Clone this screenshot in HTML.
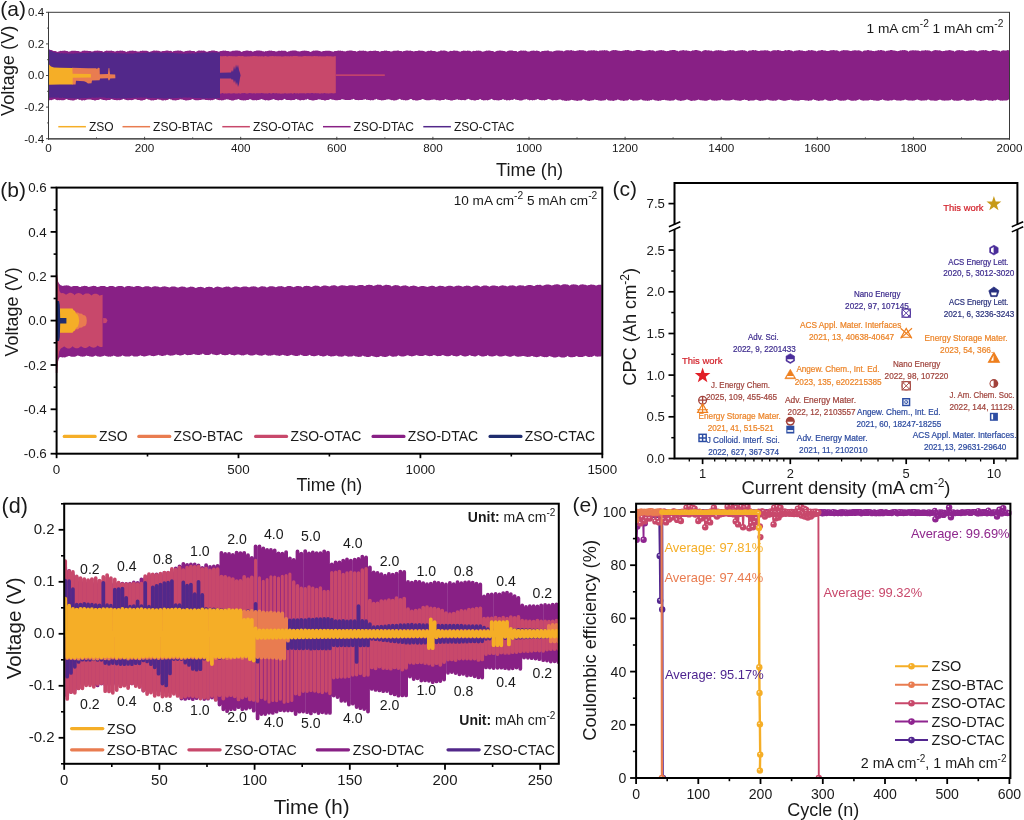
<!DOCTYPE html>
<html><head><meta charset="utf-8"><title>figure</title>
<style>html,body{margin:0;padding:0;background:#fff}svg{display:block;will-change:transform}text{font-family:"Liberation Sans",sans-serif}</style></head>
<body>
<svg width="1024" height="820" viewBox="0 0 1024 820">
<rect width="1024" height="820" fill="#fff"/>
<g id="pa" font-family="Liberation Sans, sans-serif">
<path d="M48.5 49.0 L49.5 49.4 L50.5 50.0 L51.5 50.1 L52.5 50.5 L53.5 50.9 L54.5 51.0 L55.5 51.1 L56.5 51.4 L57.5 51.9 L58.5 51.4 L59.5 51.2 L60.5 50.7 L61.5 50.9 L62.5 50.7 L63.5 50.7 L64.5 50.6 L65.5 50.7 L66.5 51.1 L67.5 51.0 L68.5 51.7 L69.5 51.6 L70.5 51.2 L71.5 50.8 L72.5 50.8 L73.5 50.7 L74.5 50.8 L75.5 50.7 L76.5 50.9 L77.5 51.0 L78.5 51.1 L79.5 51.5 L80.5 51.8 L81.5 51.5 L82.5 50.8 L83.5 50.8 L84.5 50.6 L85.5 50.8 L86.5 50.7 L87.5 50.8 L88.5 50.9 L89.5 50.9 L90.5 51.1 L91.5 51.6 L92.5 51.4 L93.5 51.2 L94.5 50.7 L95.5 50.7 L96.5 50.8 L97.5 50.6 L98.5 50.7 L99.5 50.7 L100.5 51.0 L101.5 51.0 L102.5 51.2 L103.5 52.1 L104.5 51.3 L105.5 51.0 L106.5 50.6 L107.5 50.8 L108.5 50.7 L109.5 50.7 L110.5 50.7 L111.5 50.5 L112.5 51.0 L113.5 51.0 L114.5 51.6 L115.5 51.4 L116.5 51.1 L117.5 50.8 L118.5 50.9 L119.5 50.7 L120.5 50.5 L121.5 50.8 L122.5 50.5 L123.5 50.9 L124.5 50.9 L125.5 51.5 L126.5 52.1 L127.5 51.2 L128.5 51.2 L129.5 50.7 L130.5 50.7 L131.5 50.8 L132.5 50.4 L133.5 50.8 L134.5 50.9 L135.5 50.7 L136.5 51.3 L137.5 51.4 L138.5 51.5 L139.5 51.4 L140.5 50.7 L141.5 50.9 L142.5 50.6 L143.5 50.8 L144.5 50.7 L145.5 50.8 L146.5 50.7 L147.5 50.9 L148.5 51.4 L149.5 52.1 L150.5 51.5 L151.5 51.2 L152.5 51.0 L153.5 50.4 L154.5 50.5 L155.5 50.7 L156.5 50.6 L157.5 50.8 L158.5 50.8 L159.5 51.1 L160.5 51.4 L161.5 51.5 L162.5 51.0 L163.5 51.1 L164.5 50.9 L165.5 50.7 L166.5 50.4 L167.5 50.5 L168.5 50.7 L169.5 51.0 L170.5 50.8 L171.5 51.1 L172.5 52.1 L173.5 51.1 L174.5 50.9 L175.5 50.7 L176.5 50.7 L177.5 50.5 L178.5 50.4 L179.5 50.8 L180.5 50.5 L181.5 50.9 L182.5 51.3 L183.5 51.7 L184.5 51.5 L185.5 51.1 L186.5 50.9 L187.5 50.7 L188.5 50.7 L189.5 50.4 L190.5 50.6 L191.5 50.9 L192.5 51.0 L193.5 50.9 L194.5 51.1 L195.5 52.0 L196.5 51.5 L197.5 51.1 L198.5 50.6 L199.5 50.4 L200.5 50.8 L201.5 50.4 L202.5 50.8 L203.5 50.5 L204.5 50.7 L205.5 51.2 L206.5 51.7 L207.5 51.7 L208.5 51.3 L209.5 51.0 L210.5 50.9 L211.5 50.4 L212.5 50.6 L213.5 50.5 L214.5 50.6 L215.5 50.9 L216.5 51.0 L217.5 51.2 L218.5 51.7 L219.5 51.5 L220.5 51.1 L221.5 50.9 L222.5 50.8 L223.5 50.6 L224.5 50.8 L225.5 50.4 L226.5 51.0 L227.5 50.9 L228.5 51.0 L229.5 51.4 L230.5 51.4 L231.5 51.2 L232.5 50.8 L233.5 50.7 L234.5 50.7 L235.5 50.5 L236.5 50.6 L237.5 50.5 L238.5 50.7 L239.5 50.8 L240.5 51.3 L241.5 51.9 L242.5 51.5 L243.5 51.0 L244.5 51.0 L245.5 50.8 L246.5 50.6 L247.5 50.5 L248.5 50.7 L249.5 50.9 L250.5 50.8 L251.5 51.0 L252.5 51.7 L253.5 51.4 L254.5 51.1 L255.5 51.0 L256.5 50.5 L257.5 50.5 L258.5 50.6 L259.5 50.4 L260.5 50.7 L261.5 50.7 L262.5 51.2 L263.5 51.3 L264.5 51.8 L265.5 51.1 L266.5 51.2 L267.5 51.0 L268.5 50.8 L269.5 50.5 L270.5 50.7 L271.5 50.5 L272.5 51.0 L273.5 50.9 L274.5 51.1 L275.5 51.6 L276.5 51.5 L277.5 51.2 L278.5 50.8 L279.5 50.8 L280.5 50.9 L281.5 50.5 L282.5 50.7 L283.5 50.8 L284.5 50.7 L285.5 50.8 L286.5 51.4 L287.5 52.0 L288.5 51.2 L289.5 51.2 L290.5 50.8 L291.5 50.8 L292.5 50.5 L293.5 50.6 L294.5 50.6 L295.5 50.6 L296.5 50.7 L297.5 51.3 L298.5 51.3 L299.5 51.5 L300.5 51.3 L301.5 51.0 L302.5 50.7 L303.5 50.7 L304.5 50.5 L305.5 50.8 L306.5 50.8 L307.5 51.0 L308.5 51.0 L309.5 51.4 L310.5 52.0 L311.5 51.5 L312.5 51.1 L313.5 50.6 L314.5 50.8 L315.5 50.6 L316.5 50.4 L317.5 50.4 L318.5 50.8 L319.5 50.9 L320.5 51.3 L321.5 51.7 L322.5 51.3 L323.5 51.0 L324.5 50.9 L325.5 50.7 L326.5 50.7 L327.5 50.8 L328.5 50.8 L329.5 50.8 L330.5 51.0 L331.5 51.2 L332.5 51.4 L333.5 51.7 L334.5 51.1 L335.5 50.9 L336.5 50.9 L337.5 50.7 L338.5 50.5 L339.5 50.7 L340.5 50.5 L341.5 50.9 L342.5 50.8 L343.5 51.2 L344.5 51.3 L345.5 51.6 L346.5 51.1 L347.5 50.8 L348.5 50.7 L349.5 50.4 L350.5 50.4 L351.5 50.4 L352.5 50.7 L353.5 50.9 L354.5 51.0 L355.5 51.1 L356.5 51.8 L357.5 51.3 L358.5 51.1 L359.5 50.6 L360.5 50.8 L361.5 50.8 L362.5 50.8 L363.5 50.5 L364.5 50.9 L365.5 50.8 L366.5 51.2 L367.5 51.6 L368.5 51.3 L369.5 51.0 L370.5 50.7 L371.5 50.9 L372.5 50.9 L373.5 50.8 L374.5 50.8 L375.5 50.6 L376.5 51.0 L377.5 50.9 L378.5 51.1 L379.5 51.8 L380.5 51.5 L381.5 51.1 L382.5 51.0 L383.5 50.9 L384.5 50.6 L385.5 50.7 L386.5 50.5 L387.5 50.9 L388.5 51.0 L389.5 51.1 L390.5 51.6 L391.5 51.5 L392.5 51.2 L393.5 50.8 L394.5 50.8 L395.5 50.8 L396.5 50.8 L397.5 50.5 L398.5 50.5 L399.5 51.1 L400.5 51.1 L401.5 51.1 L402.5 51.8 L403.5 51.1 L404.5 51.1 L405.5 50.7 L406.5 50.5 L407.5 50.6 L408.5 50.7 L409.5 50.7 L410.5 50.6 L411.5 51.1 L412.5 50.9 L413.5 51.4 L414.5 51.3 L415.5 51.0 L416.5 51.0 L417.5 50.9 L418.5 50.6 L419.5 50.6 L420.5 50.8 L421.5 50.8 L422.5 50.8 L423.5 51.1 L424.5 51.2 L425.5 51.7 L426.5 51.4 L427.5 51.1 L428.5 50.7 L429.5 50.9 L430.5 50.6 L431.5 50.5 L432.5 50.9 L433.5 50.9 L434.5 51.0 L435.5 51.2 L436.5 51.7 L437.5 51.7 L438.5 51.3 L439.5 51.2 L440.5 50.6 L441.5 50.5 L442.5 50.7 L443.5 50.6 L444.5 50.5 L445.5 50.7 L446.5 50.9 L447.5 51.4 L448.5 51.7 L449.5 51.3 L450.5 50.8 L451.5 50.9 L452.5 50.9 L453.5 50.6 L454.5 50.5 L455.5 50.7 L456.5 50.7 L457.5 50.8 L458.5 51.3 L459.5 51.4 L460.5 51.7 L461.5 51.0 L462.5 50.9 L463.5 50.5 L464.5 50.8 L465.5 50.8 L466.5 50.9 L467.5 50.5 L468.5 50.8 L469.5 50.8 L470.5 51.1 L471.5 51.8 L472.5 51.3 L473.5 50.8 L474.5 50.9 L475.5 50.9 L476.5 50.5 L477.5 50.7 L478.5 50.6 L479.5 50.8 L480.5 50.7 L481.5 51.2 L482.5 51.7 L483.5 51.6 L484.5 51.3 L485.5 50.9 L486.5 50.6 L487.5 50.7 L488.5 50.6 L489.5 50.5 L490.5 50.8 L491.5 51.1 L492.5 50.9 L493.5 51.3 L494.5 52.1 L495.5 51.4 L496.5 51.1 L497.5 50.8 L498.5 50.8 L499.5 50.4 L500.5 50.5 L501.5 50.8 L502.5 50.8 L503.5 51.1 L504.5 51.1 L505.5 51.4 L506.5 51.7 L507.5 51.1 L508.5 50.8 L509.5 50.6 L510.5 50.4 L511.5 50.5 L512.5 50.6 L513.5 50.9 L514.5 51.0 L515.5 50.9 L516.5 51.1 L517.5 51.9 L518.5 51.3 L519.5 50.9 L520.5 50.6 L521.5 50.5 L522.5 50.7 L523.5 50.4 L524.5 50.8 L525.5 50.6 L526.5 51.1 L527.5 51.4 L528.5 51.4 L529.5 51.5 L530.5 51.0 L531.5 50.7 L532.5 50.7 L533.5 50.4 L534.5 50.8 L535.5 50.9 L536.5 50.6 L537.5 50.8 L538.5 50.9 L539.5 51.2 L540.5 52.0 L541.5 51.3 L542.5 51.0 L543.5 51.0 L544.5 50.7 L545.5 50.8 L546.5 50.8 L547.5 50.5 L548.5 50.6 L549.5 51.2 L550.5 51.3 L551.5 51.3 L552.5 51.7 L553.5 51.2 L554.5 51.0 L555.5 50.8 L556.5 50.5 L557.5 50.5 L558.5 50.6 L559.5 50.6 L560.5 50.7 L561.5 50.8 L562.5 50.8 L563.5 51.4 L564.5 50.9 L565.5 50.5 L566.5 50.3 L567.5 50.3 L568.5 50.2 L569.5 50.4 L570.5 50.2 L571.5 50.1 L572.5 50.7 L573.5 50.5 L574.5 51.0 L575.5 51.0 L576.5 50.8 L577.5 50.5 L578.5 50.5 L579.5 50.1 L580.5 50.2 L581.5 50.3 L582.5 50.3 L583.5 50.3 L584.5 50.7 L585.5 50.7 L586.5 51.4 L587.5 50.9 L588.5 50.6 L589.5 50.6 L590.5 50.5 L591.5 50.3 L592.5 50.4 L593.5 50.2 L594.5 50.2 L595.5 50.7 L596.5 50.5 L597.5 51.0 L598.5 51.3 L599.5 50.6 L600.5 50.5 L601.5 50.4 L602.5 50.2 L603.5 50.4 L604.5 50.0 L605.5 50.4 L606.5 50.2 L607.5 50.6 L608.5 51.1 L609.5 51.4 L610.5 50.9 L611.5 50.5 L612.5 50.2 L613.5 50.1 L614.5 50.2 L615.5 50.0 L616.5 50.2 L617.5 50.4 L618.5 50.8 L619.5 50.8 L620.5 51.0 L621.5 50.9 L622.5 50.8 L623.5 50.6 L624.5 50.5 L625.5 50.1 L626.5 50.2 L627.5 50.1 L628.5 50.1 L629.5 50.6 L630.5 50.8 L631.5 50.8 L632.5 51.3 L633.5 50.8 L634.5 50.8 L635.5 50.4 L636.5 50.1 L637.5 50.1 L638.5 50.1 L639.5 50.1 L640.5 50.4 L641.5 50.6 L642.5 50.8 L643.5 50.9 L644.5 51.1 L645.5 50.8 L646.5 50.5 L647.5 50.5 L648.5 50.2 L649.5 50.1 L650.5 50.3 L651.5 50.4 L652.5 50.3 L653.5 50.6 L654.5 51.0 L655.5 51.6 L656.5 50.7 L657.5 50.8 L658.5 50.4 L659.5 50.3 L660.5 50.3 L661.5 50.1 L662.5 50.4 L663.5 50.2 L664.5 50.7 L665.5 51.0 L666.5 51.2 L667.5 50.9 L668.5 50.9 L669.5 50.5 L670.5 50.2 L671.5 50.3 L672.5 50.0 L673.5 50.1 L674.5 50.1 L675.5 50.3 L676.5 50.7 L677.5 50.7 L678.5 51.4 L679.5 50.7 L680.5 50.6 L681.5 50.6 L682.5 50.2 L683.5 50.1 L684.5 50.4 L685.5 50.5 L686.5 50.3 L687.5 50.7 L688.5 50.8 L689.5 51.0 L690.5 51.3 L691.5 50.9 L692.5 50.3 L693.5 50.5 L694.5 50.2 L695.5 50.1 L696.5 50.0 L697.5 50.2 L698.5 50.4 L699.5 50.7 L700.5 51.0 L701.5 51.7 L702.5 50.9 L703.5 50.6 L704.5 50.3 L705.5 50.1 L706.5 50.2 L707.5 50.4 L708.5 50.2 L709.5 50.4 L710.5 50.7 L711.5 50.6 L712.5 51.2 L713.5 51.2 L714.5 50.8 L715.5 50.6 L716.5 50.2 L717.5 50.4 L718.5 50.0 L719.5 50.4 L720.5 50.3 L721.5 50.5 L722.5 50.7 L723.5 50.8 L724.5 51.3 L725.5 50.9 L726.5 50.9 L727.5 50.6 L728.5 50.4 L729.5 50.3 L730.5 50.1 L731.5 50.4 L732.5 50.2 L733.5 50.3 L734.5 50.8 L735.5 51.2 L736.5 50.9 L737.5 50.7 L738.5 50.5 L739.5 50.5 L740.5 50.3 L741.5 50.2 L742.5 50.1 L743.5 50.4 L744.5 50.2 L745.5 50.7 L746.5 50.9 L747.5 51.7 L748.5 50.8 L749.5 50.4 L750.5 50.4 L751.5 50.5 L752.5 50.0 L753.5 50.0 L754.5 50.4 L755.5 50.1 L756.5 50.4 L757.5 50.7 L758.5 50.9 L759.5 50.9 L760.5 50.5 L761.5 50.4 L762.5 50.5 L763.5 50.4 L764.5 50.3 L765.5 50.3 L766.5 50.5 L767.5 50.2 L768.5 50.8 L769.5 51.0 L770.5 51.4 L771.5 51.0 L772.5 50.5 L773.5 50.3 L774.5 50.2 L775.5 50.3 L776.5 50.4 L777.5 50.1 L778.5 50.1 L779.5 50.6 L780.5 50.6 L781.5 50.9 L782.5 51.1 L783.5 50.9 L784.5 50.4 L785.5 50.1 L786.5 50.4 L787.5 50.3 L788.5 50.1 L789.5 50.1 L790.5 50.5 L791.5 50.4 L792.5 50.9 L793.5 51.5 L794.5 50.8 L795.5 50.7 L796.5 50.6 L797.5 50.5 L798.5 50.3 L799.5 50.0 L800.5 50.4 L801.5 50.4 L802.5 50.4 L803.5 51.0 L804.5 50.9 L805.5 51.3 L806.5 50.7 L807.5 50.7 L808.5 50.1 L809.5 50.2 L810.5 50.4 L811.5 50.0 L812.5 50.2 L813.5 50.6 L814.5 50.8 L815.5 50.8 L816.5 51.5 L817.5 50.9 L818.5 50.5 L819.5 50.6 L820.5 50.4 L821.5 50.1 L822.5 50.0 L823.5 50.4 L824.5 50.4 L825.5 50.5 L826.5 51.0 L827.5 51.0 L828.5 51.0 L829.5 50.7 L830.5 50.3 L831.5 50.3 L832.5 50.3 L833.5 50.1 L834.5 50.3 L835.5 50.5 L836.5 50.3 L837.5 50.4 L838.5 50.9 L839.5 51.4 L840.5 50.9 L841.5 50.6 L842.5 50.4 L843.5 50.1 L844.5 50.2 L845.5 50.2 L846.5 50.2 L847.5 50.3 L848.5 50.5 L849.5 50.7 L850.5 51.1 L851.5 51.0 L852.5 50.6 L853.5 50.4 L854.5 50.2 L855.5 50.3 L856.5 50.4 L857.5 50.5 L858.5 50.2 L859.5 50.6 L860.5 50.7 L861.5 51.2 L862.5 51.7 L863.5 50.7 L864.5 50.4 L865.5 50.6 L866.5 50.4 L867.5 50.1 L868.5 50.0 L869.5 50.5 L870.5 50.5 L871.5 50.6 L872.5 50.9 L873.5 51.0 L874.5 51.3 L875.5 50.8 L876.5 50.7 L877.5 50.4 L878.5 50.1 L879.5 50.4 L880.5 50.1 L881.5 50.1 L882.5 50.4 L883.5 50.6 L884.5 50.8 L885.5 51.6 L886.5 50.8 L887.5 50.8 L888.5 50.5 L889.5 50.5 L890.5 50.1 L891.5 50.1 L892.5 50.2 L893.5 50.4 L894.5 50.6 L895.5 50.8 L896.5 51.1 L897.5 51.3 L898.5 50.9 L899.5 50.7 L900.5 50.3 L901.5 50.4 L902.5 50.1 L903.5 50.2 L904.5 50.0 L905.5 50.3 L906.5 50.6 L907.5 50.8 L908.5 51.7 L909.5 50.7 L910.5 50.6 L911.5 50.6 L912.5 50.2 L913.5 50.3 L914.5 50.4 L915.5 50.2 L916.5 50.4 L917.5 50.5 L918.5 50.5 L919.5 50.9 L920.5 51.3 L921.5 50.6 L922.5 50.6 L923.5 50.5 L924.5 50.5 L925.5 50.1 L926.5 50.4 L927.5 50.3 L928.5 50.4 L929.5 50.4 L930.5 51.1 L931.5 51.6 L932.5 51.1 L933.5 50.5 L934.5 50.3 L935.5 50.1 L936.5 50.2 L937.5 50.3 L938.5 50.4 L939.5 50.2 L940.5 50.5 L941.5 50.9 L942.5 51.3 L943.5 51.0 L944.5 50.9 L945.5 50.4 L946.5 50.4 L947.5 50.4 L948.5 50.3 L949.5 50.1 L950.5 50.3 L951.5 50.6 L952.5 50.8 L953.5 50.7 L954.5 51.7 L955.5 51.0 L956.5 50.5 L957.5 50.3 L958.5 50.3 L959.5 50.1 L960.5 50.4 L961.5 50.2 L962.5 50.3 L963.5 50.5 L964.5 51.0 L965.5 51.2 L966.5 51.0 L967.5 50.9 L968.5 50.4 L969.5 50.4 L970.5 50.3 L971.5 50.3 L972.5 50.5 L973.5 50.3 L974.5 50.5 L975.5 50.8 L976.5 51.1 L977.5 51.5 L978.5 51.0 L979.5 50.6 L980.5 50.6 L981.5 50.3 L982.5 50.2 L983.5 50.0 L984.5 50.4 L985.5 50.1 L986.5 50.3 L987.5 50.7 L988.5 51.1 L989.5 51.2 L990.5 50.9 L991.5 50.7 L992.5 50.1 L993.5 50.0 L994.5 50.3 L995.5 50.2 L996.5 50.3 L997.5 50.6 L998.5 50.7 L999.5 50.8 L1000.5 51.7 L1001.5 50.7 L1002.5 50.5 L1003.5 50.3 L1004.5 50.4 L1005.5 50.5 L1006.5 50.4 L1007.5 50.1 L1008.5 50.3 L1009.5 50.3 L1009.5 99.8 L1008.5 99.6 L1007.5 100.2 L1006.5 100.5 L1005.5 100.5 L1004.5 100.5 L1003.5 100.5 L1002.5 100.8 L1001.5 100.5 L1000.5 100.7 L999.5 100.2 L998.5 100.0 L997.5 99.5 L996.5 99.9 L995.5 100.4 L994.5 100.3 L993.5 100.5 L992.5 100.9 L991.5 100.6 L990.5 100.6 L989.5 100.4 L988.5 100.6 L987.5 99.9 L986.5 99.8 L985.5 99.9 L984.5 100.2 L983.5 100.5 L982.5 100.6 L981.5 100.8 L980.5 100.9 L979.5 100.6 L978.5 100.4 L977.5 100.4 L976.5 100.3 L975.5 99.7 L974.5 99.3 L973.5 100.2 L972.5 100.1 L971.5 100.6 L970.5 100.6 L969.5 100.6 L968.5 100.8 L967.5 100.7 L966.5 100.7 L965.5 100.3 L964.5 100.3 L963.5 99.6 L962.5 99.8 L961.5 100.1 L960.5 100.4 L959.5 100.4 L958.5 100.8 L957.5 100.8 L956.5 100.8 L955.5 100.5 L954.5 100.7 L953.5 100.4 L952.5 100.1 L951.5 99.3 L950.5 100.2 L949.5 100.3 L948.5 100.5 L947.5 100.4 L946.5 100.5 L945.5 100.6 L944.5 100.8 L943.5 100.5 L942.5 100.5 L941.5 100.2 L940.5 99.8 L939.5 99.7 L938.5 99.9 L937.5 100.5 L936.5 100.7 L935.5 100.8 L934.5 100.8 L933.5 100.5 L932.5 100.5 L931.5 100.5 L930.5 100.5 L929.5 100.1 L928.5 99.4 L927.5 99.8 L926.5 100.4 L925.5 100.3 L924.5 100.4 L923.5 100.5 L922.5 100.5 L921.5 100.8 L920.5 100.6 L919.5 100.2 L918.5 99.9 L917.5 99.6 L916.5 99.7 L915.5 99.9 L914.5 100.4 L913.5 100.5 L912.5 100.7 L911.5 100.6 L910.5 100.5 L909.5 100.6 L908.5 100.5 L907.5 100.3 L906.5 100.0 L905.5 99.5 L904.5 99.8 L903.5 100.3 L902.5 100.3 L901.5 100.5 L900.5 100.7 L899.5 100.5 L898.5 100.6 L897.5 100.4 L896.5 100.4 L895.5 100.1 L894.5 99.8 L893.5 99.7 L892.5 100.3 L891.5 100.4 L890.5 100.3 L889.5 100.6 L888.5 100.7 L887.5 100.8 L886.5 100.4 L885.5 100.6 L884.5 100.2 L883.5 100.0 L882.5 99.2 L881.5 100.1 L880.5 100.1 L879.5 100.6 L878.5 100.7 L877.5 100.8 L876.5 100.7 L875.5 100.5 L874.5 100.4 L873.5 100.4 L872.5 99.9 L871.5 99.9 L870.5 99.8 L869.5 100.0 L868.5 100.4 L867.5 100.6 L866.5 100.4 L865.5 100.6 L864.5 100.5 L863.5 100.8 L862.5 100.5 L861.5 100.3 L860.5 100.1 L859.5 99.3 L858.5 99.7 L857.5 100.0 L856.5 100.6 L855.5 100.8 L854.5 100.5 L853.5 100.8 L852.5 100.8 L851.5 100.8 L850.5 100.5 L849.5 100.1 L848.5 99.7 L847.5 99.5 L846.5 100.0 L845.5 100.5 L844.5 100.5 L843.5 100.8 L842.5 100.5 L841.5 100.8 L840.5 100.7 L839.5 100.4 L838.5 100.2 L837.5 99.8 L836.5 99.2 L835.5 99.9 L834.5 100.0 L833.5 100.3 L832.5 100.7 L831.5 100.6 L830.5 100.9 L829.5 100.7 L828.5 100.8 L827.5 100.6 L826.5 100.0 L825.5 99.5 L824.5 99.5 L823.5 100.3 L822.5 100.6 L821.5 100.4 L820.5 100.4 L819.5 100.8 L818.5 100.9 L817.5 100.6 L816.5 100.5 L815.5 100.1 L814.5 99.9 L813.5 99.2 L812.5 99.8 L811.5 100.4 L810.5 100.4 L809.5 100.5 L808.5 100.9 L807.5 100.6 L806.5 100.6 L805.5 100.5 L804.5 100.2 L803.5 100.1 L802.5 99.9 L801.5 99.9 L800.5 99.9 L799.5 100.5 L798.5 100.8 L797.5 100.8 L796.5 100.5 L795.5 100.8 L794.5 100.6 L793.5 100.4 L792.5 100.2 L791.5 100.1 L790.5 99.4 L789.5 100.0 L788.5 100.1 L787.5 100.3 L786.5 100.5 L785.5 100.8 L784.5 100.7 L783.5 100.7 L782.5 100.4 L781.5 100.2 L780.5 99.9 L779.5 99.8 L778.5 99.6 L777.5 100.0 L776.5 100.4 L775.5 100.7 L774.5 100.6 L773.5 100.7 L772.5 100.8 L771.5 100.4 L770.5 100.4 L769.5 100.3 L768.5 99.9 L767.5 99.4 L766.5 99.7 L765.5 100.3 L764.5 100.3 L763.5 100.6 L762.5 100.7 L761.5 100.5 L760.5 100.9 L759.5 100.8 L758.5 100.4 L757.5 100.0 L756.5 99.7 L755.5 99.8 L754.5 100.3 L753.5 100.5 L752.5 100.5 L751.5 100.6 L750.5 100.6 L749.5 100.7 L748.5 100.9 L747.5 100.3 L746.5 100.1 L745.5 100.0 L744.5 99.5 L743.5 99.9 L742.5 100.0 L741.5 100.4 L740.5 100.7 L739.5 100.7 L738.5 100.6 L737.5 100.5 L736.5 100.3 L735.5 100.3 L734.5 100.1 L733.5 99.6 L732.5 99.7 L731.5 100.0 L730.5 100.3 L729.5 100.5 L728.5 100.6 L727.5 100.6 L726.5 100.5 L725.5 100.5 L724.5 100.2 L723.5 100.3 L722.5 99.7 L721.5 99.2 L720.5 100.2 L719.5 100.2 L718.5 100.3 L717.5 100.4 L716.5 100.7 L715.5 100.5 L714.5 100.7 L713.5 100.4 L712.5 100.4 L711.5 100.3 L710.5 99.6 L709.5 99.8 L708.5 99.9 L707.5 100.5 L706.5 100.8 L705.5 100.8 L704.5 100.8 L703.5 100.5 L702.5 100.6 L701.5 100.3 L700.5 100.2 L699.5 99.9 L698.5 99.5 L697.5 99.9 L696.5 100.3 L695.5 100.6 L694.5 100.8 L693.5 100.5 L692.5 100.8 L691.5 100.9 L690.5 100.7 L689.5 100.2 L688.5 100.1 L687.5 99.6 L686.5 99.6 L685.5 100.1 L684.5 100.2 L683.5 100.4 L682.5 100.4 L681.5 100.7 L680.5 100.9 L679.5 100.4 L678.5 100.5 L677.5 100.2 L676.5 99.7 L675.5 99.3 L674.5 99.9 L673.5 100.4 L672.5 100.5 L671.5 100.5 L670.5 100.8 L669.5 100.7 L668.5 100.6 L667.5 100.6 L666.5 100.3 L665.5 100.3 L664.5 99.7 L663.5 99.9 L662.5 100.1 L661.5 100.2 L660.5 100.7 L659.5 100.6 L658.5 100.9 L657.5 100.7 L656.5 100.6 L655.5 100.5 L654.5 100.2 L653.5 99.8 L652.5 99.5 L651.5 100.2 L650.5 100.1 L649.5 100.7 L648.5 100.6 L647.5 100.9 L646.5 100.5 L645.5 100.7 L644.5 100.6 L643.5 100.5 L642.5 100.2 L641.5 99.6 L640.5 99.6 L639.5 100.1 L638.5 100.2 L637.5 100.6 L636.5 100.5 L635.5 100.6 L634.5 100.5 L633.5 100.8 L632.5 100.5 L631.5 100.1 L630.5 99.9 L629.5 99.1 L628.5 100.1 L627.5 100.4 L626.5 100.4 L625.5 100.4 L624.5 100.8 L623.5 100.9 L622.5 100.6 L621.5 100.6 L620.5 100.6 L619.5 100.0 L618.5 99.8 L617.5 99.6 L616.5 100.3 L615.5 100.2 L614.5 100.6 L613.5 100.9 L612.5 100.8 L611.5 100.6 L610.5 100.8 L609.5 100.4 L608.5 100.4 L607.5 99.9 L606.5 99.1 L605.5 100.2 L604.5 100.2 L603.5 100.6 L602.5 100.4 L601.5 100.8 L600.5 100.7 L599.5 100.6 L598.5 100.4 L597.5 100.1 L596.5 99.9 L595.5 99.8 L594.5 99.6 L593.5 100.3 L592.5 100.3 L591.5 100.4 L590.5 100.6 L589.5 100.9 L588.5 100.8 L587.5 100.8 L586.5 100.2 L585.5 100.2 L584.5 99.8 L583.5 99.2 L582.5 99.8 L581.5 100.4 L580.5 100.4 L579.5 100.6 L578.5 100.6 L577.5 100.9 L576.5 100.8 L575.5 100.4 L574.5 100.6 L573.5 100.3 L572.5 99.9 L571.5 99.7 L570.5 100.2 L569.5 100.4 L568.5 100.7 L567.5 100.6 L566.5 100.9 L565.5 100.8 L564.5 100.7 L563.5 100.3 L562.5 100.5 L561.5 100.1 L560.5 99.5 L559.5 99.6 L558.5 99.8 L557.5 100.1 L556.5 100.3 L555.5 100.3 L554.5 100.1 L553.5 100.3 L552.5 100.4 L551.5 100.1 L550.5 99.5 L549.5 99.3 L548.5 99.1 L547.5 99.6 L546.5 100.1 L545.5 100.0 L544.5 100.5 L543.5 100.1 L542.5 100.3 L541.5 100.2 L540.5 100.1 L539.5 100.0 L538.5 99.3 L537.5 99.0 L536.5 99.8 L535.5 99.7 L534.5 100.3 L533.5 100.0 L532.5 100.5 L531.5 100.1 L530.5 100.1 L529.5 100.4 L528.5 99.8 L527.5 99.7 L526.5 99.1 L525.5 99.5 L524.5 99.5 L523.5 99.7 L522.5 100.2 L521.5 100.5 L520.5 100.5 L519.5 100.5 L518.5 100.0 L517.5 99.9 L516.5 99.7 L515.5 99.8 L514.5 98.7 L513.5 99.6 L512.5 100.0 L511.5 99.8 L510.5 100.1 L509.5 100.5 L508.5 100.1 L507.5 100.2 L506.5 100.4 L505.5 99.8 L504.5 99.9 L503.5 99.2 L502.5 99.2 L501.5 99.9 L500.5 100.0 L499.5 100.2 L498.5 100.5 L497.5 100.2 L496.5 100.3 L495.5 100.0 L494.5 100.3 L493.5 100.0 L492.5 99.5 L491.5 98.7 L490.5 99.5 L489.5 99.8 L488.5 100.0 L487.5 100.4 L486.5 100.1 L485.5 100.3 L484.5 100.3 L483.5 100.4 L482.5 99.9 L481.5 99.9 L480.5 99.1 L479.5 99.2 L478.5 99.9 L477.5 100.1 L476.5 100.0 L475.5 100.4 L474.5 100.4 L473.5 100.2 L472.5 100.1 L471.5 100.2 L470.5 99.8 L469.5 99.6 L468.5 98.8 L467.5 99.3 L466.5 99.6 L465.5 100.2 L464.5 100.2 L463.5 100.1 L462.5 100.1 L461.5 100.3 L460.5 99.9 L459.5 99.8 L458.5 99.9 L457.5 99.3 L456.5 99.5 L455.5 99.7 L454.5 99.9 L453.5 100.0 L452.5 100.4 L451.5 100.5 L450.5 100.4 L449.5 100.0 L448.5 100.0 L447.5 99.7 L446.5 99.7 L445.5 98.9 L444.5 99.7 L443.5 99.9 L442.5 100.0 L441.5 100.0 L440.5 100.5 L439.5 100.5 L438.5 100.2 L437.5 100.1 L436.5 100.2 L435.5 99.7 L434.5 99.5 L433.5 99.6 L432.5 99.8 L431.5 99.8 L430.5 99.9 L429.5 100.2 L428.5 100.2 L427.5 100.3 L426.5 100.2 L425.5 100.1 L424.5 99.8 L423.5 99.3 L422.5 98.9 L421.5 99.4 L420.5 99.9 L419.5 99.9 L418.5 100.3 L417.5 100.5 L416.5 100.4 L415.5 100.4 L414.5 100.1 L413.5 100.2 L412.5 99.9 L411.5 99.1 L410.5 99.1 L409.5 99.6 L408.5 100.1 L407.5 100.3 L406.5 100.3 L405.5 100.5 L404.5 100.0 L403.5 100.3 L402.5 99.8 L401.5 99.9 L400.5 99.3 L399.5 98.7 L398.5 99.5 L397.5 99.8 L396.5 100.2 L395.5 100.2 L394.5 100.5 L393.5 100.5 L392.5 100.0 L391.5 100.3 L390.5 99.7 L389.5 99.5 L388.5 99.3 L387.5 99.4 L386.5 99.5 L385.5 100.0 L384.5 100.0 L383.5 100.2 L382.5 100.3 L381.5 100.4 L380.5 100.0 L379.5 100.1 L378.5 99.8 L377.5 99.7 L376.5 98.7 L375.5 99.6 L374.5 99.6 L373.5 100.3 L372.5 100.2 L371.5 100.1 L370.5 100.4 L369.5 100.0 L368.5 99.9 L367.5 99.7 L366.5 99.9 L365.5 99.1 L364.5 99.4 L363.5 99.6 L362.5 99.9 L361.5 100.1 L360.5 100.1 L359.5 100.1 L358.5 100.2 L357.5 100.0 L356.5 99.9 L355.5 100.1 L354.5 99.5 L353.5 98.7 L352.5 99.5 L351.5 99.6 L350.5 100.1 L349.5 100.0 L348.5 100.1 L347.5 100.1 L346.5 100.1 L345.5 100.0 L344.5 99.8 L343.5 99.6 L342.5 99.3 L341.5 99.3 L340.5 99.9 L339.5 99.9 L338.5 100.1 L337.5 100.3 L336.5 100.3 L335.5 100.3 L334.5 100.1 L333.5 99.8 L332.5 99.8 L331.5 99.5 L330.5 99.1 L329.5 99.5 L328.5 100.0 L327.5 100.1 L326.5 100.0 L325.5 100.5 L324.5 100.5 L323.5 100.0 L322.5 100.1 L321.5 100.0 L320.5 99.5 L319.5 99.6 L318.5 99.3 L317.5 99.7 L316.5 100.0 L315.5 100.1 L314.5 100.2 L313.5 100.4 L312.5 100.4 L311.5 100.2 L310.5 100.0 L309.5 100.1 L308.5 99.6 L307.5 98.8 L306.5 99.7 L305.5 99.6 L304.5 99.9 L303.5 100.2 L302.5 100.1 L301.5 100.1 L300.5 100.4 L299.5 100.3 L298.5 99.8 L297.5 99.8 L296.5 99.1 L295.5 99.2 L294.5 99.9 L293.5 100.1 L292.5 100.1 L291.5 100.2 L290.5 100.2 L289.5 100.1 L288.5 100.1 L287.5 100.0 L286.5 99.9 L285.5 99.6 L284.5 98.7 L283.5 99.5 L282.5 99.9 L281.5 100.2 L280.5 100.0 L279.5 100.1 L278.5 100.5 L277.5 100.3 L276.5 100.0 L275.5 100.1 L274.5 99.6 L273.5 99.1 L272.5 99.4 L271.5 99.8 L270.5 100.1 L269.5 100.2 L268.5 100.4 L267.5 100.2 L266.5 100.1 L265.5 100.4 L264.5 100.1 L263.5 99.7 L262.5 99.5 L261.5 98.9 L260.5 99.5 L259.5 99.8 L258.5 100.1 L257.5 100.1 L256.5 100.4 L255.5 100.1 L254.5 100.2 L253.5 100.3 L252.5 100.2 L251.5 99.8 L250.5 99.2 L249.5 99.2 L248.5 99.9 L247.5 100.1 L246.5 100.0 L245.5 100.5 L244.5 100.2 L243.5 100.4 L242.5 100.2 L241.5 100.2 L240.5 99.9 L239.5 99.8 L238.5 99.0 L237.5 99.5 L236.5 99.8 L235.5 99.8 L234.5 100.1 L233.5 100.5 L232.5 100.4 L231.5 100.5 L230.5 100.0 L229.5 100.0 L228.5 99.6 L227.5 99.4 L226.5 99.3 L225.5 99.8 L224.5 99.8 L223.5 100.2 L222.5 100.3 L221.5 100.4 L220.5 100.1 L219.5 100.2 L218.5 100.1 L217.5 99.8 L216.5 99.5 L215.5 98.8 L214.5 99.6 L213.5 99.7 L212.5 100.2 L211.5 100.1 L210.5 100.5 L209.5 100.1 L208.5 100.3 L207.5 99.9 L206.5 100.0 L205.5 99.9 L204.5 99.5 L203.5 99.5 L202.5 99.5 L201.5 99.8 L200.5 99.9 L199.5 100.1 L198.5 100.3 L197.5 100.3 L196.5 100.3 L195.5 100.3 L194.5 100.0 L193.5 99.5 L192.5 99.0 L191.5 99.5 L190.5 100.0 L189.5 100.0 L188.5 100.3 L187.5 100.2 L186.5 100.4 L185.5 100.4 L184.5 100.1 L183.5 100.0 L182.5 99.6 L181.5 99.4 L180.5 99.2 L179.5 99.6 L178.5 100.0 L177.5 100.1 L176.5 100.2 L175.5 100.4 L174.5 100.2 L173.5 100.2 L172.5 100.2 L171.5 99.6 L170.5 99.4 L169.5 98.7 L168.5 99.5 L167.5 99.9 L166.5 99.9 L165.5 100.4 L164.5 100.0 L163.5 100.5 L162.5 100.4 L161.5 100.3 L160.5 99.8 L159.5 99.8 L158.5 99.5 L157.5 99.2 L156.5 99.9 L155.5 100.0 L154.5 100.0 L153.5 100.4 L152.5 100.3 L151.5 100.5 L150.5 100.3 L149.5 99.8 L148.5 99.7 L147.5 99.3 L146.5 98.8 L145.5 99.5 L144.5 100.0 L143.5 99.9 L142.5 100.4 L141.5 100.5 L140.5 100.5 L139.5 100.1 L138.5 100.1 L137.5 99.9 L136.5 99.6 L135.5 99.2 L134.5 99.2 L133.5 99.8 L132.5 99.9 L131.5 100.3 L130.5 100.1 L129.5 100.1 L128.5 100.3 L127.5 100.3 L126.5 99.9 L125.5 99.8 L124.5 99.5 L123.5 98.7 L122.5 99.5 L121.5 99.7 L120.5 99.9 L119.5 100.3 L118.5 100.0 L117.5 100.2 L116.5 100.3 L115.5 100.0 L114.5 99.9 L113.5 99.7 L112.5 99.6 L111.5 99.1 L110.5 99.8 L109.5 99.9 L108.5 100.1 L107.5 100.0 L106.5 100.4 L105.5 100.3 L104.5 100.0 L103.5 100.1 L102.5 99.7 L101.5 99.6 L100.5 98.9 L99.5 99.6 L98.5 99.9 L97.5 100.1 L96.5 100.1 L95.5 100.5 L94.5 100.5 L93.5 100.1 L92.5 100.1 L91.5 99.7 L90.5 99.5 L89.5 99.6 L88.5 99.6 L87.5 99.6 L86.5 99.7 L85.5 99.9 L84.5 100.4 L83.5 100.1 L82.5 100.4 L81.5 100.4 L80.5 99.8 L79.5 99.9 L78.5 99.4 L77.5 98.9 L76.5 99.8 L75.5 99.7 L74.5 100.3 L73.5 100.4 L72.5 100.5 L71.5 100.3 L70.5 100.2 L69.5 100.0 L68.5 99.9 L67.5 99.6 L66.5 99.1 L65.5 99.5 L64.5 99.9 L63.5 100.2 L62.5 100.3 L61.5 100.2 L60.5 100.1 L59.5 100.3 L58.5 100.0 L57.5 100.2 L56.5 100.0 L55.5 99.4 L54.5 98.9 L53.5 99.5 L52.5 99.7 L51.5 100.2 L50.5 100.0 L49.5 100.3 L48.5 100.3Z" fill="#882085"/>
<path d="M220.0 56.2 L221.0 56.1 L222.0 56.4 L223.0 56.0 L224.0 56.2 L225.0 56.0 L226.0 56.1 L227.0 56.4 L228.0 56.2 L229.0 56.0 L230.0 56.0 L231.0 56.3 L232.0 56.1 L233.0 56.4 L234.0 55.9 L235.0 56.4 L236.0 56.3 L237.0 56.4 L238.0 56.1 L239.0 55.9 L240.0 56.0 L241.0 56.3 L242.0 55.9 L243.0 56.0 L244.0 56.4 L245.0 56.4 L246.0 56.4 L247.0 56.4 L248.0 56.2 L249.0 56.4 L250.0 56.3 L251.0 56.2 L252.0 56.2 L253.0 55.9 L254.0 56.0 L255.0 56.0 L256.0 56.2 L257.0 56.0 L258.0 56.5 L259.0 56.2 L260.0 56.3 L261.0 56.4 L262.0 56.0 L263.0 56.4 L264.0 56.5 L265.0 56.1 L266.0 56.0 L267.0 56.4 L268.0 56.4 L269.0 56.4 L270.0 56.1 L271.0 56.3 L272.0 56.0 L273.0 56.0 L274.0 56.2 L275.0 56.3 L276.0 56.0 L277.0 56.5 L278.0 55.9 L279.0 56.5 L280.0 56.0 L281.0 56.4 L282.0 56.4 L283.0 56.5 L284.0 56.2 L285.0 56.3 L286.0 56.1 L287.0 56.4 L288.0 56.0 L289.0 56.4 L290.0 56.3 L291.0 55.9 L292.0 56.5 L293.0 56.1 L294.0 55.9 L295.0 56.1 L296.0 55.9 L297.0 56.1 L298.0 56.3 L299.0 56.5 L300.0 56.3 L301.0 56.4 L302.0 56.4 L303.0 56.3 L304.0 56.1 L305.0 56.1 L306.0 56.0 L307.0 56.2 L308.0 56.0 L309.0 56.3 L310.0 56.1 L311.0 56.2 L312.0 56.2 L313.0 56.3 L314.0 56.0 L315.0 56.1 L316.0 56.3 L317.0 56.0 L318.0 56.3 L319.0 56.5 L320.0 56.1 L321.0 56.5 L322.0 56.3 L323.0 56.5 L324.0 56.2 L325.0 56.4 L326.0 56.3 L327.0 56.0 L328.0 56.2 L329.0 56.2 L330.0 56.2 L331.0 56.3 L332.0 56.4 L333.0 56.4 L334.0 56.4 L335.0 56.0 L335.8 56.3 L335.8 93.0 L335.0 93.2 L334.0 93.3 L333.0 93.6 L332.0 93.0 L331.0 93.2 L330.0 93.2 L329.0 93.6 L328.0 93.6 L327.0 93.2 L326.0 93.6 L325.0 93.0 L324.0 93.1 L323.0 93.6 L322.0 93.3 L321.0 93.2 L320.0 93.7 L319.0 93.2 L318.0 93.3 L317.0 93.3 L316.0 93.2 L315.0 93.1 L314.0 93.6 L313.0 93.0 L312.0 93.0 L311.0 93.0 L310.0 93.5 L309.0 93.0 L308.0 93.2 L307.0 93.0 L306.0 93.6 L305.0 93.6 L304.0 93.1 L303.0 93.6 L302.0 92.9 L301.0 93.4 L300.0 93.0 L299.0 93.4 L298.0 93.6 L297.0 93.0 L296.0 93.7 L295.0 93.1 L294.0 92.9 L293.0 93.7 L292.0 93.5 L291.0 93.1 L290.0 93.5 L289.0 93.3 L288.0 93.4 L287.0 93.4 L286.0 93.4 L285.0 93.1 L284.0 93.4 L283.0 93.4 L282.0 93.5 L281.0 93.7 L280.0 93.4 L279.0 93.2 L278.0 93.4 L277.0 93.2 L276.0 93.0 L275.0 93.5 L274.0 93.0 L273.0 93.0 L272.0 93.2 L271.0 93.7 L270.0 92.9 L269.0 93.0 L268.0 93.5 L267.0 93.6 L266.0 93.2 L265.0 93.4 L264.0 93.3 L263.0 93.3 L262.0 92.9 L261.0 93.1 L260.0 93.4 L259.0 93.0 L258.0 93.5 L257.0 93.1 L256.0 93.4 L255.0 93.5 L254.0 93.1 L253.0 93.5 L252.0 93.3 L251.0 93.2 L250.0 93.0 L249.0 93.0 L248.0 93.6 L247.0 93.5 L246.0 93.6 L245.0 93.1 L244.0 93.0 L243.0 93.3 L242.0 93.1 L241.0 93.4 L240.0 93.7 L239.0 93.0 L238.0 93.6 L237.0 93.5 L236.0 93.4 L235.0 93.5 L234.0 93.1 L233.0 93.5 L232.0 93.3 L231.0 93.7 L230.0 93.3 L229.0 93.3 L228.0 93.2 L227.0 93.4 L226.0 93.5 L225.0 93.2 L224.0 93.7 L223.0 93.0 L222.0 92.9 L221.0 93.7 L220.0 93.4Z" fill="#C8486B"/>
<rect x="335.8" y="74.4" width="49.0" height="1.5" fill="#C8486B"/>
<path d="M48.5 49.8 L49.5 50.2 L50.5 50.8 L51.5 51.2 L52.5 51.4 L53.5 52.2 L54.5 52.2 L55.5 52.6 L56.5 53.1 L57.5 53.1 L58.5 53.3 L59.5 53.1 L60.5 53.4 L61.5 53.0 L62.5 53.3 L63.5 53.5 L64.5 53.2 L65.5 53.6 L66.5 53.3 L67.5 53.4 L68.5 53.7 L69.5 53.6 L70.5 53.6 L71.5 53.5 L72.5 53.4 L73.5 53.7 L74.5 53.3 L75.5 53.4 L76.5 53.3 L77.5 53.3 L78.5 53.2 L79.5 53.2 L80.5 53.1 L81.5 53.0 L82.5 53.1 L83.5 53.1 L84.5 52.9 L85.5 53.2 L86.5 52.9 L87.5 52.9 L88.5 53.0 L89.5 52.6 L90.5 52.7 L91.5 52.6 L92.5 52.8 L93.5 52.3 L94.5 52.4 L95.5 52.4 L96.5 52.7 L97.5 52.4 L98.5 52.6 L99.5 52.4 L100.5 52.5 L101.5 52.6 L102.5 52.7 L103.5 52.4 L104.5 52.4 L105.5 52.8 L106.5 52.6 L107.5 52.9 L108.5 52.6 L109.5 52.8 L110.5 52.8 L111.5 52.8 L112.5 53.0 L113.5 53.0 L114.5 53.2 L115.5 53.3 L116.5 53.1 L117.5 53.4 L118.5 53.0 L119.5 53.3 L120.5 53.2 L121.5 53.3 L122.5 53.4 L123.5 53.6 L124.5 53.3 L125.5 53.3 L126.5 53.7 L127.5 53.6 L128.5 53.4 L129.5 53.4 L130.5 53.2 L131.5 53.4 L132.5 53.6 L133.5 53.4 L134.5 53.3 L135.5 53.1 L136.5 53.3 L137.5 53.1 L138.5 53.1 L139.5 53.0 L140.5 53.0 L141.5 52.9 L142.5 52.9 L143.5 52.7 L144.5 52.7 L145.5 53.0 L146.5 52.8 L147.5 52.5 L148.5 52.8 L149.5 52.7 L150.5 52.6 L151.5 52.6 L152.5 52.7 L153.5 52.4 L154.5 52.5 L155.5 52.7 L156.5 52.6 L157.5 52.6 L158.5 52.7 L159.5 52.8 L160.5 52.5 L161.5 52.7 L162.5 52.7 L163.5 52.9 L164.5 52.7 L165.5 52.8 L166.5 52.7 L167.5 52.6 L168.5 53.1 L169.5 52.8 L170.5 53.0 L171.5 53.1 L172.5 53.1 L173.5 53.0 L174.5 53.2 L175.5 53.2 L176.5 53.3 L177.5 53.3 L178.5 53.6 L179.5 53.6 L180.5 53.3 L181.5 53.7 L182.5 53.3 L183.5 53.7 L184.5 53.6 L185.5 53.6 L186.5 53.5 L187.5 53.5 L188.5 53.3 L189.5 53.2 L190.5 53.6 L191.5 53.5 L192.5 53.1 L193.5 53.5 L194.5 53.4 L195.5 53.2 L196.5 53.3 L197.5 52.8 L198.5 52.7 L199.5 53.0 L200.5 52.7 L201.5 52.7 L202.5 52.8 L203.5 52.5 L204.5 52.5 L205.5 52.7 L206.5 52.7 L207.5 52.8 L208.5 52.6 L209.5 52.6 L210.5 52.4 L211.5 52.6 L212.5 52.3 L213.5 52.5 L214.5 52.6 L215.5 52.6 L216.5 52.5 L217.5 52.8 L218.5 52.4 L219.5 52.8 L220.0 52.8 L220.0 98.0 L219.5 98.2 L218.5 97.9 L217.5 98.1 L216.5 98.4 L215.5 98.4 L214.5 98.5 L213.5 98.3 L212.5 98.3 L211.5 98.4 L210.5 98.3 L209.5 98.3 L208.5 98.4 L207.5 98.3 L206.5 98.1 L205.5 98.4 L204.5 98.5 L203.5 98.2 L202.5 98.5 L201.5 98.2 L200.5 97.9 L199.5 98.0 L198.5 97.9 L197.5 97.9 L196.5 97.9 L195.5 98.0 L194.5 98.0 L193.5 97.9 L192.5 97.7 L191.5 97.8 L190.5 97.8 L189.5 97.5 L188.5 97.4 L187.5 97.7 L186.5 97.4 L185.5 97.6 L184.5 97.5 L183.5 97.5 L182.5 97.8 L181.5 97.9 L180.5 97.6 L179.5 98.0 L178.5 97.7 L177.5 98.1 L176.5 98.0 L175.5 98.1 L174.5 98.1 L173.5 98.3 L172.5 98.3 L171.5 98.3 L170.5 98.3 L169.5 98.5 L168.5 98.2 L167.5 98.3 L166.5 98.4 L165.5 98.4 L164.5 98.5 L163.5 98.4 L162.5 98.2 L161.5 98.3 L160.5 98.2 L159.5 98.3 L158.5 98.1 L157.5 98.0 L156.5 98.2 L155.5 98.3 L154.5 98.0 L153.5 98.0 L152.5 97.8 L151.5 98.0 L150.5 97.9 L149.5 98.0 L148.5 97.9 L147.5 97.9 L146.5 97.6 L145.5 97.4 L144.5 97.8 L143.5 97.6 L142.5 97.7 L141.5 97.5 L140.5 97.5 L139.5 97.7 L138.5 97.5 L137.5 97.9 L136.5 97.6 L135.5 97.8 L134.5 97.9 L133.5 97.8 L132.5 97.9 L131.5 98.1 L130.5 98.1 L129.5 98.2 L128.5 98.0 L127.5 98.1 L126.5 98.5 L125.5 98.3 L124.5 98.2 L123.5 98.3 L122.5 98.3 L121.5 98.5 L120.5 98.4 L119.5 98.3 L118.5 98.3 L117.5 98.3 L116.5 98.6 L115.5 98.3 L114.5 98.0 L113.5 98.3 L112.5 98.1 L111.5 98.2 L110.5 97.9 L109.5 97.9 L108.5 97.8 L107.5 98.0 L106.5 98.0 L105.5 97.7 L104.5 97.6 L103.5 97.5 L102.5 97.6 L101.5 97.5 L100.5 97.5 L99.5 97.5 L98.5 97.4 L97.5 97.7 L96.5 97.6 L95.5 97.7 L94.5 97.7 L93.5 97.8 L92.5 97.5 L91.5 97.7 L90.5 98.0 L89.5 97.7 L88.5 97.8 L87.5 97.9 L86.5 98.3 L85.5 97.9 L84.5 98.1 L83.5 98.1 L82.5 98.2 L81.5 98.1 L80.5 98.3 L79.5 98.6 L78.5 98.6 L77.5 98.6 L76.5 98.2 L75.5 98.5 L74.5 98.6 L73.5 98.3 L72.5 98.2 L71.5 98.3 L70.5 98.3 L69.5 98.0 L68.5 98.3 L67.5 98.3 L66.5 98.2 L65.5 97.9 L64.5 97.9 L63.5 98.1 L62.5 97.6 L61.5 97.9 L60.5 97.8 L59.5 97.9 L58.5 97.5 L57.5 97.4 L56.5 97.8 L55.5 97.4 L54.5 97.8 L53.5 97.6 L52.5 97.8 L51.5 97.6 L50.5 97.7 L49.5 97.7 L48.5 97.9Z" fill="#52288A"/>
<path d="M220.0 72.8 L231.0 72.6 L232.0 70.0 L233.0 72.0 L234.0 66.0 L235.0 70.0 L236.0 64.5 L237.0 68.0 L238.0 64.8 L239.0 70.0 L240.0 73.0 L240.6 75.5 L240.0 78.0 L239.0 84.0 L238.0 87.0 L237.0 82.0 L236.0 85.0 L235.0 80.0 L234.0 83.0 L233.0 79.0 L232.0 80.0 L231.0 78.6 L220.0 78.4Z" fill="#52288A"/>
<path d="M72.0 67.8 L80.0 68.0 L88.0 68.3 L96.0 68.2 L97.0 69.0 L98.0 67.8 L99.6 67.9 L99.8 74.3 L108.0 74.1 L108.5 68.2 L109.3 68.0 L110.0 74.2 L115.2 74.4 L115.4 78.2 L110.2 78.4 L109.4 80.3 L108.4 80.2 L108.0 78.2 L100.0 78.4 L99.6 80.2 L92.0 80.5 L91.5 83.3 L88.0 83.6 L86.0 82.0 L84.0 81.2 L76.0 80.8 L75.6 84.4 L72.0 84.5Z" fill="#E97C50"/>
<path d="M48.5 63.5 L49.5 65.0 L51.0 66.6 L54.0 67.4 L60.0 67.7 L72.4 67.9 L72.6 73.8 L90.8 74.0 L91.0 77.6 L72.8 77.8 L72.6 84.5 L60.0 84.6 L48.5 84.8Z" fill="#F5AE27"/>
<rect x="48.5" y="12.3" width="961.0" height="126.50000000000001" fill="none" stroke="#3a3a3a" stroke-width="1"/>
<line x1="48.0" y1="138.8" x2="1010.0" y2="138.8" stroke="#555" stroke-width="1.4"/>
<line x1="46.0" y1="12.3" x2="48.5" y2="12.3" stroke="#3a3a3a" stroke-width="0.9"/>
<text x="44.2" y="16.2" font-size="11.6" text-anchor="end" fill="#1a1a1a" >0.4</text>
<line x1="46.0" y1="43.9" x2="48.5" y2="43.9" stroke="#3a3a3a" stroke-width="0.9"/>
<text x="44.2" y="47.8" font-size="11.6" text-anchor="end" fill="#1a1a1a" >0.2</text>
<line x1="46.0" y1="75.5" x2="48.5" y2="75.5" stroke="#3a3a3a" stroke-width="0.9"/>
<text x="44.2" y="79.4" font-size="11.6" text-anchor="end" fill="#1a1a1a" >0.0</text>
<line x1="46.0" y1="107.1" x2="48.5" y2="107.1" stroke="#3a3a3a" stroke-width="0.9"/>
<text x="44.2" y="111.0" font-size="11.6" text-anchor="end" fill="#1a1a1a" >-0.2</text>
<line x1="46.0" y1="138.7" x2="48.5" y2="138.7" stroke="#3a3a3a" stroke-width="0.9"/>
<text x="44.2" y="142.6" font-size="11.6" text-anchor="end" fill="#1a1a1a" >-0.4</text>
<line x1="47.0" y1="28.1" x2="48.5" y2="28.1" stroke="#3a3a3a" stroke-width="0.8"/>
<line x1="47.0" y1="59.7" x2="48.5" y2="59.7" stroke="#3a3a3a" stroke-width="0.8"/>
<line x1="47.0" y1="91.3" x2="48.5" y2="91.3" stroke="#3a3a3a" stroke-width="0.8"/>
<line x1="47.0" y1="122.9" x2="48.5" y2="122.9" stroke="#3a3a3a" stroke-width="0.8"/>
<line x1="48.5" y1="136.8" x2="48.5" y2="139.8" stroke="#3a3a3a" stroke-width="0.9"/>
<text x="48.5" y="152.0" font-size="11.7" text-anchor="middle" fill="#1a1a1a" >0</text>
<line x1="96.5" y1="137.3" x2="96.5" y2="138.8" stroke="#3a3a3a" stroke-width="0.8"/>
<line x1="144.6" y1="136.8" x2="144.6" y2="139.8" stroke="#3a3a3a" stroke-width="0.9"/>
<text x="144.6" y="152.0" font-size="11.7" text-anchor="middle" fill="#1a1a1a" >200</text>
<line x1="192.7" y1="137.3" x2="192.7" y2="138.8" stroke="#3a3a3a" stroke-width="0.8"/>
<line x1="240.7" y1="136.8" x2="240.7" y2="139.8" stroke="#3a3a3a" stroke-width="0.9"/>
<text x="240.7" y="152.0" font-size="11.7" text-anchor="middle" fill="#1a1a1a" >400</text>
<line x1="288.8" y1="137.3" x2="288.8" y2="138.8" stroke="#3a3a3a" stroke-width="0.8"/>
<line x1="336.8" y1="136.8" x2="336.8" y2="139.8" stroke="#3a3a3a" stroke-width="0.9"/>
<text x="336.8" y="152.0" font-size="11.7" text-anchor="middle" fill="#1a1a1a" >600</text>
<line x1="384.9" y1="137.3" x2="384.9" y2="138.8" stroke="#3a3a3a" stroke-width="0.8"/>
<line x1="432.9" y1="136.8" x2="432.9" y2="139.8" stroke="#3a3a3a" stroke-width="0.9"/>
<text x="432.9" y="152.0" font-size="11.7" text-anchor="middle" fill="#1a1a1a" >800</text>
<line x1="480.9" y1="137.3" x2="480.9" y2="138.8" stroke="#3a3a3a" stroke-width="0.8"/>
<line x1="529.0" y1="136.8" x2="529.0" y2="139.8" stroke="#3a3a3a" stroke-width="0.9"/>
<text x="529.0" y="152.0" font-size="11.7" text-anchor="middle" fill="#1a1a1a" >1000</text>
<line x1="577.0" y1="137.3" x2="577.0" y2="138.8" stroke="#3a3a3a" stroke-width="0.8"/>
<line x1="625.1" y1="136.8" x2="625.1" y2="139.8" stroke="#3a3a3a" stroke-width="0.9"/>
<text x="625.1" y="152.0" font-size="11.7" text-anchor="middle" fill="#1a1a1a" >1200</text>
<line x1="673.1" y1="137.3" x2="673.1" y2="138.8" stroke="#3a3a3a" stroke-width="0.8"/>
<line x1="721.2" y1="136.8" x2="721.2" y2="139.8" stroke="#3a3a3a" stroke-width="0.9"/>
<text x="721.2" y="152.0" font-size="11.7" text-anchor="middle" fill="#1a1a1a" >1400</text>
<line x1="769.2" y1="137.3" x2="769.2" y2="138.8" stroke="#3a3a3a" stroke-width="0.8"/>
<line x1="817.3" y1="136.8" x2="817.3" y2="139.8" stroke="#3a3a3a" stroke-width="0.9"/>
<text x="817.3" y="152.0" font-size="11.7" text-anchor="middle" fill="#1a1a1a" >1600</text>
<line x1="865.4" y1="137.3" x2="865.4" y2="138.8" stroke="#3a3a3a" stroke-width="0.8"/>
<line x1="913.4" y1="136.8" x2="913.4" y2="139.8" stroke="#3a3a3a" stroke-width="0.9"/>
<text x="913.4" y="152.0" font-size="11.7" text-anchor="middle" fill="#1a1a1a" >1800</text>
<line x1="961.5" y1="137.3" x2="961.5" y2="138.8" stroke="#3a3a3a" stroke-width="0.8"/>
<line x1="1009.5" y1="136.8" x2="1009.5" y2="139.8" stroke="#3a3a3a" stroke-width="0.9"/>
<text x="1009.5" y="152.0" font-size="11.7" text-anchor="middle" fill="#1a1a1a" >2000</text>
<text x="0.3" y="15.6" font-size="21" text-anchor="start" fill="#1a1a1a" >(a)</text>
<text transform="translate(14.2,70.8) rotate(-90)" font-size="18.3" text-anchor="middle" fill="#1a1a1a">Voltage (V)</text>
<text x="529.6" y="175.7" font-size="18.2" text-anchor="middle" fill="#1a1a1a" >Time (h)</text>
<line x1="58.3" y1="126.7" x2="85.9" y2="126.7" stroke="#F5AE27" stroke-width="1.5"/>
<text x="88.9" y="131.4" font-size="12" text-anchor="start" fill="#1a1a1a" >ZSO</text>
<line x1="122.5" y1="126.7" x2="150.1" y2="126.7" stroke="#E97C50" stroke-width="1.5"/>
<text x="153.1" y="131.4" font-size="12" text-anchor="start" fill="#1a1a1a" >ZSO-BTAC</text>
<line x1="222.3" y1="126.7" x2="249.9" y2="126.7" stroke="#C8486B" stroke-width="1.5"/>
<text x="252.9" y="131.4" font-size="12" text-anchor="start" fill="#1a1a1a" >ZSO-OTAC</text>
<line x1="323" y1="126.7" x2="350.6" y2="126.7" stroke="#882085" stroke-width="1.5"/>
<text x="353.6" y="131.4" font-size="12" text-anchor="start" fill="#1a1a1a" >ZSO-DTAC</text>
<line x1="423.3" y1="126.7" x2="450.90000000000003" y2="126.7" stroke="#52288A" stroke-width="1.5"/>
<text x="453.9" y="131.4" font-size="12" text-anchor="start" fill="#1a1a1a" >ZSO-CTAC</text>
<text x="1003.3" y="32.5" font-size="13.7" text-anchor="end" fill="#1a1a1a">1 mA cm<tspan dy="-6" font-size="10.2">-2</tspan><tspan dy="6"> 1 mAh cm</tspan><tspan dy="-6" font-size="10.2">-2</tspan></text>
</g>
<g id="pb" font-family="Liberation Sans, sans-serif">
<path d="M56.6 276.6 L57.6 280.5 L58.6 282.8 L59.6 284.2 L60.6 285.2 L61.6 285.5 L62.6 285.9 L63.6 285.7 L64.6 285.5 L65.6 285.4 L66.6 285.2 L67.6 285.4 L68.6 285.6 L69.6 285.9 L70.6 286.5 L71.6 286.7 L72.6 286.3 L73.6 286.1 L74.6 286.1 L75.6 286.0 L76.6 285.9 L77.6 286.1 L78.6 286.5 L79.6 287.0 L80.6 287.1 L81.6 286.3 L82.6 286.3 L83.6 286.1 L84.6 285.8 L85.6 286.1 L86.6 286.1 L87.6 286.6 L88.6 286.9 L89.6 286.7 L90.6 286.5 L91.6 286.2 L92.6 285.9 L93.6 285.8 L94.6 285.9 L95.6 286.1 L96.6 286.7 L97.6 287.0 L98.6 286.7 L99.6 286.5 L100.6 286.0 L101.6 285.9 L102.6 286.0 L103.6 286.0 L104.6 286.1 L105.6 286.5 L106.6 287.1 L107.6 286.9 L108.6 286.4 L109.6 286.0 L110.6 286.1 L111.6 285.9 L112.6 286.1 L113.6 286.2 L114.6 286.7 L115.6 287.2 L116.6 286.6 L117.6 286.2 L118.6 286.0 L119.6 286.0 L120.6 285.9 L121.6 285.9 L122.6 286.3 L123.6 286.7 L124.6 287.6 L125.6 286.5 L126.6 286.3 L127.6 286.0 L128.6 286.0 L129.6 285.9 L130.6 286.2 L131.6 286.4 L132.6 286.6 L133.6 287.1 L134.6 286.7 L135.6 286.2 L136.6 286.1 L137.6 286.0 L138.6 285.9 L139.6 286.3 L140.6 286.6 L141.6 287.0 L142.6 287.3 L143.6 286.9 L144.6 286.4 L145.6 286.3 L146.6 286.2 L147.6 286.2 L148.6 286.2 L149.6 286.8 L150.6 287.1 L151.6 287.4 L152.6 286.8 L153.6 286.4 L154.6 286.2 L155.6 286.3 L156.6 286.4 L157.6 286.5 L158.6 286.7 L159.6 287.2 L160.6 287.3 L161.6 287.0 L162.6 286.6 L163.6 286.4 L164.6 286.3 L165.6 286.5 L166.6 286.7 L167.6 286.9 L168.6 287.3 L169.6 287.5 L170.6 287.0 L171.6 286.6 L172.6 286.5 L173.6 286.4 L174.6 286.6 L175.6 286.7 L176.6 287.2 L177.6 287.5 L178.6 287.6 L179.6 287.1 L180.6 286.7 L181.6 286.5 L182.6 286.6 L183.6 286.8 L184.6 286.8 L185.6 287.3 L186.6 287.8 L187.6 287.6 L188.6 287.2 L189.6 286.9 L190.6 286.6 L191.6 286.8 L192.6 286.8 L193.6 287.1 L194.6 287.4 L195.6 287.9 L196.6 287.7 L197.6 287.3 L198.6 286.9 L199.6 286.9 L200.6 286.8 L201.6 287.0 L202.6 287.3 L203.6 287.5 L204.6 288.2 L205.6 287.6 L206.6 287.1 L207.6 287.0 L208.6 286.8 L209.6 286.7 L210.6 287.0 L211.6 286.9 L212.6 287.4 L213.6 288.2 L214.6 287.5 L215.6 287.1 L216.6 286.8 L217.6 286.6 L218.6 286.7 L219.6 286.9 L220.6 287.2 L221.6 287.5 L222.6 287.8 L223.6 287.2 L224.6 287.0 L225.6 286.8 L226.6 286.5 L227.6 286.7 L228.6 286.6 L229.6 287.1 L230.6 287.4 L231.6 287.8 L232.6 287.2 L233.6 287.0 L234.6 286.6 L235.6 286.5 L236.6 286.6 L237.6 286.7 L238.6 287.1 L239.6 287.3 L240.6 287.5 L241.6 287.1 L242.6 286.7 L243.6 286.4 L244.6 286.6 L245.6 286.6 L246.6 286.5 L247.6 286.9 L248.6 287.3 L249.6 287.3 L250.6 286.8 L251.6 286.5 L252.6 286.4 L253.6 286.3 L254.6 286.4 L255.6 286.5 L256.6 286.9 L257.6 287.4 L258.6 287.4 L259.6 286.9 L260.6 286.6 L261.6 286.3 L262.6 286.2 L263.6 286.4 L264.6 286.4 L265.6 286.7 L266.6 287.4 L267.6 287.2 L268.6 286.7 L269.6 286.3 L270.6 286.3 L271.6 286.3 L272.6 286.3 L273.6 286.4 L274.6 286.7 L275.6 287.2 L276.6 287.0 L277.6 286.6 L278.6 286.2 L279.6 286.3 L280.6 286.2 L281.6 286.1 L282.6 286.4 L283.6 286.7 L284.6 287.3 L285.6 286.9 L286.6 286.5 L287.6 286.1 L288.6 286.1 L289.6 286.0 L290.6 286.1 L291.6 286.5 L292.6 286.7 L293.6 287.3 L294.6 286.8 L295.6 286.5 L296.6 286.0 L297.6 286.1 L298.6 286.1 L299.6 286.2 L300.6 286.3 L301.6 286.7 L302.6 287.5 L303.6 286.5 L304.6 286.1 L305.6 286.0 L306.6 285.8 L307.6 285.9 L308.6 286.0 L309.6 286.2 L310.6 286.7 L311.6 287.1 L312.6 286.5 L313.6 286.1 L314.6 285.7 L315.6 285.6 L316.6 285.7 L317.6 285.7 L318.6 286.1 L319.6 286.6 L320.6 286.9 L321.6 286.3 L322.6 285.9 L323.6 285.5 L324.6 285.4 L325.6 285.5 L326.6 285.7 L327.6 286.1 L328.6 286.3 L329.6 286.5 L330.6 286.1 L331.6 285.6 L332.6 285.4 L333.6 285.3 L334.6 285.3 L335.6 285.5 L336.6 285.9 L337.6 286.4 L338.6 286.2 L339.6 285.8 L340.6 285.6 L341.6 285.3 L342.6 285.3 L343.6 285.4 L344.6 285.4 L345.6 285.7 L346.6 286.1 L347.6 286.1 L348.6 285.6 L349.6 285.3 L350.6 285.2 L351.6 285.2 L352.6 285.3 L353.6 285.4 L354.6 285.5 L355.6 286.1 L356.6 285.9 L357.6 285.5 L358.6 285.2 L359.6 285.1 L360.6 284.9 L361.6 285.1 L362.6 285.0 L363.6 285.4 L364.6 286.0 L365.6 285.7 L366.6 285.1 L367.6 285.0 L368.6 284.8 L369.6 284.7 L370.6 284.9 L371.6 284.9 L372.6 285.4 L373.6 286.0 L374.6 285.5 L375.6 285.2 L376.6 284.9 L377.6 284.6 L378.6 284.7 L379.6 284.7 L380.6 284.8 L381.6 285.2 L382.6 286.0 L383.6 285.5 L384.6 285.2 L385.6 284.8 L386.6 284.7 L387.6 284.9 L388.6 285.0 L389.6 285.2 L390.6 285.6 L391.6 286.6 L392.6 285.9 L393.6 285.5 L394.6 285.3 L395.6 285.1 L396.6 285.3 L397.6 285.3 L398.6 285.6 L399.6 286.0 L400.6 286.5 L401.6 286.1 L402.6 285.8 L403.6 285.4 L404.6 285.6 L405.6 285.3 L406.6 285.7 L407.6 286.1 L408.6 286.5 L409.6 286.8 L410.6 286.1 L411.6 286.0 L412.6 285.7 L413.6 285.6 L414.6 285.8 L415.6 285.9 L416.6 286.3 L417.6 286.7 L418.6 287.1 L419.6 286.5 L420.6 286.3 L421.6 286.1 L422.6 286.0 L423.6 286.1 L424.6 286.2 L425.6 286.5 L426.6 286.8 L427.6 287.0 L428.6 286.4 L429.6 286.2 L430.6 285.9 L431.6 285.8 L432.6 285.8 L433.6 285.9 L434.6 286.2 L435.6 286.9 L436.6 286.7 L437.6 286.4 L438.6 285.9 L439.6 285.8 L440.6 285.7 L441.6 285.9 L442.6 285.9 L443.6 286.2 L444.6 286.8 L445.6 286.8 L446.6 286.2 L447.6 286.1 L448.6 285.8 L449.6 285.7 L450.6 285.7 L451.6 286.1 L452.6 286.3 L453.6 286.8 L454.6 286.6 L455.6 286.0 L456.6 285.8 L457.6 285.8 L458.6 285.6 L459.6 285.7 L460.6 286.1 L461.6 286.3 L462.6 286.8 L463.6 286.4 L464.6 285.9 L465.6 285.9 L466.6 285.5 L467.6 285.7 L468.6 285.7 L469.6 286.1 L470.6 286.4 L471.6 287.0 L472.6 286.5 L473.6 286.1 L474.6 285.7 L475.6 285.5 L476.6 285.5 L477.6 285.6 L478.6 285.9 L479.6 286.2 L480.6 286.9 L481.6 286.2 L482.6 286.0 L483.6 285.5 L484.6 285.6 L485.6 285.5 L486.6 285.5 L487.6 286.0 L488.6 286.3 L489.6 286.7 L490.6 286.1 L491.6 285.8 L492.6 285.5 L493.6 285.5 L494.6 285.6 L495.6 285.7 L496.6 285.9 L497.6 286.1 L498.6 286.7 L499.6 285.9 L500.6 285.8 L501.6 285.4 L502.6 285.3 L503.6 285.4 L504.6 285.7 L505.6 285.8 L506.6 286.3 L507.6 286.4 L508.6 285.9 L509.6 285.6 L510.6 285.6 L511.6 285.4 L512.6 285.2 L513.6 285.5 L514.6 285.7 L515.6 286.2 L516.6 286.4 L517.6 285.7 L518.6 285.6 L519.6 285.3 L520.6 285.2 L521.6 285.4 L522.6 285.5 L523.6 285.6 L524.6 286.2 L525.6 286.0 L526.6 285.6 L527.6 285.2 L528.6 285.0 L529.6 284.9 L530.6 284.9 L531.6 285.2 L532.6 285.5 L533.6 286.1 L534.6 285.9 L535.6 285.2 L536.6 284.9 L537.6 284.8 L538.6 284.9 L539.6 284.8 L540.6 284.8 L541.6 285.4 L542.6 285.8 L543.6 285.5 L544.6 285.0 L545.6 284.8 L546.6 284.5 L547.6 284.4 L548.6 284.6 L549.6 284.8 L550.6 285.1 L551.6 285.6 L552.6 285.2 L553.6 284.9 L554.6 284.5 L555.6 284.4 L556.6 284.3 L557.6 284.3 L558.6 284.6 L559.6 284.8 L560.6 285.5 L561.6 284.9 L562.6 284.5 L563.6 284.3 L564.6 284.3 L565.6 284.3 L566.6 284.4 L567.6 284.6 L568.6 284.9 L569.6 285.8 L570.6 284.9 L571.6 284.6 L572.6 284.4 L573.6 284.2 L574.6 284.5 L575.6 284.5 L576.6 284.7 L577.6 285.0 L578.6 285.7 L579.6 284.9 L580.6 284.6 L581.6 284.6 L582.6 284.3 L583.6 284.4 L584.6 284.7 L585.6 284.8 L586.6 285.3 L587.6 285.5 L588.6 285.0 L589.6 284.9 L590.6 284.6 L591.6 284.4 L592.6 284.7 L593.6 284.8 L594.6 285.0 L595.6 285.5 L596.6 285.6 L597.6 285.1 L598.6 284.7 L599.6 284.7 L600.6 284.7 L601.6 284.7 L601.6 356.1 L600.6 356.6 L599.6 356.6 L598.6 356.6 L597.6 356.8 L596.6 356.6 L595.6 356.4 L594.6 355.6 L593.6 356.0 L592.6 356.4 L591.6 356.9 L590.6 356.8 L589.6 357.1 L588.6 356.9 L587.6 356.8 L586.6 356.3 L585.6 355.8 L584.6 356.3 L583.6 356.5 L582.6 356.9 L581.6 356.9 L580.6 357.1 L579.6 357.1 L578.6 357.0 L577.6 356.6 L576.6 356.0 L575.6 356.6 L574.6 357.0 L573.6 357.0 L572.6 357.3 L571.6 357.2 L570.6 357.3 L569.6 357.0 L568.6 356.7 L567.6 355.8 L566.6 356.7 L565.6 357.1 L564.6 357.5 L563.6 357.4 L562.6 357.6 L561.6 357.4 L560.6 357.3 L559.6 356.8 L558.6 356.4 L557.6 357.0 L556.6 357.3 L555.6 357.4 L554.6 357.4 L553.6 357.4 L552.6 357.1 L551.6 356.8 L550.6 356.5 L549.6 356.1 L548.6 356.6 L547.6 357.0 L546.6 357.2 L545.6 357.1 L544.6 357.2 L543.6 357.1 L542.6 356.7 L541.6 356.4 L540.6 355.9 L539.6 356.4 L538.6 356.7 L537.6 357.0 L536.6 357.2 L535.6 357.1 L534.6 356.8 L533.6 356.7 L532.6 356.0 L531.6 355.9 L530.6 356.5 L529.6 356.8 L528.6 356.8 L527.6 357.0 L526.6 356.8 L525.6 356.5 L524.6 356.2 L523.6 355.9 L522.6 355.9 L521.6 356.2 L520.6 356.5 L519.6 356.6 L518.6 356.7 L517.6 356.7 L516.6 356.5 L515.6 356.2 L514.6 355.6 L513.6 355.8 L512.6 356.1 L511.6 356.5 L510.6 356.7 L509.6 356.7 L508.6 356.4 L507.6 356.3 L506.6 356.1 L505.6 355.5 L504.6 355.7 L503.6 356.0 L502.6 356.3 L501.6 356.5 L500.6 356.6 L499.6 356.4 L498.6 356.3 L497.6 355.8 L496.6 355.2 L495.6 355.7 L494.6 356.1 L493.6 356.3 L492.6 356.4 L491.6 356.5 L490.6 356.3 L489.6 356.2 L488.6 355.8 L487.6 355.1 L486.6 355.9 L485.6 356.1 L484.6 356.2 L483.6 356.4 L482.6 356.5 L481.6 356.5 L480.6 356.0 L479.6 355.8 L478.6 355.0 L477.6 355.6 L476.6 356.0 L475.6 356.4 L474.6 356.4 L473.6 356.3 L472.6 356.1 L471.6 356.0 L470.6 355.5 L469.6 355.1 L468.6 355.7 L467.6 355.9 L466.6 356.2 L465.6 356.4 L464.6 356.4 L463.6 356.2 L462.6 355.9 L461.6 355.6 L460.6 355.1 L459.6 355.6 L458.6 355.9 L457.6 356.2 L456.6 356.4 L455.6 356.2 L454.6 356.0 L453.6 356.0 L452.6 355.4 L451.6 355.1 L450.6 355.8 L449.6 355.9 L448.6 356.3 L447.6 356.2 L446.6 356.3 L445.6 356.0 L444.6 355.7 L443.6 355.3 L442.6 355.1 L441.6 355.5 L440.6 356.0 L439.6 356.0 L438.6 356.0 L437.6 356.2 L436.6 355.9 L435.6 355.5 L434.6 355.2 L433.6 355.1 L432.6 355.7 L431.6 355.9 L430.6 355.9 L429.6 356.2 L428.6 355.9 L427.6 355.8 L426.6 355.6 L425.6 355.1 L424.6 355.3 L423.6 355.7 L422.6 355.9 L421.6 356.0 L420.6 356.1 L419.6 356.0 L418.6 355.8 L417.6 355.5 L416.6 355.1 L415.6 355.4 L414.6 355.7 L413.6 356.1 L412.6 356.2 L411.6 356.4 L410.6 356.1 L409.6 356.1 L408.6 355.6 L407.6 355.2 L406.6 355.6 L405.6 356.0 L404.6 356.2 L403.6 356.5 L402.6 356.5 L401.6 356.4 L400.6 356.3 L399.6 355.9 L398.6 355.3 L397.6 355.8 L396.6 356.4 L395.6 356.5 L394.6 356.6 L393.6 356.7 L392.6 356.8 L391.6 356.5 L390.6 356.0 L389.6 355.4 L388.6 356.1 L387.6 356.6 L386.6 356.8 L385.6 357.0 L384.6 356.9 L383.6 356.8 L382.6 356.7 L381.6 356.2 L380.6 355.9 L379.6 356.4 L378.6 356.9 L377.6 357.0 L376.6 357.2 L375.6 357.0 L374.6 356.8 L373.6 356.6 L372.6 356.3 L371.6 355.7 L370.6 356.5 L369.6 356.7 L368.6 356.9 L367.6 357.0 L366.6 357.0 L365.6 356.6 L364.6 356.4 L363.6 356.0 L362.6 355.6 L361.6 356.4 L360.6 356.7 L359.6 356.7 L358.6 356.9 L357.6 356.8 L356.6 356.5 L355.6 356.4 L354.6 356.0 L353.6 355.6 L352.6 356.3 L351.6 356.5 L350.6 356.6 L349.6 356.6 L348.6 356.7 L347.6 356.4 L346.6 356.0 L345.6 355.7 L344.6 355.6 L343.6 356.2 L342.6 356.4 L341.6 356.7 L340.6 356.5 L339.6 356.5 L338.6 356.4 L337.6 356.1 L336.6 355.4 L335.6 355.7 L334.6 356.1 L333.6 356.2 L332.6 356.3 L331.6 356.5 L330.6 356.4 L329.6 356.1 L328.6 355.9 L327.6 355.3 L326.6 355.4 L325.6 355.9 L324.6 356.2 L323.6 356.4 L322.6 356.4 L321.6 356.1 L320.6 356.1 L319.6 355.7 L318.6 355.1 L317.6 355.6 L316.6 355.7 L315.6 356.0 L314.6 356.2 L313.6 356.3 L312.6 356.0 L311.6 355.9 L310.6 355.5 L309.6 354.8 L308.6 355.4 L307.6 355.7 L306.6 356.1 L305.6 356.1 L304.6 356.0 L303.6 355.9 L302.6 355.6 L301.6 355.3 L300.6 354.6 L299.6 355.4 L298.6 355.6 L297.6 356.0 L296.6 356.1 L295.6 356.0 L294.6 355.8 L293.6 355.5 L292.6 355.3 L291.6 354.7 L290.6 355.1 L289.6 355.5 L288.6 355.8 L287.6 355.9 L286.6 356.0 L285.6 355.6 L284.6 355.4 L283.6 355.0 L282.6 354.7 L281.6 355.3 L280.6 355.4 L279.6 355.9 L278.6 355.7 L277.6 355.6 L276.6 355.6 L275.6 355.2 L274.6 354.8 L273.6 354.7 L272.6 355.2 L271.6 355.3 L270.6 355.7 L269.6 355.6 L268.6 355.7 L267.6 355.4 L266.6 355.2 L265.6 354.6 L264.6 354.7 L263.6 355.0 L262.6 355.5 L261.6 355.7 L260.6 355.5 L259.6 355.6 L258.6 355.3 L257.6 355.1 L256.6 354.6 L255.6 354.6 L254.6 354.9 L253.6 355.3 L252.6 355.4 L251.6 355.4 L250.6 355.4 L249.6 355.3 L248.6 354.9 L247.6 354.3 L246.6 354.4 L245.6 354.8 L244.6 355.1 L243.6 355.4 L242.6 355.3 L241.6 355.4 L240.6 355.1 L239.6 354.8 L238.6 354.4 L237.6 354.4 L236.6 354.8 L235.6 355.1 L234.6 355.4 L233.6 355.3 L232.6 355.0 L231.6 355.0 L230.6 354.5 L229.6 354.1 L228.6 354.5 L227.6 354.9 L226.6 355.0 L225.6 355.2 L224.6 355.2 L223.6 355.1 L222.6 354.9 L221.6 354.4 L220.6 353.8 L219.6 354.4 L218.6 354.8 L217.6 354.9 L216.6 355.2 L215.6 355.0 L214.6 354.8 L213.6 354.6 L212.6 354.4 L211.6 353.5 L210.6 354.3 L209.6 354.8 L208.6 355.0 L207.6 355.1 L206.6 355.1 L205.6 354.9 L204.6 354.7 L203.6 354.1 L202.6 353.6 L201.6 354.4 L200.6 354.6 L199.6 354.9 L198.6 354.9 L197.6 355.0 L196.6 354.7 L195.6 354.7 L194.6 354.3 L193.6 353.9 L192.6 354.4 L191.6 354.7 L190.6 355.1 L189.6 355.1 L188.6 355.1 L187.6 355.2 L186.6 354.9 L185.6 354.4 L184.6 354.1 L183.6 354.7 L182.6 354.9 L181.6 355.2 L180.6 355.5 L179.6 355.4 L178.6 355.1 L177.6 354.9 L176.6 354.6 L175.6 354.6 L174.6 355.0 L173.6 355.3 L172.6 355.5 L171.6 355.5 L170.6 355.7 L169.6 355.6 L168.6 355.2 L167.6 354.7 L166.6 354.8 L165.6 355.4 L164.6 355.6 L163.6 355.8 L162.6 356.0 L161.6 355.9 L160.6 355.6 L159.6 355.4 L158.6 354.8 L157.6 355.2 L156.6 355.5 L155.6 355.8 L154.6 356.1 L153.6 356.2 L152.6 356.1 L151.6 355.9 L150.6 355.6 L149.6 355.2 L148.6 355.4 L147.6 355.8 L146.6 356.1 L145.6 356.3 L144.6 356.4 L143.6 356.4 L142.6 356.1 L141.6 355.9 L140.6 355.3 L139.6 355.8 L138.6 356.1 L137.6 356.5 L136.6 356.6 L135.6 356.6 L134.6 356.6 L133.6 356.4 L132.6 355.8 L131.6 355.4 L130.6 356.0 L129.6 356.4 L128.6 356.4 L127.6 356.6 L126.6 356.5 L125.6 356.5 L124.6 356.3 L123.6 355.9 L122.6 355.3 L121.6 355.9 L120.6 356.4 L119.6 356.5 L118.6 356.8 L117.6 356.7 L116.6 356.7 L115.6 356.2 L114.6 356.0 L113.6 355.5 L112.6 356.2 L111.6 356.3 L110.6 356.7 L109.6 356.6 L108.6 356.8 L107.6 356.5 L106.6 356.3 L105.6 355.9 L104.6 355.5 L103.6 355.9 L102.6 356.3 L101.6 356.5 L100.6 356.8 L99.6 356.7 L98.6 356.5 L97.6 356.4 L96.6 355.9 L95.6 355.5 L94.6 356.1 L93.6 356.5 L92.6 356.7 L91.6 356.7 L90.6 356.5 L89.6 356.4 L88.6 356.1 L87.6 355.9 L86.6 355.6 L85.6 356.1 L84.6 356.5 L83.6 356.6 L82.6 356.7 L81.6 356.5 L80.6 356.6 L79.6 356.1 L78.6 355.7 L77.6 355.6 L76.6 356.1 L75.6 356.5 L74.6 356.8 L73.6 356.7 L72.6 356.8 L71.6 356.7 L70.6 356.5 L69.6 355.9 L68.6 356.0 L67.6 356.4 L66.6 356.8 L65.6 357.2 L64.6 357.5 L63.6 357.3 L62.6 357.5 L61.6 357.2 L60.6 357.0 L59.6 357.3 L58.6 359.3 L57.6 363.2 L56.6 370.4Z" fill="#882085"/>
<path d="M56.6 281.6 L57.6 288.0 L58.6 290.6 L59.6 291.6 L60.6 292.8 L61.6 293.2 L62.6 293.1 L63.6 293.3 L64.6 293.8 L65.6 294.5 L66.6 294.6 L67.6 293.7 L68.6 293.2 L69.6 292.8 L70.6 292.8 L71.6 293.0 L72.6 293.4 L73.6 294.0 L74.6 295.2 L75.6 294.1 L76.6 293.5 L77.6 293.2 L78.6 293.1 L79.6 293.2 L80.6 293.5 L81.6 294.1 L82.6 294.9 L83.6 294.7 L84.6 294.0 L85.6 293.6 L86.6 293.4 L87.6 293.4 L88.6 293.6 L89.6 294.1 L90.6 294.8 L91.6 295.5 L92.6 294.6 L93.6 294.1 L94.6 293.8 L95.6 293.7 L96.6 293.8 L97.6 294.2 L98.6 294.8 L99.6 295.8 L100.6 295.3 L101.6 294.9 L102.6 294.8 L102.6 346.7 L101.6 347.0 L100.6 347.1 L99.6 346.8 L98.6 346.2 L97.6 345.6 L96.6 346.6 L95.6 347.2 L94.6 347.5 L93.6 347.7 L92.6 347.6 L91.6 347.3 L90.6 346.8 L89.6 345.9 L88.6 346.6 L87.6 347.3 L86.6 347.7 L85.6 348.0 L84.6 348.0 L83.6 347.8 L82.6 347.3 L81.6 346.6 L80.6 346.5 L79.6 347.3 L78.6 347.9 L77.6 348.2 L76.6 348.3 L75.6 348.2 L74.6 347.8 L73.6 347.3 L72.6 346.2 L71.6 347.3 L70.6 348.0 L69.6 348.4 L68.6 348.5 L67.6 348.4 L66.6 348.0 L65.6 347.5 L64.6 346.6 L63.6 346.7 L62.6 347.4 L61.6 347.9 L60.6 348.7 L59.6 350.4 L58.6 351.8 L57.6 354.6 L56.6 359.4Z" fill="#C8486B"/>
<path d="M103.2 318.0 L106.2 318.3 L107.5 320.6 L106.2 323.0 L103.2 323.3Z" fill="#C8486B"/>
<path d="M55.8 274.5 L57.2 274.5 L58.2 283.0 L59.6 292.0 L59.6 349.0 L58.2 358.0 L57.4 373.0 L55.8 373.0Z" fill="#C8486B"/>
<path d="M60.0 312.4 L78.0 312.4 L79.5 313.6 L82.0 313.8 L83.0 315.0 L85.2 315.4 L86.4 317.5 L86.8 320.7 L86.4 324.0 L85.2 326.0 L83.0 326.4 L82.0 327.6 L79.5 327.8 L78.0 329.2 L60.0 329.4Z" fill="#E97C50"/>
<path d="M60.0 308.6 L72.5 308.6 L73.6 310.2 L75.0 311.0 L76.0 313.4 L77.6 314.4 L78.6 317.0 L79.2 320.7 L78.6 324.4 L77.6 327.0 L76.0 328.0 L75.0 330.4 L73.6 331.2 L72.5 332.8 L60.0 332.8Z" fill="#F5AE27"/>
<path d="M56.6 301.0 L59.0 301.0 L59.8 305.0 L60.2 318.0 L66.4 318.1 L66.4 323.4 L60.2 323.5 L59.8 337.0 L59.0 341.0 L56.6 341.0Z" fill="#1F2D6E"/>
<rect x="56.6" y="187.6" width="545.6999999999999" height="266.1" fill="none" stroke="#000" stroke-width="2"/>
<line x1="50.6" y1="187.6" x2="56.6" y2="187.6" stroke="#000" stroke-width="1.8"/>
<text x="46.8" y="192.3" font-size="13.4" text-anchor="end" fill="#1a1a1a" >0.6</text>
<line x1="50.6" y1="231.9" x2="56.6" y2="231.9" stroke="#000" stroke-width="1.8"/>
<text x="46.8" y="236.6" font-size="13.4" text-anchor="end" fill="#1a1a1a" >0.4</text>
<line x1="50.6" y1="276.3" x2="56.6" y2="276.3" stroke="#000" stroke-width="1.8"/>
<text x="46.8" y="281.0" font-size="13.4" text-anchor="end" fill="#1a1a1a" >0.2</text>
<line x1="50.6" y1="320.6" x2="56.6" y2="320.6" stroke="#000" stroke-width="1.8"/>
<text x="46.8" y="325.3" font-size="13.4" text-anchor="end" fill="#1a1a1a" >0.0</text>
<line x1="50.6" y1="365.0" x2="56.6" y2="365.0" stroke="#000" stroke-width="1.8"/>
<text x="46.8" y="369.7" font-size="13.4" text-anchor="end" fill="#1a1a1a" >-0.2</text>
<line x1="50.6" y1="409.3" x2="56.6" y2="409.3" stroke="#000" stroke-width="1.8"/>
<text x="46.8" y="414.0" font-size="13.4" text-anchor="end" fill="#1a1a1a" >-0.4</text>
<line x1="50.6" y1="453.7" x2="56.6" y2="453.7" stroke="#000" stroke-width="1.8"/>
<text x="46.8" y="458.4" font-size="13.4" text-anchor="end" fill="#1a1a1a" >-0.6</text>
<line x1="53.6" y1="209.8" x2="56.6" y2="209.8" stroke="#000" stroke-width="1.6"/>
<line x1="53.6" y1="254.1" x2="56.6" y2="254.1" stroke="#000" stroke-width="1.6"/>
<line x1="53.6" y1="298.5" x2="56.6" y2="298.5" stroke="#000" stroke-width="1.6"/>
<line x1="53.6" y1="342.8" x2="56.6" y2="342.8" stroke="#000" stroke-width="1.6"/>
<line x1="53.6" y1="387.2" x2="56.6" y2="387.2" stroke="#000" stroke-width="1.6"/>
<line x1="53.6" y1="431.5" x2="56.6" y2="431.5" stroke="#000" stroke-width="1.6"/>
<line x1="56.6" y1="453.7" x2="56.6" y2="458.2" stroke="#000" stroke-width="1.8"/>
<text x="56.6" y="473.5" font-size="13.4" text-anchor="middle" fill="#1a1a1a" >0</text>
<line x1="147.5" y1="453.7" x2="147.5" y2="456.5" stroke="#000" stroke-width="1.6"/>
<line x1="238.5" y1="453.7" x2="238.5" y2="458.2" stroke="#000" stroke-width="1.8"/>
<text x="238.5" y="473.5" font-size="13.4" text-anchor="middle" fill="#1a1a1a" >500</text>
<line x1="329.4" y1="453.7" x2="329.4" y2="456.5" stroke="#000" stroke-width="1.6"/>
<line x1="420.4" y1="453.7" x2="420.4" y2="458.2" stroke="#000" stroke-width="1.8"/>
<text x="420.4" y="473.5" font-size="13.4" text-anchor="middle" fill="#1a1a1a" >1000</text>
<line x1="511.3" y1="453.7" x2="511.3" y2="456.5" stroke="#000" stroke-width="1.6"/>
<line x1="602.3" y1="453.7" x2="602.3" y2="458.2" stroke="#000" stroke-width="1.8"/>
<text x="602.3" y="473.5" font-size="13.4" text-anchor="middle" fill="#1a1a1a" >1500</text>
<text x="0.3" y="196.5" font-size="21" text-anchor="start" fill="#1a1a1a" >(b)</text>
<text transform="translate(18.2,311.9) rotate(-90)" font-size="18" text-anchor="middle" fill="#1a1a1a">Voltage (V)</text>
<text x="329.4" y="491.1" font-size="17.85" text-anchor="middle" fill="#1a1a1a" >Time (h)</text>
<line x1="64.2" y1="436.4" x2="95.2" y2="436.4" stroke="#F5AE27" stroke-width="3.1" stroke-linecap="round"/>
<text x="99.0" y="441.2" font-size="13.95" text-anchor="start" fill="#1a1a1a" >ZSO</text>
<line x1="138.8" y1="436.4" x2="169.8" y2="436.4" stroke="#E97C50" stroke-width="3.1" stroke-linecap="round"/>
<text x="173.6" y="441.2" font-size="13.95" text-anchor="start" fill="#1a1a1a" >ZSO-BTAC</text>
<line x1="255.6" y1="436.4" x2="286.6" y2="436.4" stroke="#C8486B" stroke-width="3.1" stroke-linecap="round"/>
<text x="290.4" y="441.2" font-size="13.95" text-anchor="start" fill="#1a1a1a" >ZSO-OTAC</text>
<line x1="373" y1="436.4" x2="404" y2="436.4" stroke="#882085" stroke-width="3.1" stroke-linecap="round"/>
<text x="407.8" y="441.2" font-size="13.95" text-anchor="start" fill="#1a1a1a" >ZSO-DTAC</text>
<line x1="490" y1="436.4" x2="521" y2="436.4" stroke="#1F2D6E" stroke-width="3.1" stroke-linecap="round"/>
<text x="524.8" y="441.2" font-size="13.95" text-anchor="start" fill="#1a1a1a" >ZSO-CTAC</text>
<text x="597.2" y="205" font-size="13.6" text-anchor="end" fill="#1a1a1a">10 mA cm<tspan dy="-6" font-size="10.2">-2</tspan><tspan dy="6"> 5 mAh cm</tspan><tspan dy="-6" font-size="10.2">-2</tspan></text>
</g>
<g id="pc" font-family="Liberation Sans, sans-serif">
<rect x="674.5" y="183.0" width="342.9" height="275.5" fill="none" stroke="#000" stroke-width="2"/>
<rect x="672.5" y="224.6" width="4" height="4.4" fill="#fff"/>
<line x1="668.9" y1="226.80" x2="680.3" y2="221.70" stroke="#000" stroke-width="1.5"/>
<line x1="668.9" y1="231.90" x2="680.3" y2="226.80" stroke="#000" stroke-width="1.5"/>
<rect x="1015.4" y="224.6" width="4" height="4.4" fill="#fff"/>
<line x1="1011.8" y1="226.80" x2="1023.1999999999999" y2="221.70" stroke="#000" stroke-width="1.5"/>
<line x1="1011.8" y1="231.90" x2="1023.1999999999999" y2="226.80" stroke="#000" stroke-width="1.5"/>
<line x1="668.5" y1="458.5" x2="674.5" y2="458.5" stroke="#000" stroke-width="1.7"/>
<text x="664.9" y="462.9" font-size="13.2" text-anchor="end" fill="#1a1a1a" >0.0</text>
<line x1="668.5" y1="416.8" x2="674.5" y2="416.8" stroke="#000" stroke-width="1.7"/>
<text x="664.9" y="421.2" font-size="13.2" text-anchor="end" fill="#1a1a1a" >0.5</text>
<line x1="668.5" y1="375.1" x2="674.5" y2="375.1" stroke="#000" stroke-width="1.7"/>
<text x="664.9" y="379.5" font-size="13.2" text-anchor="end" fill="#1a1a1a" >1.0</text>
<line x1="668.5" y1="333.5" x2="674.5" y2="333.5" stroke="#000" stroke-width="1.7"/>
<text x="664.9" y="337.9" font-size="13.2" text-anchor="end" fill="#1a1a1a" >1.5</text>
<line x1="668.5" y1="291.8" x2="674.5" y2="291.8" stroke="#000" stroke-width="1.7"/>
<text x="664.9" y="296.2" font-size="13.2" text-anchor="end" fill="#1a1a1a" >2.0</text>
<line x1="668.5" y1="250.1" x2="674.5" y2="250.1" stroke="#000" stroke-width="1.7"/>
<text x="664.9" y="254.5" font-size="13.2" text-anchor="end" fill="#1a1a1a" >2.5</text>
<line x1="668.5" y1="203.6" x2="674.5" y2="203.6" stroke="#000" stroke-width="1.7"/>
<text x="664.9" y="208.0" font-size="13.2" text-anchor="end" fill="#1a1a1a" >7.5</text>
<line x1="671.3" y1="437.7" x2="674.5" y2="437.7" stroke="#000" stroke-width="1.5"/>
<line x1="671.3" y1="396.0" x2="674.5" y2="396.0" stroke="#000" stroke-width="1.5"/>
<line x1="671.3" y1="354.3" x2="674.5" y2="354.3" stroke="#000" stroke-width="1.5"/>
<line x1="671.3" y1="312.6" x2="674.5" y2="312.6" stroke="#000" stroke-width="1.5"/>
<line x1="671.3" y1="271.0" x2="674.5" y2="271.0" stroke="#000" stroke-width="1.5"/>
<line x1="702.6" y1="458.5" x2="702.6" y2="464.1" stroke="#000" stroke-width="1.7"/>
<text x="702.6" y="477.9" font-size="12.9" text-anchor="middle" fill="#1a1a1a" >1</text>
<line x1="790.3" y1="458.5" x2="790.3" y2="464.1" stroke="#000" stroke-width="1.7"/>
<text x="790.3" y="477.9" font-size="12.9" text-anchor="middle" fill="#1a1a1a" >2</text>
<line x1="906.2" y1="458.5" x2="906.2" y2="464.1" stroke="#000" stroke-width="1.7"/>
<text x="906.2" y="477.9" font-size="12.9" text-anchor="middle" fill="#1a1a1a" >5</text>
<line x1="993.9" y1="458.5" x2="993.9" y2="464.1" stroke="#000" stroke-width="1.7"/>
<text x="993.9" y="477.9" font-size="12.9" text-anchor="middle" fill="#1a1a1a" >10</text>
<line x1="689.3" y1="458.5" x2="689.3" y2="461.5" stroke="#000" stroke-width="1.3"/>
<line x1="714.7" y1="458.5" x2="714.7" y2="461.5" stroke="#000" stroke-width="1.3"/>
<line x1="725.7" y1="458.5" x2="725.7" y2="461.5" stroke="#000" stroke-width="1.3"/>
<line x1="735.8" y1="458.5" x2="735.8" y2="461.5" stroke="#000" stroke-width="1.3"/>
<line x1="745.2" y1="458.5" x2="745.2" y2="461.5" stroke="#000" stroke-width="1.3"/>
<line x1="753.9" y1="458.5" x2="753.9" y2="461.5" stroke="#000" stroke-width="1.3"/>
<line x1="762.1" y1="458.5" x2="762.1" y2="461.5" stroke="#000" stroke-width="1.3"/>
<line x1="769.7" y1="458.5" x2="769.7" y2="461.5" stroke="#000" stroke-width="1.3"/>
<line x1="777.0" y1="458.5" x2="777.0" y2="461.5" stroke="#000" stroke-width="1.3"/>
<line x1="783.8" y1="458.5" x2="783.8" y2="461.5" stroke="#000" stroke-width="1.3"/>
<line x1="818.5" y1="458.5" x2="818.5" y2="461.5" stroke="#000" stroke-width="1.3"/>
<line x1="841.6" y1="458.5" x2="841.6" y2="461.5" stroke="#000" stroke-width="1.3"/>
<line x1="861.1" y1="458.5" x2="861.1" y2="461.5" stroke="#000" stroke-width="1.3"/>
<line x1="878.0" y1="458.5" x2="878.0" y2="461.5" stroke="#000" stroke-width="1.3"/>
<line x1="892.9" y1="458.5" x2="892.9" y2="461.5" stroke="#000" stroke-width="1.3"/>
<line x1="929.3" y1="458.5" x2="929.3" y2="461.5" stroke="#000" stroke-width="1.3"/>
<line x1="948.8" y1="458.5" x2="948.8" y2="461.5" stroke="#000" stroke-width="1.3"/>
<line x1="965.7" y1="458.5" x2="965.7" y2="461.5" stroke="#000" stroke-width="1.3"/>
<line x1="980.6" y1="458.5" x2="980.6" y2="461.5" stroke="#000" stroke-width="1.3"/>
<line x1="1006.0" y1="458.5" x2="1006.0" y2="461.5" stroke="#000" stroke-width="1.3"/>
<text x="612.5" y="196.2" font-size="21" text-anchor="start" fill="#1a1a1a" >(c)</text>
<text transform="translate(635.6,326.8) rotate(-90)" font-size="18.2" text-anchor="middle" fill="#1a1a1a">CPC (Ah cm<tspan dy="-7" font-size="12">-2</tspan><tspan dy="7">)</tspan></text>
<text x="846" y="494.2" font-size="18.4" text-anchor="middle" fill="#1a1a1a">Current density (mA cm<tspan dy="-7" font-size="12">-2</tspan><tspan dy="7">)</tspan></text>
<path d="M702.6 367.4 L704.5 373.0 L710.4 373.1 L705.7 376.7 L707.4 382.3 L702.6 378.9 L697.8 382.3 L699.5 376.7 L694.8 373.1 L700.7 373.0Z" fill="#E11F27"/>
<path d="M993.9 196.1 L995.7 201.4 L1001.3 201.5 L996.9 204.9 L998.5 210.2 L993.9 207.0 L989.3 210.2 L990.9 204.9 L986.5 201.5 L992.1 201.4Z" fill="#C79A18"/>
<g stroke="#A2423B" stroke-width="1.3" fill="none"><circle cx="702.6" cy="400.2" r="3.9"/><path d="M698.7 400.2H706.5M702.6 396.3V404.1"/></g>
<g stroke="#EE7F1E" stroke-width="1.15" fill="none"><polygon points="702.6,403.9 707.6,412.4 697.6,412.4"/><path d="M702.6 403.9V412.4M697.2 409.7H708.0"/></g>
<g stroke="#2C4DA3" stroke-width="1.45" fill="none"><rect x="699.0" y="434.3" width="7.2" height="7.2"/><path d="M699.0 437.9H706.2M702.6 434.3V441.5"/></g>
<polygon points="790.29,353.68 794.53,356.13 794.53,361.03 790.29,363.48 786.05,361.03 786.05,356.13" fill="#4A2D9A" stroke="#4A2D9A" stroke-width="0.6"/>
<polygon points="787.29,359.28 793.29,359.28 793.29,360.28 790.29,362.08 787.29,360.28" fill="#fff"/>
<polygon points="790.3,369.3 795.8,378.7 784.8,378.7" fill="#EE7F1E" stroke="#EE7F1E" stroke-width="0.6" stroke-linejoin="round"/>
<polygon points="787.3,376.0 793.3,376.0 794.0,377.4 786.6,377.4" fill="#fff"/>
<circle cx="790.3" cy="421.2" r="4.5" fill="#A2423B"/><path d="M787.1 421.7A3.3 3.3 0 0 0 793.5 421.7Z" fill="#fff"/>
<rect x="786.3" y="425.7" width="8" height="7.8" fill="#2C4DA3"/><rect x="787.4" y="430.1" width="5.8" height="1.7" fill="#fff"/>
<g stroke="#4A2D9A" stroke-width="0.9" fill="none"><circle cx="906.2" cy="313.1" r="4.2"/><rect x="902.0" y="308.9" width="8.4" height="8.4"/><path d="M902.0 308.9L910.4 317.3M910.4 308.9L902.0 317.3"/></g>
<g stroke="#EE7F1E" stroke-width="1.15" fill="none"><polygon points="906.2,328.4 911.2,337.2 901.2,337.2"/><path d="M900.6 328.2L912.0 338.4M912.0 328.2L900.6 338.4"/></g>
<g stroke="#A2423B" stroke-width="0.9" fill="none"><circle cx="906.2" cy="385.8" r="4.2"/><rect x="902.0" y="381.6" width="8.4" height="8.4"/><path d="M902.0 381.6L910.4 390.0M910.4 381.6L902.0 390.0"/></g>
<rect x="902.1" y="398.0" width="8.2" height="8.2" fill="#2C4DA3"/>
<g stroke="#fff" stroke-width="0.75" fill="none"><rect x="904.0" y="399.9" width="4.4" height="4.4"/><path d="M904.0 399.9L908.4 404.3M908.4 399.9L904.0 404.3"/></g>
<polygon points="993.90,245.22 998.14,247.68 998.14,252.57 993.90,255.03 989.66,252.57 989.66,247.68" fill="#4A2D9A" stroke="#4A2D9A" stroke-width="0.6"/>
<polygon points="993.60,246.93 993.60,253.32 991.00,251.82 991.00,248.43" fill="#fff"/>
<polygon points="993.90,287.00 998.94,290.66 997.02,296.59 990.78,296.59 988.86,290.66" fill="#27307F" stroke="#27307F" stroke-width="0.8"/>
<polygon points="991.0,292.6 996.8,292.6 996.1,295.3 991.7,295.3" fill="#fff"/>
<polygon points="993.9,352.6 999.3,362.2 988.5,362.2" fill="#EE7F1E" stroke="#EE7F1E" stroke-width="1.15"/>
<polygon points="993.5,355.6 993.5,360.8 991.0,360.8" fill="#fff"/>
<circle cx="993.9" cy="383.5" r="4.4" fill="#A2423B"/><path d="M993.6 380.4A3.1 3.1 0 0 0 993.6 386.6Z" fill="#fff"/>
<rect x="989.9" y="412.8" width="8" height="8" fill="#2C4DA3"/><rect x="991.4" y="414.2" width="1.7" height="5.2" fill="#fff"/>
<text x="682.0" y="363.7" font-size="9.6" fill="#D3222B" stroke="#D3222B" stroke-width="0.22" textLength="40.4" lengthAdjust="spacingAndGlyphs">This work</text>
<text x="943.3" y="210.8" font-size="9.6" fill="#D3222B" stroke="#D3222B" stroke-width="0.22" textLength="40.2" lengthAdjust="spacingAndGlyphs">This work</text>
<text x="711.0" y="388.0" font-size="8.8" fill="#A0443D" stroke="#A0443D" stroke-width="0.22" textLength="59.0" lengthAdjust="spacingAndGlyphs">J. Energy Chem.</text>
<text x="706.0" y="400.2" font-size="8.8" fill="#A0443D" stroke="#A0443D" stroke-width="0.22" textLength="71.1" lengthAdjust="spacingAndGlyphs">2025, 109, 455-465</text>
<text x="698.5" y="418.7" font-size="8.8" fill="#EC8428" stroke="#EC8428" stroke-width="0.22" textLength="82.3" lengthAdjust="spacingAndGlyphs">Energy Storage Mater.</text>
<text x="707.7" y="431.0" font-size="8.8" fill="#EC8428" stroke="#EC8428" stroke-width="0.22" textLength="66.0" lengthAdjust="spacingAndGlyphs">2021, 41, 515-521</text>
<text x="706.7" y="442.8" font-size="8.8" fill="#2D4BA0" stroke="#2D4BA0" stroke-width="0.22" textLength="73.0" lengthAdjust="spacingAndGlyphs">J Colloid. Interf. Sci.</text>
<text x="708.2" y="455.0" font-size="8.8" fill="#2D4BA0" stroke="#2D4BA0" stroke-width="0.22" textLength="70.8" lengthAdjust="spacingAndGlyphs">2022, 627, 367-374</text>
<text x="748.1" y="339.7" font-size="8.8" fill="#3E2C8E" stroke="#3E2C8E" stroke-width="0.22" textLength="30.5" lengthAdjust="spacingAndGlyphs">Adv. Sci.</text>
<text x="732.9" y="351.5" font-size="8.8" fill="#3E2C8E" stroke="#3E2C8E" stroke-width="0.22" textLength="62.9" lengthAdjust="spacingAndGlyphs">2022, 9, 2201433</text>
<text x="853.9" y="296.7" font-size="8.8" fill="#3E2C8E" stroke="#3E2C8E" stroke-width="0.22" textLength="46.6" lengthAdjust="spacingAndGlyphs">Nano Energy</text>
<text x="845.1" y="308.8" font-size="8.8" fill="#3E2C8E" stroke="#3E2C8E" stroke-width="0.22" textLength="63.8" lengthAdjust="spacingAndGlyphs">2022, 97, 107145</text>
<text x="800.0" y="327.6" font-size="8.8" fill="#EC8428" stroke="#EC8428" stroke-width="0.22" textLength="101.3" lengthAdjust="spacingAndGlyphs">ACS Appl. Mater. Interfaces</text>
<text x="809.0" y="339.6" font-size="8.8" fill="#EC8428" stroke="#EC8428" stroke-width="0.22" textLength="85.2" lengthAdjust="spacingAndGlyphs">2021, 13, 40638-40647</text>
<text x="796.4" y="372.4" font-size="8.8" fill="#EC8428" stroke="#EC8428" stroke-width="0.22" textLength="83.2" lengthAdjust="spacingAndGlyphs">Angew. Chem., Int. Ed.</text>
<text x="794.8" y="384.5" font-size="8.8" fill="#EC8428" stroke="#EC8428" stroke-width="0.22" textLength="86.9" lengthAdjust="spacingAndGlyphs">2023, 135, e202215385</text>
<text x="784.9" y="403.3" font-size="8.8" fill="#A0443D" stroke="#A0443D" stroke-width="0.22" textLength="71.1" lengthAdjust="spacingAndGlyphs">Adv. Energy Mater.</text>
<text x="787.6" y="415.4" font-size="8.8" fill="#A0443D" stroke="#A0443D" stroke-width="0.22" textLength="68.0" lengthAdjust="spacingAndGlyphs">2022, 12, 2103557</text>
<text x="857.0" y="415.2" font-size="8.8" fill="#2D4BA0" stroke="#2D4BA0" stroke-width="0.22" textLength="83.6" lengthAdjust="spacingAndGlyphs">Angew. Chem., Int. Ed.</text>
<text x="856.4" y="427.3" font-size="8.8" fill="#2D4BA0" stroke="#2D4BA0" stroke-width="0.22" textLength="84.9" lengthAdjust="spacingAndGlyphs">2021, 60, 18247-18255</text>
<text x="796.8" y="440.5" font-size="8.8" fill="#2D4BA0" stroke="#2D4BA0" stroke-width="0.22" textLength="70.7" lengthAdjust="spacingAndGlyphs">Adv. Energy Mater.</text>
<text x="799.1" y="452.5" font-size="8.8" fill="#2D4BA0" stroke="#2D4BA0" stroke-width="0.22" textLength="68.4" lengthAdjust="spacingAndGlyphs">2021, 11, 2102010</text>
<text x="893.0" y="366.7" font-size="8.8" fill="#A0443D" stroke="#A0443D" stroke-width="0.22" textLength="47.2" lengthAdjust="spacingAndGlyphs">Nano Energy</text>
<text x="884.6" y="378.6" font-size="8.8" fill="#A0443D" stroke="#A0443D" stroke-width="0.22" textLength="63.8" lengthAdjust="spacingAndGlyphs">2022, 98, 107220</text>
<text x="924.5" y="340.9" font-size="8.8" fill="#EC8428" stroke="#EC8428" stroke-width="0.22" textLength="83.0" lengthAdjust="spacingAndGlyphs">Energy Storage Mater.</text>
<text x="940.0" y="352.8" font-size="8.8" fill="#EC8428" stroke="#EC8428" stroke-width="0.22" textLength="53.3" lengthAdjust="spacingAndGlyphs">2023, 54, 366.</text>
<text x="949.6" y="397.7" font-size="8.8" fill="#A0443D" stroke="#A0443D" stroke-width="0.22" textLength="64.8" lengthAdjust="spacingAndGlyphs">J. Am. Chem. Soc.</text>
<text x="949.4" y="409.9" font-size="8.8" fill="#A0443D" stroke="#A0443D" stroke-width="0.22" textLength="65.4" lengthAdjust="spacingAndGlyphs">2022, 144, 11129.</text>
<text x="912.8" y="437.7" font-size="8.8" fill="#2D4BA0" stroke="#2D4BA0" stroke-width="0.22" textLength="103.7" lengthAdjust="spacingAndGlyphs">ACS Appl. Mater. Interfaces.</text>
<text x="923.9" y="449.6" font-size="8.8" fill="#2D4BA0" stroke="#2D4BA0" stroke-width="0.22" textLength="82.5" lengthAdjust="spacingAndGlyphs">2021,13, 29631-29640</text>
<text x="948.3" y="264.5" font-size="8.8" fill="#3E2C8E" stroke="#3E2C8E" stroke-width="0.22" textLength="60.2" lengthAdjust="spacingAndGlyphs">ACS Energy Lett.</text>
<text x="943.3" y="276.2" font-size="8.8" fill="#3E2C8E" stroke="#3E2C8E" stroke-width="0.22" textLength="71.1" lengthAdjust="spacingAndGlyphs">2020, 5, 3012-3020</text>
<text x="949.0" y="304.8" font-size="8.8" fill="#2B327C" stroke="#2B327C" stroke-width="0.22" textLength="59.5" lengthAdjust="spacingAndGlyphs">ACS Energy Lett.</text>
<text x="943.8" y="316.9" font-size="8.8" fill="#2B327C" stroke="#2B327C" stroke-width="0.22" textLength="70.6" lengthAdjust="spacingAndGlyphs">2021, 6, 3236-3243</text>
</g>
<g id="pd" font-family="Liberation Sans, sans-serif">
<clipPath id="cpd"><rect x="64.2" y="503.7" width="494.59999999999997" height="260.09999999999997"/></clipPath>
<g clip-path="url(#cpd)">
<path d="M65.2 634.8V567.3M69.1 634.8V570.8M72.9 634.8V575.0M76.7 634.8V577.6M80.5 634.8V581.8M84.3 634.8V582.5M88.1 634.8V582.6M91.9 634.8V583.3M95.7 634.8V583.7M99.5 634.8V582.3M103.3 634.8V584.2M107.1 634.8V582.3M110.9 634.8V583.8M114.8 634.8V584.1M118.6 634.8V583.3M122.4 634.8V583.7M126.2 634.8V583.8M130.0 634.8V583.6M133.8 634.8V582.5M137.6 634.8V582.9M141.4 634.8V579.5M145.2 634.8V578.3M149.0 634.8V576.1M152.8 634.8V574.9M156.6 634.8V574.4M160.4 634.8V574.9M164.3 634.8V572.8M168.1 634.8V572.9M171.9 634.8V572.7M175.7 634.8V568.4M179.5 634.8V566.3M183.3 634.8V563.9M187.1 634.8V564.8M190.9 634.8V564.4M194.7 634.8V564.4M198.5 634.8V565.5M202.3 634.8V567.8M206.1 634.8V565.2M210.0 634.8V566.8M213.8 634.8V566.5M217.6 634.8V565.8M221.4 634.8V552.9M225.2 634.8V554.0M229.0 634.8V553.8M232.8 634.8V554.8M236.6 634.8V552.6M240.4 634.8V553.1M244.2 634.8V552.8M248.0 634.8V555.2M251.8 634.8V557.8M255.6 634.8V546.3M259.5 634.8V546.5M263.3 634.8V548.5M267.1 634.8V549.8M270.9 634.8V550.0M274.7 634.8V550.5M278.5 634.8V553.3M282.3 634.8V553.6M286.1 634.8V552.1M289.9 634.8V558.3M293.7 634.8V560.0M297.5 634.8V551.4M301.3 634.8V553.6M305.2 634.8V551.1M309.0 634.8V553.3M312.8 634.8V552.5M316.6 634.8V553.1M320.4 634.8V553.1M324.2 634.8V551.3M328.0 634.8V552.6M331.8 634.8V564.3M335.6 634.8V562.4M339.4 634.8V562.5M343.2 634.8V560.6M347.0 634.8V559.5M350.8 634.8V560.6M354.7 634.8V559.6M358.5 634.8V558.9M362.3 634.8V556.7M366.1 634.8V557.5M369.9 634.8V567.5M373.7 634.8V572.3M377.5 634.8V572.9M381.3 634.8V574.1M385.1 634.8V575.7M388.9 634.8V574.0M392.7 634.8V574.7M396.5 634.8V573.7M400.4 634.8V571.7M404.2 634.8V572.0M408.0 634.8V582.0M411.8 634.8V582.6M415.6 634.8V581.7M419.4 634.8V581.9M423.2 634.8V583.1M427.0 634.8V584.2M430.8 634.8V583.7M434.6 634.8V582.4M438.4 634.8V582.8M442.2 634.8V583.7M446.0 634.8V584.5M449.9 634.8V583.0M453.7 634.8V584.1M457.5 634.8V582.2M461.3 634.8V583.2M465.1 634.8V582.4M468.9 634.8V582.1M472.7 634.8V582.6M476.5 634.8V583.7M480.3 634.8V584.5M484.1 634.8V596.3M487.9 634.8V594.6M491.7 634.8V594.5M495.6 634.8V593.9M499.4 634.8V594.4M503.2 634.8V593.1M507.0 634.8V592.6M510.8 634.8V594.1M514.6 634.8V596.1M518.4 634.8V598.0M522.2 634.8V605.4M526.0 634.8V607.0M529.8 634.8V606.2M533.6 634.8V606.2M537.4 634.8V606.5M541.2 634.8V605.3M545.1 634.8V605.0M548.9 634.8V605.5M552.7 634.8V604.6M556.5 634.8V604.5M67.2 632.8V695.7M71.0 632.8V691.8M74.8 632.8V689.8M78.6 632.8V688.1M82.4 632.8V684.1M86.2 632.8V684.3M90.0 632.8V683.4M93.8 632.8V684.9M97.6 632.8V685.4M101.4 632.8V683.5M105.2 632.8V684.5M109.0 632.8V684.2M112.8 632.8V684.3M116.7 632.8V683.9M120.5 632.8V684.4M124.3 632.8V683.9M128.1 632.8V684.3M131.9 632.8V683.4M135.7 632.8V684.5M139.5 632.8V683.8M143.3 632.8V690.5M147.1 632.8V689.6M150.9 632.8V690.8M154.7 632.8V690.4M158.5 632.8V691.3M162.4 632.8V691.4M166.2 632.8V692.4M170.0 632.8V692.1M173.8 632.8V691.5M177.6 632.8V695.1M181.4 632.8V698.6M185.2 632.8V698.9M189.0 632.8V698.3M192.8 632.8V699.2M196.6 632.8V698.2M200.4 632.8V697.2M204.2 632.8V699.0M208.0 632.8V698.7M211.9 632.8V697.6M215.7 632.8V699.7M219.5 632.8V704.6M223.3 632.8V709.3M227.1 632.8V711.2M230.9 632.8V709.3M234.7 632.8V709.2M238.5 632.8V707.2M242.3 632.8V709.3M246.1 632.8V708.7M249.9 632.8V707.6M253.7 632.8V710.7M257.6 632.8V718.4M261.4 632.8V714.1M265.2 632.8V714.0M269.0 632.8V712.8M272.8 632.8V712.9M276.6 632.8V711.7M280.4 632.8V710.2M284.2 632.8V710.6M288.0 632.8V710.5M291.8 632.8V710.4M295.6 632.8V714.1M299.4 632.8V711.7M303.2 632.8V711.5M307.1 632.8V712.2M310.9 632.8V713.4M314.7 632.8V711.6M318.5 632.8V713.1M322.3 632.8V712.3M326.1 632.8V712.9M329.9 632.8V712.9M333.7 632.8V695.5M337.5 632.8V697.0M341.3 632.8V700.8M345.1 632.8V700.9M348.9 632.8V704.6M352.8 632.8V703.7M356.6 632.8V707.0M360.4 632.8V708.2M364.2 632.8V709.0M368.0 632.8V711.6M371.8 632.8V688.9M375.6 632.8V689.9M379.4 632.8V690.4M383.2 632.8V691.2M387.0 632.8V691.1M390.8 632.8V693.4M394.6 632.8V694.4M398.4 632.8V695.7M402.3 632.8V695.4M406.1 632.8V695.4M409.9 632.8V676.6M413.7 632.8V679.0M417.5 632.8V678.3M421.3 632.8V680.5M425.1 632.8V680.4M428.9 632.8V680.8M432.7 632.8V682.2M436.5 632.8V681.4M440.3 632.8V681.1M444.1 632.8V679.5M448.0 632.8V672.8M451.8 632.8V672.0M455.6 632.8V673.0M459.4 632.8V674.3M463.2 632.8V673.9M467.0 632.8V675.5M470.8 632.8V675.2M474.6 632.8V676.3M478.4 632.8V677.4M482.2 632.8V677.5M486.0 632.8V667.4M489.8 632.8V667.5M493.6 632.8V668.1M497.5 632.8V667.8M501.3 632.8V667.7M505.1 632.8V668.2M508.9 632.8V668.7M512.7 632.8V668.3M516.5 632.8V667.6M520.3 632.8V668.8M524.1 632.8V657.5M527.9 632.8V657.8M531.7 632.8V658.2M535.5 632.8V658.6M539.3 632.8V659.2M543.2 632.8V660.2M547.0 632.8V660.6M550.8 632.8V661.6M554.6 632.8V661.3M558.4 632.8V662.0" fill="none" stroke="#882085" stroke-width="3.8" stroke-linecap="round"/>
<path d="M65.2 634.8V561.0M69.1 634.8V571.2M72.9 634.8V571.9M76.7 634.8V576.4M80.5 634.8V578.1M84.3 634.8V579.2M88.1 634.8V580.1M91.9 634.8V579.0M95.7 634.8V578.2M99.5 634.8V580.6M103.3 634.8V576.9M107.1 634.8V575.0M110.9 634.8V578.0M114.8 634.8V579.4M118.6 634.8V582.7M122.4 634.8V584.0M126.2 634.8V584.0M130.0 634.8V584.0M133.8 634.8V583.6M137.6 634.8V584.0M141.4 634.8V583.6M145.2 634.8V576.1M149.0 634.8V574.0M152.8 634.8V574.4M156.6 634.8V574.8M160.4 634.8V573.6M164.3 634.8V572.7M168.1 634.8V572.6M171.9 634.8V568.9M175.7 634.8V569.5M179.5 634.8V567.7M183.3 634.8V570.1M187.1 634.8V567.7M190.9 634.8V566.7M194.7 634.8V566.8M198.5 634.8V566.7M202.3 634.8V569.2M206.1 634.8V568.5M210.0 634.8V570.4M213.8 634.8V569.4M217.6 634.8V569.0M221.4 634.8V576.6M225.2 634.8V576.8M229.0 634.8V578.0M232.8 634.8V579.0M236.6 634.8V581.1M240.4 634.8V580.9M244.2 634.8V576.9M248.0 634.8V579.1M251.8 634.8V577.4M67.2 632.8V698.9M71.0 632.8V692.2M74.8 632.8V692.8M78.6 632.8V688.4M82.4 632.8V688.3M86.2 632.8V685.3M90.0 632.8V685.3M93.8 632.8V686.8M97.6 632.8V683.9M101.4 632.8V683.2M105.2 632.8V691.2M109.0 632.8V691.4M112.8 632.8V692.8M116.7 632.8V690.0M120.5 632.8V686.4M124.3 632.8V685.7M128.1 632.8V688.1M131.9 632.8V683.4M135.7 632.8V686.1M139.5 632.8V687.1M143.3 632.8V690.6M147.1 632.8V694.0M150.9 632.8V692.6M154.7 632.8V695.8M158.5 632.8V694.7M162.4 632.8V696.5M166.2 632.8V695.9M170.0 632.8V696.0M173.8 632.8V693.8M177.6 632.8V695.9M181.4 632.8V697.4M185.2 632.8V696.5M189.0 632.8V695.7M192.8 632.8V696.2M196.6 632.8V696.5M200.4 632.8V698.5M204.2 632.8V697.5M208.0 632.8V697.9M211.9 632.8V695.9M215.7 632.8V699.7M219.5 632.8V695.2M223.3 632.8V698.6M227.1 632.8V695.8M230.9 632.8V695.2M234.7 632.8V696.3M238.5 632.8V699.4M242.3 632.8V697.6M246.1 632.8V696.1M249.9 632.8V699.4M253.7 632.8V699.9" fill="none" stroke="#C8486B" stroke-width="3.75" stroke-linecap="round"/>
<path d="M255.6 634.8V560.2M259.5 634.8V577.7M263.3 634.8V581.2M267.1 634.8V579.4M270.9 634.8V576.8M274.7 634.8V577.0M278.5 634.8V577.9M282.3 634.8V576.3M286.1 634.8V575.5M289.9 634.8V573.9M257.6 632.8V701.3M261.4 632.8V697.7M265.2 632.8V699.2M269.0 632.8V702.0M272.8 632.8V700.5M276.6 632.8V700.8M280.4 632.8V699.2M284.2 632.8V702.2M288.0 632.8V701.5M291.8 632.8V700.5" fill="none" stroke="#C8486B" stroke-width="3.05" stroke-linecap="round"/>
<path d="M293.7 634.8V582.0M297.5 634.8V585.8M301.3 634.8V588.2M305.2 634.8V588.7M309.0 634.8V587.0M312.8 634.8V588.2M316.6 634.8V589.5M320.4 634.8V588.0M324.2 634.8V591.4M328.0 634.8V591.4M331.8 634.8V572.7M335.6 634.8V572.3M339.4 634.8V571.4M343.2 634.8V574.4M347.0 634.8V573.0M350.8 634.8V572.3M354.7 634.8V573.0M358.5 634.8V572.9M362.3 634.8V570.0M366.1 634.8V568.8M295.6 632.8V693.7M299.4 632.8V694.4M303.2 632.8V691.3M307.1 632.8V691.2M310.9 632.8V690.6M314.7 632.8V690.9M318.5 632.8V691.8M322.3 632.8V692.6M326.1 632.8V690.9M329.9 632.8V693.6M333.7 632.8V677.7M337.5 632.8V677.2M341.3 632.8V677.1M345.1 632.8V677.0M348.9 632.8V676.4M352.8 632.8V675.1M356.6 632.8V674.8M360.4 632.8V673.5M364.2 632.8V675.5M368.0 632.8V674.9" fill="none" stroke="#C8486B" stroke-width="3.45" stroke-linecap="round"/>
<path d="M369.9 634.8V600.5M373.7 634.8V603.6M377.5 634.8V603.4M381.3 634.8V601.1M385.1 634.8V601.2M388.9 634.8V600.0M392.7 634.8V600.6M396.5 634.8V598.2M400.4 634.8V599.8M404.2 634.8V598.5M408.0 634.8V609.0M411.8 634.8V611.3M415.6 634.8V610.7M419.4 634.8V610.1M423.2 634.8V607.6M427.0 634.8V607.2M430.8 634.8V608.4M434.6 634.8V608.7M438.4 634.8V609.3M442.2 634.8V610.5M446.0 634.8V613.0M449.9 634.8V614.2M453.7 634.8V613.5M457.5 634.8V612.2M461.3 634.8V610.9M465.1 634.8V611.2M468.9 634.8V609.6M472.7 634.8V609.3M476.5 634.8V608.7M480.3 634.8V608.3M484.1 634.8V618.5M487.9 634.8V618.3M491.7 634.8V618.3M495.6 634.8V617.7M499.4 634.8V618.7M503.2 634.8V617.7M507.0 634.8V618.5M510.8 634.8V617.1M514.6 634.8V617.9M518.4 634.8V616.9M522.2 634.8V620.7M526.0 634.8V621.0M529.8 634.8V621.4M533.6 634.8V621.6M537.4 634.8V620.6M541.2 634.8V621.4M545.1 634.8V621.3M548.9 634.8V621.6M552.7 634.8V621.4M556.5 634.8V620.7M371.8 632.8V667.4M375.6 632.8V668.3M379.4 632.8V666.6M383.2 632.8V668.0M387.0 632.8V668.2M390.8 632.8V668.7M394.6 632.8V667.4M398.4 632.8V668.0M402.3 632.8V669.5M406.1 632.8V667.8M409.9 632.8V662.6M413.7 632.8V662.9M417.5 632.8V662.4M421.3 632.8V662.3M425.1 632.8V663.1M428.9 632.8V663.5M432.7 632.8V664.9M436.5 632.8V663.2M440.3 632.8V664.8M444.1 632.8V662.1M448.0 632.8V659.5M451.8 632.8V659.4M455.6 632.8V660.1M459.4 632.8V658.6M463.2 632.8V658.6M467.0 632.8V658.5M470.8 632.8V658.7M474.6 632.8V658.6M478.4 632.8V659.9M482.2 632.8V659.4M486.0 632.8V654.0M489.8 632.8V653.2M493.6 632.8V653.2M497.5 632.8V654.1M501.3 632.8V652.5M505.1 632.8V652.9M508.9 632.8V652.9M512.7 632.8V652.2M516.5 632.8V652.1M520.3 632.8V651.4M524.1 632.8V651.0M527.9 632.8V651.2M531.7 632.8V650.8M535.5 632.8V650.4M539.3 632.8V650.6M543.2 632.8V650.8M547.0 632.8V649.6M550.8 632.8V649.2M554.6 632.8V649.0M558.4 632.8V648.8" fill="none" stroke="#C8486B" stroke-width="3.75" stroke-linecap="round"/>
<path d="M65.2 634.8V580.5M69.1 634.8V581.2M72.9 634.8V589.1M76.7 634.8V604.6M80.5 634.8V604.5M84.3 634.8V603.8M88.1 634.8V604.3M91.9 634.8V604.7M95.7 634.8V605.0M99.5 634.8V605.3M103.3 634.8V582.8M107.1 634.8V605.2M110.9 634.8V605.7M114.8 634.8V589.7M118.6 634.8V589.2M122.4 634.8V588.5M126.2 634.8V597.8M130.0 634.8V606.6M133.8 634.8V606.1M137.6 634.8V601.3M141.4 634.8V606.0M145.2 634.8V582.9M149.0 634.8V606.5M152.8 634.8V587.3M156.6 634.8V585.8M160.4 634.8V584.6M164.3 634.8V583.2M168.1 634.8V582.5M171.9 634.8V581.1M175.7 634.8V605.0M179.5 634.8V605.2M183.3 634.8V582.4M187.1 634.8V585.6M190.9 634.8V584.5M194.7 634.8V594.2M198.5 634.8V581.8M202.3 634.8V594.9M206.1 634.8V608.8M210.0 634.8V609.3M213.8 634.8V609.4M217.6 634.8V609.5M221.4 634.8V610.0M225.2 634.8V610.4M229.0 634.8V610.4M232.8 634.8V611.0M236.6 634.8V610.8M240.4 634.8V611.5M244.2 634.8V611.5M248.0 634.8V611.1M251.8 634.8V611.7M255.6 634.8V603.8M259.5 634.8V619.5M263.3 634.8V619.4M267.1 634.8V619.9M270.9 634.8V620.1M274.7 634.8V619.8M278.5 634.8V620.2M282.3 634.8V620.4M286.1 634.8V620.8M289.9 634.8V620.4M293.7 634.8V620.2M297.5 634.8V620.0M301.3 634.8V619.8M305.2 634.8V620.0M309.0 634.8V619.4M312.8 634.8V619.5M316.6 634.8V619.1M320.4 634.8V619.1M324.2 634.8V618.9M328.0 634.8V618.8M331.8 634.8V619.6M335.6 634.8V621.1M339.4 634.8V621.2M343.2 634.8V620.9M347.0 634.8V621.3M350.8 634.8V621.0M354.7 634.8V621.2M358.5 634.8V606.2M362.3 634.8V620.9M366.1 634.8V621.2M369.9 634.8V624.0M373.7 634.8V627.2M377.5 634.8V626.8M381.3 634.8V626.5M385.1 634.8V626.4M388.9 634.8V625.9M392.7 634.8V625.6M396.5 634.8V625.6M400.4 634.8V625.1M404.2 634.8V625.0M408.0 634.8V624.8M411.8 634.8V624.7M415.6 634.8V625.1M419.4 634.8V624.8M423.2 634.8V625.1M427.0 634.8V625.0M430.8 634.8V625.1M434.6 634.8V625.2M438.4 634.8V625.5M442.2 634.8V625.6M446.0 634.8V625.5M449.9 634.8V625.5M453.7 634.8V625.5M457.5 634.8V625.6M461.3 634.8V625.7M465.1 634.8V626.1M468.9 634.8V626.1M472.7 634.8V626.0M476.5 634.8V626.2M480.3 634.8V626.2M484.1 634.8V627.7M487.9 634.8V629.0M491.7 634.8V629.1M495.6 634.8V629.2M499.4 634.8V629.4M503.2 634.8V629.3M507.0 634.8V629.4M510.8 634.8V629.6M514.6 634.8V629.8M518.4 634.8V629.9M522.2 634.8V629.9M526.0 634.8V630.0M529.8 634.8V630.2M533.6 634.8V630.3M537.4 634.8V630.3M541.2 634.8V630.5M545.1 634.8V630.6M548.9 634.8V630.7M552.7 634.8V630.8M556.5 634.8V630.9M67.2 632.8V676.7M71.0 632.8V672.9M74.8 632.8V666.8M78.6 632.8V661.9M82.4 632.8V659.7M86.2 632.8V659.8M90.0 632.8V659.8M93.8 632.8V659.3M97.6 632.8V660.0M101.4 632.8V659.8M105.2 632.8V663.1M109.0 632.8V663.8M112.8 632.8V663.1M116.7 632.8V663.6M120.5 632.8V664.1M124.3 632.8V664.2M128.1 632.8V664.0M131.9 632.8V664.2M135.7 632.8V663.2M139.5 632.8V663.3M143.3 632.8V660.5M147.1 632.8V661.4M150.9 632.8V664.2M154.7 632.8V667.3M158.5 632.8V673.7M162.4 632.8V683.6M166.2 632.8V685.5M170.0 632.8V673.5M173.8 632.8V659.1M177.6 632.8V659.1M181.4 632.8V659.1M185.2 632.8V662.7M189.0 632.8V665.0M192.8 632.8V668.9M196.6 632.8V669.7M200.4 632.8V669.2M204.2 632.8V658.7M208.0 632.8V657.7M211.9 632.8V657.6M215.7 632.8V657.6M219.5 632.8V658.1M223.3 632.8V657.9M227.1 632.8V656.8M230.9 632.8V656.6M234.7 632.8V656.7M238.5 632.8V656.3M242.3 632.8V656.8M246.1 632.8V656.7M249.9 632.8V655.9M253.7 632.8V658.7M257.6 632.8V661.7M261.4 632.8V648.2M265.2 632.8V648.1M269.0 632.8V648.3M272.8 632.8V648.0M276.6 632.8V648.2M280.4 632.8V647.9M284.2 632.8V648.3M288.0 632.8V648.3M291.8 632.8V648.0M295.6 632.8V648.3M299.4 632.8V648.3M303.2 632.8V648.5M307.1 632.8V648.1M310.9 632.8V648.7M314.7 632.8V648.4M318.5 632.8V648.4M322.3 632.8V648.4M326.1 632.8V648.6M329.9 632.8V648.5M333.7 632.8V645.2M337.5 632.8V645.6M341.3 632.8V645.3M345.1 632.8V645.3M348.9 632.8V645.4M352.8 632.8V645.3M356.6 632.8V661.9M360.4 632.8V645.4M364.2 632.8V645.3M368.0 632.8V645.5M371.8 632.8V638.8M375.6 632.8V639.2M379.4 632.8V639.6M383.2 632.8V640.2M387.0 632.8V640.5M390.8 632.8V641.1M394.6 632.8V641.4M398.4 632.8V641.8M402.3 632.8V642.2M406.1 632.8V642.7M409.9 632.8V642.8M413.7 632.8V642.6M417.5 632.8V642.8M421.3 632.8V642.8M425.1 632.8V642.7M428.9 632.8V642.3M432.7 632.8V642.5M436.5 632.8V642.3M440.3 632.8V642.1M444.1 632.8V641.9M448.0 632.8V641.9M451.8 632.8V641.8M455.6 632.8V641.9M459.4 632.8V641.9M463.2 632.8V641.7M467.0 632.8V641.7M470.8 632.8V641.5M474.6 632.8V641.5M478.4 632.8V641.6M482.2 632.8V641.3M486.0 632.8V638.8M489.8 632.8V638.6M493.6 632.8V638.4M497.5 632.8V638.4M501.3 632.8V638.3M505.1 632.8V638.2M508.9 632.8V637.9M512.7 632.8V638.0M516.5 632.8V637.8M520.3 632.8V637.7M524.1 632.8V637.6M527.9 632.8V637.4M531.7 632.8V637.3M535.5 632.8V637.2M539.3 632.8V637.3M543.2 632.8V637.1M547.0 632.8V636.9M550.8 632.8V636.9M554.6 632.8V636.7M558.4 632.8V636.6" fill="none" stroke="#52288A" stroke-width="3.7" stroke-linecap="round"/>
<path d="M65.2 634.8V601.1M69.1 634.8V607.3M72.9 634.8V610.0M76.7 634.8V609.8M80.5 634.8V610.0M84.3 634.8V610.2M88.1 634.8V610.6M91.9 634.8V610.6M95.7 634.8V610.0M99.5 634.8V610.1M103.3 634.8V610.6M107.1 634.8V610.2M110.9 634.8V610.0M114.8 634.8V610.3M118.6 634.8V610.5M122.4 634.8V610.5M126.2 634.8V610.1M130.0 634.8V610.5M133.8 634.8V610.2M137.6 634.8V610.2M141.4 634.8V610.6M145.2 634.8V610.5M149.0 634.8V611.0M152.8 634.8V610.4M156.6 634.8V611.1M160.4 634.8V610.9M164.3 634.8V610.8M168.1 634.8V610.3M171.9 634.8V610.9M175.7 634.8V610.7M179.5 634.8V611.0M183.3 634.8V611.0M187.1 634.8V610.5M190.9 634.8V611.3M194.7 634.8V610.6M198.5 634.8V611.2M202.3 634.8V611.3M206.1 634.8V611.4M210.0 634.8V610.6M213.8 634.8V610.8M217.6 634.8V611.5M221.4 634.8V610.6M225.2 634.8V611.2M229.0 634.8V611.0M232.8 634.8V611.3M236.6 634.8V611.2M240.4 634.8V611.3M244.2 634.8V611.3M248.0 634.8V611.6M251.8 634.8V611.0M255.6 634.8V612.0M259.5 634.8V611.5M263.3 634.8V612.4M267.1 634.8V612.8M270.9 634.8V612.4M274.7 634.8V613.2M278.5 634.8V613.2M282.3 634.8V613.5M286.1 634.8V618.9M289.9 634.8V630.9M293.7 634.8V631.1M297.5 634.8V631.1M301.3 634.8V631.0M305.2 634.8V631.0M309.0 634.8V631.1M312.8 634.8V631.1M316.6 634.8V631.1M320.4 634.8V631.1M324.2 634.8V630.9M328.0 634.8V630.9M331.8 634.8V630.9M335.6 634.8V631.0M339.4 634.8V631.0M343.2 634.8V631.1M347.0 634.8V630.9M350.8 634.8V631.0M354.7 634.8V631.0M358.5 634.8V631.0M362.3 634.8V631.0M366.1 634.8V631.0M369.9 634.8V630.9M373.7 634.8V630.9M377.5 634.8V631.0M381.3 634.8V630.9M385.1 634.8V630.9M388.9 634.8V631.1M392.7 634.8V631.0M396.5 634.8V631.0M400.4 634.8V631.1M404.2 634.8V630.9M408.0 634.8V630.9M411.8 634.8V631.0M415.6 634.8V630.9M419.4 634.8V630.9M423.2 634.8V631.0M427.0 634.8V630.9M430.8 634.8V631.0M434.6 634.8V631.1M438.4 634.8V631.0M442.2 634.8V630.9M446.0 634.8V631.1M449.9 634.8V631.0M453.7 634.8V631.1M457.5 634.8V631.0M461.3 634.8V631.0M465.1 634.8V631.0M468.9 634.8V631.1M472.7 634.8V630.9M476.5 634.8V631.1M480.3 634.8V630.9M484.1 634.8V631.0M487.9 634.8V631.0M491.7 634.8V630.9M495.6 634.8V631.0M499.4 634.8V631.0M503.2 634.8V631.1M507.0 634.8V631.1M510.8 634.8V631.0M514.6 634.8V631.0M518.4 634.8V631.0M522.2 634.8V631.0M526.0 634.8V631.0M529.8 634.8V631.0M533.6 634.8V631.1M537.4 634.8V631.0M541.2 634.8V630.9M545.1 634.8V631.0M548.9 634.8V625.9M552.7 634.8V624.8M556.5 634.8V624.8M67.2 632.8V658.0M71.0 632.8V658.0M74.8 632.8V658.3M78.6 632.8V658.7M82.4 632.8V658.0M86.2 632.8V658.1M90.0 632.8V657.9M93.8 632.8V658.7M97.6 632.8V658.6M101.4 632.8V657.9M105.2 632.8V658.3M109.0 632.8V658.6M112.8 632.8V657.7M116.7 632.8V658.3M120.5 632.8V657.8M124.3 632.8V657.7M128.1 632.8V658.5M131.9 632.8V657.9M135.7 632.8V658.1M139.5 632.8V658.4M143.3 632.8V657.9M147.1 632.8V657.9M150.9 632.8V657.8M154.7 632.8V657.5M158.5 632.8V658.0M162.4 632.8V657.9M166.2 632.8V657.7M170.0 632.8V657.5M173.8 632.8V657.5M177.6 632.8V657.6M181.4 632.8V658.0M185.2 632.8V657.8M189.0 632.8V657.3M192.8 632.8V657.5M196.6 632.8V657.8M200.4 632.8V657.5M204.2 632.8V657.6M208.0 632.8V657.8M211.9 632.8V658.1M215.7 632.8V658.1M219.5 632.8V657.4M223.3 632.8V657.8M227.1 632.8V658.0M230.9 632.8V657.8M234.7 632.8V657.2M238.5 632.8V657.1M242.3 632.8V657.9M246.1 632.8V656.9M249.9 632.8V657.1M253.7 632.8V657.3M257.6 632.8V657.1M261.4 632.8V657.5M265.2 632.8V657.3M269.0 632.8V657.5M272.8 632.8V657.7M276.6 632.8V658.1M280.4 632.8V658.8M284.2 632.8V658.4M288.0 632.8V640.7M291.8 632.8V636.6M295.6 632.8V636.6M299.4 632.8V636.6M303.2 632.8V636.7M307.1 632.8V636.6M310.9 632.8V636.6M314.7 632.8V636.5M318.5 632.8V636.7M322.3 632.8V636.5M326.1 632.8V636.6M329.9 632.8V636.6M333.7 632.8V636.6M337.5 632.8V636.6M341.3 632.8V636.5M345.1 632.8V636.7M348.9 632.8V636.7M352.8 632.8V636.6M356.6 632.8V636.6M360.4 632.8V636.6M364.2 632.8V636.6M368.0 632.8V636.7M371.8 632.8V636.5M375.6 632.8V636.7M379.4 632.8V636.5M383.2 632.8V636.5M387.0 632.8V636.6M390.8 632.8V636.5M394.6 632.8V636.6M398.4 632.8V636.7M402.3 632.8V636.5M406.1 632.8V636.5M409.9 632.8V636.5M413.7 632.8V636.6M417.5 632.8V636.6M421.3 632.8V636.5M425.1 632.8V636.6M428.9 632.8V636.6M432.7 632.8V636.6M436.5 632.8V636.5M440.3 632.8V636.6M444.1 632.8V636.6M448.0 632.8V636.6M451.8 632.8V636.6M455.6 632.8V636.6M459.4 632.8V636.5M463.2 632.8V636.6M467.0 632.8V636.6M470.8 632.8V636.6M474.6 632.8V636.5M478.4 632.8V636.6M482.2 632.8V636.6M486.0 632.8V636.7M489.8 632.8V636.5M493.6 632.8V636.5M497.5 632.8V636.6M501.3 632.8V636.6M505.1 632.8V636.7M508.9 632.8V636.5M512.7 632.8V636.6M516.5 632.8V636.7M520.3 632.8V636.5M524.1 632.8V636.6M527.9 632.8V636.6M531.7 632.8V636.5M535.5 632.8V636.6M539.3 632.8V636.6M543.2 632.8V636.6M547.0 632.8V636.6M550.8 632.8V641.4M554.6 632.8V641.4M558.4 632.8V641.4" fill="none" stroke="#E97C50" stroke-width="3.8" stroke-linecap="round"/>
<path d="M65.2 634.8V598.6M69.1 634.8V605.7M72.9 634.8V608.9M76.7 634.8V609.7M80.5 634.8V608.8M84.3 634.8V608.8M88.1 634.8V609.3M91.9 634.8V609.2M95.7 634.8V609.8M99.5 634.8V609.6M103.3 634.8V609.1M107.1 634.8V609.1M110.9 634.8V609.3M114.8 634.8V609.9M118.6 634.8V609.8M122.4 634.8V609.0M126.2 634.8V609.7M130.0 634.8V609.5M133.8 634.8V609.9M137.6 634.8V609.4M141.4 634.8V609.2M145.2 634.8V609.8M149.0 634.8V610.0M152.8 634.8V609.9M156.6 634.8V610.2M160.4 634.8V609.9M164.3 634.8V609.4M168.1 634.8V609.9M171.9 634.8V609.6M175.7 634.8V609.3M179.5 634.8V609.6M183.3 634.8V610.3M187.1 634.8V610.0M190.9 634.8V610.4M194.7 634.8V610.2M198.5 634.8V610.3M202.3 634.8V609.5M206.1 634.8V610.1M210.0 634.8V610.0M213.8 634.8V610.4M217.6 634.8V609.8M221.4 634.8V610.6M225.2 634.8V610.5M229.0 634.8V610.0M232.8 634.8V610.3M236.6 634.8V610.1M240.4 634.8V610.4M244.2 634.8V619.8M248.0 634.8V619.4M251.8 634.8V619.8M255.6 634.8V628.3M259.5 634.8V630.3M263.3 634.8V630.3M267.1 634.8V630.3M270.9 634.8V630.4M274.7 634.8V630.4M278.5 634.8V630.3M282.3 634.8V630.4M286.1 634.8V630.4M289.9 634.8V630.5M293.7 634.8V630.6M297.5 634.8V630.6M301.3 634.8V630.4M305.2 634.8V630.5M309.0 634.8V630.6M312.8 634.8V630.6M316.6 634.8V630.7M320.4 634.8V630.7M324.2 634.8V630.6M328.0 634.8V630.7M331.8 634.8V630.8M335.6 634.8V630.7M339.4 634.8V630.8M343.2 634.8V630.8M347.0 634.8V630.8M350.8 634.8V630.9M354.7 634.8V630.9M358.5 634.8V630.9M362.3 634.8V631.0M366.1 634.8V631.0M369.9 634.8V631.1M373.7 634.8V631.1M377.5 634.8V631.1M381.3 634.8V631.1M385.1 634.8V631.2M388.9 634.8V631.1M392.7 634.8V631.2M396.5 634.8V631.2M400.4 634.8V631.2M404.2 634.8V631.3M408.0 634.8V631.4M411.8 634.8V631.3M415.6 634.8V631.4M419.4 634.8V631.4M423.2 634.8V631.4M427.0 634.8V631.5M430.8 634.8V619.5M434.6 634.8V622.1M438.4 634.8V630.9M442.2 634.8V631.5M446.0 634.8V631.6M449.9 634.8V631.5M453.7 634.8V631.5M457.5 634.8V631.6M461.3 634.8V631.6M465.1 634.8V631.6M468.9 634.8V631.5M472.7 634.8V631.5M476.5 634.8V631.6M480.3 634.8V631.6M484.1 634.8V631.6M487.9 634.8V631.6M491.7 634.8V622.2M495.6 634.8V622.1M499.4 634.8V622.1M503.2 634.8V622.1M507.0 634.8V622.0M510.8 634.8V628.8M514.6 634.8V630.1M518.4 634.8V631.0M522.2 634.8V630.9M526.0 634.8V631.0M529.8 634.8V630.9M533.6 634.8V631.1M537.4 634.8V631.0M541.2 634.8V631.0M545.1 634.8V631.0M548.9 634.8V631.1M552.7 634.8V630.9M556.5 634.8V630.9M67.2 632.8V657.1M71.0 632.8V657.3M74.8 632.8V657.2M78.6 632.8V656.8M82.4 632.8V657.0M86.2 632.8V656.4M90.0 632.8V656.5M93.8 632.8V656.8M97.6 632.8V656.5M101.4 632.8V657.1M105.2 632.8V656.4M109.0 632.8V656.4M112.8 632.8V656.3M116.7 632.8V657.0M120.5 632.8V656.4M124.3 632.8V657.0M128.1 632.8V657.1M131.9 632.8V656.8M135.7 632.8V657.0M139.5 632.8V657.0M143.3 632.8V656.4M147.1 632.8V656.2M150.9 632.8V656.1M154.7 632.8V656.6M158.5 632.8V656.7M162.4 632.8V656.3M166.2 632.8V656.5M170.0 632.8V656.5M173.8 632.8V656.0M177.6 632.8V656.0M181.4 632.8V656.8M185.2 632.8V656.7M189.0 632.8V656.5M192.8 632.8V656.0M196.6 632.8V656.8M200.4 632.8V656.6M204.2 632.8V656.8M208.0 632.8V659.8M211.9 632.8V664.0M215.7 632.8V656.6M219.5 632.8V656.7M223.3 632.8V656.8M227.1 632.8V656.2M230.9 632.8V656.8M234.7 632.8V656.8M238.5 632.8V656.2M242.3 632.8V656.0M246.1 632.8V656.0M249.9 632.8V659.2M253.7 632.8V660.5M257.6 632.8V637.9M261.4 632.8V637.8M265.2 632.8V637.9M269.0 632.8V637.7M272.8 632.8V637.8M276.6 632.8V637.7M280.4 632.8V637.5M284.2 632.8V637.7M288.0 632.8V637.6M291.8 632.8V637.5M295.6 632.8V637.5M299.4 632.8V637.4M303.2 632.8V637.4M307.1 632.8V637.3M310.9 632.8V637.3M314.7 632.8V637.2M318.5 632.8V637.1M322.3 632.8V637.2M326.1 632.8V637.1M329.9 632.8V637.0M333.7 632.8V637.0M337.5 632.8V637.0M341.3 632.8V637.0M345.1 632.8V636.9M348.9 632.8V636.9M352.8 632.8V636.8M356.6 632.8V636.7M360.4 632.8V636.7M364.2 632.8V636.7M368.0 632.8V636.6M371.8 632.8V636.6M375.6 632.8V636.6M379.4 632.8V636.6M383.2 632.8V636.5M387.0 632.8V636.5M390.8 632.8V636.5M394.6 632.8V636.4M398.4 632.8V636.4M402.3 632.8V636.4M406.1 632.8V636.3M409.9 632.8V636.3M413.7 632.8V636.2M417.5 632.8V636.2M421.3 632.8V636.1M425.1 632.8V636.1M428.9 632.8V648.0M432.7 632.8V648.2M436.5 632.8V637.3M440.3 632.8V636.3M444.1 632.8V636.1M448.0 632.8V636.1M451.8 632.8V636.0M455.6 632.8V636.0M459.4 632.8V636.0M463.2 632.8V636.0M467.0 632.8V636.0M470.8 632.8V636.1M474.6 632.8V636.1M478.4 632.8V636.1M482.2 632.8V636.1M486.0 632.8V636.1M489.8 632.8V636.1M493.6 632.8V645.2M497.5 632.8V645.2M501.3 632.8V645.3M505.1 632.8V636.7M508.9 632.8V644.4M512.7 632.8V638.1M516.5 632.8V636.8M520.3 632.8V636.6M524.1 632.8V636.7M527.9 632.8V636.6M531.7 632.8V636.5M535.5 632.8V636.6M539.3 632.8V636.5M543.2 632.8V636.7M547.0 632.8V636.6M550.8 632.8V636.6M554.6 632.8V636.6M558.4 632.8V636.7" fill="none" stroke="#F5AE27" stroke-width="3.8" stroke-linecap="round"/>
</g>
<rect x="64.2" y="503.7" width="494.59999999999997" height="260.09999999999997" fill="none" stroke="#000" stroke-width="2"/>
<line x1="58.6" y1="529.8" x2="64.2" y2="529.8" stroke="#000" stroke-width="1.8"/>
<text x="54.6" y="534.4" font-size="15" text-anchor="end" fill="#1a1a1a" >0.2</text>
<line x1="58.6" y1="581.8" x2="64.2" y2="581.8" stroke="#000" stroke-width="1.8"/>
<text x="54.6" y="586.4" font-size="15" text-anchor="end" fill="#1a1a1a" >0.1</text>
<line x1="58.6" y1="633.8" x2="64.2" y2="633.8" stroke="#000" stroke-width="1.8"/>
<text x="54.6" y="638.4" font-size="15" text-anchor="end" fill="#1a1a1a" >0.0</text>
<line x1="58.6" y1="685.8" x2="64.2" y2="685.8" stroke="#000" stroke-width="1.8"/>
<text x="54.6" y="690.4" font-size="15" text-anchor="end" fill="#1a1a1a" >-0.1</text>
<line x1="58.6" y1="737.8" x2="64.2" y2="737.8" stroke="#000" stroke-width="1.8"/>
<text x="54.6" y="742.4" font-size="15" text-anchor="end" fill="#1a1a1a" >-0.2</text>
<line x1="61.0" y1="503.8" x2="64.2" y2="503.8" stroke="#000" stroke-width="1.6"/>
<line x1="61.0" y1="555.8" x2="64.2" y2="555.8" stroke="#000" stroke-width="1.6"/>
<line x1="61.0" y1="607.8" x2="64.2" y2="607.8" stroke="#000" stroke-width="1.6"/>
<line x1="61.0" y1="659.8" x2="64.2" y2="659.8" stroke="#000" stroke-width="1.6"/>
<line x1="61.0" y1="711.8" x2="64.2" y2="711.8" stroke="#000" stroke-width="1.6"/>
<line x1="61.0" y1="763.8" x2="64.2" y2="763.8" stroke="#000" stroke-width="1.6"/>
<line x1="64.2" y1="763.8" x2="64.2" y2="769.8" stroke="#000" stroke-width="1.8"/>
<text x="64.2" y="784.9" font-size="14.95" text-anchor="middle" fill="#1a1a1a" >0</text>
<line x1="111.8" y1="763.8" x2="111.8" y2="767.0" stroke="#000" stroke-width="1.6"/>
<line x1="159.4" y1="763.8" x2="159.4" y2="769.8" stroke="#000" stroke-width="1.8"/>
<text x="159.4" y="784.9" font-size="14.95" text-anchor="middle" fill="#1a1a1a" >50</text>
<line x1="207.0" y1="763.8" x2="207.0" y2="767.0" stroke="#000" stroke-width="1.6"/>
<line x1="254.6" y1="763.8" x2="254.6" y2="769.8" stroke="#000" stroke-width="1.8"/>
<text x="254.6" y="784.9" font-size="14.95" text-anchor="middle" fill="#1a1a1a" >100</text>
<line x1="302.2" y1="763.8" x2="302.2" y2="767.0" stroke="#000" stroke-width="1.6"/>
<line x1="349.8" y1="763.8" x2="349.8" y2="769.8" stroke="#000" stroke-width="1.8"/>
<text x="349.8" y="784.9" font-size="14.95" text-anchor="middle" fill="#1a1a1a" >150</text>
<line x1="397.4" y1="763.8" x2="397.4" y2="767.0" stroke="#000" stroke-width="1.6"/>
<line x1="445.0" y1="763.8" x2="445.0" y2="769.8" stroke="#000" stroke-width="1.8"/>
<text x="445.0" y="784.9" font-size="14.95" text-anchor="middle" fill="#1a1a1a" >200</text>
<line x1="492.6" y1="763.8" x2="492.6" y2="767.0" stroke="#000" stroke-width="1.6"/>
<line x1="540.2" y1="763.8" x2="540.2" y2="769.8" stroke="#000" stroke-width="1.8"/>
<text x="540.2" y="784.9" font-size="14.95" text-anchor="middle" fill="#1a1a1a" >250</text>
<text x="1.5" y="513.0" font-size="21.6" text-anchor="start" fill="#1a1a1a" >(d)</text>
<text transform="translate(21.3,628.4) rotate(-90)" font-size="20.6" text-anchor="middle" fill="#1a1a1a">Voltage (V)</text>
<text x="311.6" y="814.2" font-size="20.6" text-anchor="middle" fill="#1a1a1a" >Time (h)</text>
<text x="89.9" y="573.7" font-size="14.1" text-anchor="middle" fill="#1a1a1a" >0.2</text>
<text x="126.7" y="570.8" font-size="14.1" text-anchor="middle" fill="#1a1a1a" >0.4</text>
<text x="162.7" y="563.5" font-size="14.1" text-anchor="middle" fill="#1a1a1a" >0.8</text>
<text x="199.9" y="555.7" font-size="14.1" text-anchor="middle" fill="#1a1a1a" >1.0</text>
<text x="237.0" y="544.3" font-size="14.1" text-anchor="middle" fill="#1a1a1a" >2.0</text>
<text x="273.8" y="539.4" font-size="14.1" text-anchor="middle" fill="#1a1a1a" >4.0</text>
<text x="310.7" y="541.4" font-size="14.1" text-anchor="middle" fill="#1a1a1a" >5.0</text>
<text x="352.8" y="547.5" font-size="14.1" text-anchor="middle" fill="#1a1a1a" >4.0</text>
<text x="389.5" y="565.5" font-size="14.1" text-anchor="middle" fill="#1a1a1a" >2.0</text>
<text x="426.3" y="575.7" font-size="14.1" text-anchor="middle" fill="#1a1a1a" >1.0</text>
<text x="463.5" y="576.1" font-size="14.1" text-anchor="middle" fill="#1a1a1a" >0.8</text>
<text x="506.0" y="586.4" font-size="14.1" text-anchor="middle" fill="#1a1a1a" >0.4</text>
<text x="542.4" y="598.2" font-size="14.1" text-anchor="middle" fill="#1a1a1a" >0.2</text>
<text x="89.9" y="708.6" font-size="14.1" text-anchor="middle" fill="#1a1a1a" >0.2</text>
<text x="126.7" y="705.7" font-size="14.1" text-anchor="middle" fill="#1a1a1a" >0.4</text>
<text x="162.7" y="711.8" font-size="14.1" text-anchor="middle" fill="#1a1a1a" >0.8</text>
<text x="199.9" y="715.1" font-size="14.1" text-anchor="middle" fill="#1a1a1a" >1.0</text>
<text x="237.0" y="722.0" font-size="14.1" text-anchor="middle" fill="#1a1a1a" >2.0</text>
<text x="273.8" y="727.0" font-size="14.1" text-anchor="middle" fill="#1a1a1a" >4.0</text>
<text x="310.7" y="728.2" font-size="14.1" text-anchor="middle" fill="#1a1a1a" >5.0</text>
<text x="352.8" y="722.9" font-size="14.1" text-anchor="middle" fill="#1a1a1a" >4.0</text>
<text x="389.5" y="709.8" font-size="14.1" text-anchor="middle" fill="#1a1a1a" >2.0</text>
<text x="426.3" y="694.7" font-size="14.1" text-anchor="middle" fill="#1a1a1a" >1.0</text>
<text x="463.5" y="695.5" font-size="14.1" text-anchor="middle" fill="#1a1a1a" >0.8</text>
<text x="506.0" y="687.3" font-size="14.1" text-anchor="middle" fill="#1a1a1a" >0.4</text>
<text x="542.4" y="678.3" font-size="14.1" text-anchor="middle" fill="#1a1a1a" >0.2</text>
<text x="555.3" y="521.5" font-size="14" text-anchor="end" fill="#1a1a1a"><tspan font-weight="bold">Unit:</tspan> mA cm<tspan dy="-6" font-size="10">-2</tspan></text>
<text x="555.3" y="724.7" font-size="14" text-anchor="end" fill="#1a1a1a"><tspan font-weight="bold">Unit:</tspan> mAh cm<tspan dy="-6" font-size="10">-2</tspan></text>
<line x1="71.6" y1="728.6" x2="102.8" y2="728.6" stroke="#F5AE27" stroke-width="3.2" stroke-linecap="round"/>
<text x="107.1" y="733.5" font-size="14.2" text-anchor="start" fill="#1a1a1a" >ZSO</text>
<line x1="71.6" y1="749.8" x2="102.8" y2="749.8" stroke="#E97C50" stroke-width="3.2" stroke-linecap="round"/>
<text x="107.1" y="754.7" font-size="14.2" text-anchor="start" fill="#1a1a1a" >ZSO-BTAC</text>
<line x1="188.9" y1="749.8" x2="220.1" y2="749.8" stroke="#C8486B" stroke-width="3.2" stroke-linecap="round"/>
<text x="224.4" y="754.7" font-size="14.2" text-anchor="start" fill="#1a1a1a" >ZSO-OTAC</text>
<line x1="317.3" y1="749.8" x2="348.5" y2="749.8" stroke="#882085" stroke-width="3.2" stroke-linecap="round"/>
<text x="352.8" y="754.7" font-size="14.2" text-anchor="start" fill="#1a1a1a" >ZSO-DTAC</text>
<line x1="448" y1="749.8" x2="479.2" y2="749.8" stroke="#52288A" stroke-width="3.2" stroke-linecap="round"/>
<text x="483.5" y="754.7" font-size="14.2" text-anchor="start" fill="#1a1a1a" >ZSO-CTAC</text>
</g>
<g id="pe" font-family="Liberation Sans, sans-serif">
<defs>
<radialGradient id="gy" cx="0.38" cy="0.35" r="0.65"><stop offset="0" stop-color="#fff" stop-opacity="0.85"/><stop offset="0.28" stop-color="#F5AE27"/><stop offset="1" stop-color="#F5AE27"/></radialGradient>
<radialGradient id="go" cx="0.38" cy="0.35" r="0.65"><stop offset="0" stop-color="#fff" stop-opacity="0.85"/><stop offset="0.28" stop-color="#E97C50"/><stop offset="1" stop-color="#E97C50"/></radialGradient>
<radialGradient id="gk" cx="0.38" cy="0.35" r="0.65"><stop offset="0" stop-color="#fff" stop-opacity="0.85"/><stop offset="0.28" stop-color="#C8486B"/><stop offset="1" stop-color="#C8486B"/></radialGradient>
<radialGradient id="gp" cx="0.38" cy="0.35" r="0.65"><stop offset="0" stop-color="#fff" stop-opacity="0.85"/><stop offset="0.28" stop-color="#8F2590"/><stop offset="1" stop-color="#8F2590"/></radialGradient>
<radialGradient id="gi" cx="0.38" cy="0.35" r="0.65"><stop offset="0" stop-color="#fff" stop-opacity="0.85"/><stop offset="0.28" stop-color="#52268F"/><stop offset="1" stop-color="#52268F"/></radialGradient>
<clipPath id="cpe"><rect x="635.1" y="502.7" width="376.29999999999995" height="275.8"/></clipPath>
</defs>
<g clip-path="url(#cpe)">
<path d="M636.7 522.6 L637.3 520.5 L638.0 518.4 L638.6 516.8 L639.2 515.7 L639.8 514.7 L640.5 514.5 L641.1 513.1 L641.7 513.2 L642.3 513.7 L642.9 514.4 L643.6 512.8 L644.2 512.8 L644.8 513.6 L645.4 513.6 L646.1 514.3 L646.7 514.9 L647.3 513.9 L647.9 513.4 L648.5 514.7 L649.2 512.8 L649.8 514.3 L650.4 514.3 L651.0 514.8 L651.7 512.3 L652.3 513.0 L652.9 512.6 L653.5 513.3 L654.1 514.8 L654.8 514.1 L655.4 513.6 L656.0 514.6 L656.6 512.4 L657.3 513.9 L657.9 514.5 L658.5 512.8 L659.1 514.7 L659.7 555.9 L660.1 600.8 L660.4 514.1 L661.0 513.9 L661.6 514.7 L662.2 609.4 L662.4 514.7 L662.9 778.0" fill="none" stroke="#52268F" stroke-width="1.8" stroke-linejoin="round"/>
<g fill="url(#gi)">
<circle cx="636.7" cy="522.6" r="3.2"/>
<circle cx="637.3" cy="520.5" r="3.2"/>
<circle cx="638.0" cy="518.4" r="3.2"/>
<circle cx="638.6" cy="516.8" r="3.2"/>
<circle cx="639.2" cy="515.7" r="3.2"/>
<circle cx="639.8" cy="514.7" r="3.2"/>
<circle cx="640.5" cy="514.5" r="3.2"/>
<circle cx="641.1" cy="513.1" r="3.0"/>
<circle cx="641.7" cy="513.2" r="3.0"/>
<circle cx="642.3" cy="513.7" r="3.0"/>
<circle cx="642.9" cy="514.4" r="3.2"/>
<circle cx="643.6" cy="512.8" r="3.0"/>
<circle cx="644.2" cy="512.8" r="3.0"/>
<circle cx="644.8" cy="513.6" r="3.0"/>
<circle cx="645.4" cy="513.6" r="3.0"/>
<circle cx="646.1" cy="514.3" r="3.2"/>
<circle cx="646.7" cy="514.9" r="3.2"/>
<circle cx="647.3" cy="513.9" r="3.0"/>
<circle cx="647.9" cy="513.4" r="3.0"/>
<circle cx="648.5" cy="514.7" r="3.2"/>
<circle cx="649.2" cy="512.8" r="3.0"/>
<circle cx="649.8" cy="514.3" r="3.2"/>
<circle cx="650.4" cy="514.3" r="3.2"/>
<circle cx="651.0" cy="514.8" r="3.2"/>
<circle cx="651.7" cy="512.3" r="3.0"/>
<circle cx="652.3" cy="513.0" r="3.0"/>
<circle cx="652.9" cy="512.6" r="3.0"/>
<circle cx="653.5" cy="513.3" r="3.0"/>
<circle cx="654.1" cy="514.8" r="3.2"/>
<circle cx="654.8" cy="514.1" r="3.0"/>
<circle cx="655.4" cy="513.6" r="3.0"/>
<circle cx="656.0" cy="514.6" r="3.2"/>
<circle cx="656.6" cy="512.4" r="3.0"/>
<circle cx="657.3" cy="513.9" r="3.0"/>
<circle cx="657.9" cy="514.5" r="3.2"/>
<circle cx="658.5" cy="512.8" r="3.0"/>
<circle cx="659.1" cy="514.7" r="3.2"/>
<circle cx="659.7" cy="555.9" r="3.2"/>
<circle cx="660.1" cy="600.8" r="3.2"/>
<circle cx="660.4" cy="514.1" r="3.0"/>
<circle cx="661.0" cy="513.9" r="3.0"/>
<circle cx="661.6" cy="514.7" r="3.2"/>
<circle cx="662.2" cy="609.4" r="3.2"/>
<circle cx="662.4" cy="514.7" r="3.2"/>
<circle cx="662.9" cy="778.0" r="3.2"/>
</g>
<path d="M636.7 539.7 L637.3 526.6 L638.0 521.3 L638.6 519.4 L639.2 517.9 L639.8 517.3 L641.1 516.3 L642.3 521.6 L642.9 515.2 L643.6 539.7 L643.7 522.6 L644.2 518.4 L644.8 523.2 L645.4 516.3 L646.1 514.7 L646.7 513.4 L647.3 511.9 L647.9 512.8 L648.5 512.6 L649.2 513.0 L649.8 512.7 L650.4 513.2 L651.0 513.5 L651.7 512.0 L652.3 513.2 L652.9 512.1 L653.5 513.2 L654.1 511.8 L654.8 511.9 L655.4 512.2 L656.0 512.2 L656.6 512.5 L657.3 512.2 L657.9 513.4 L658.5 512.7 L659.1 512.1 L659.7 513.2 L660.4 511.9 L661.0 511.9 L661.6 512.8 L662.2 512.9 L662.9 512.8 L663.5 512.9 L664.1 511.7 L664.7 512.9 L665.3 513.5 L666.0 513.4 L666.6 512.3 L667.2 511.7 L667.8 512.7 L668.5 512.7 L669.1 512.6 L669.7 512.2 L670.3 513.2 L670.9 512.5 L671.6 512.6 L672.2 512.4 L672.8 513.3 L673.4 513.3 L674.1 512.9 L674.7 511.9 L675.3 513.0 L675.9 512.5 L676.5 513.0 L677.2 513.4 L677.8 513.5 L678.4 512.1 L679.0 512.1 L679.7 512.9 L680.3 512.3 L680.9 512.3 L681.5 511.9 L682.1 511.8 L682.8 512.8 L683.4 511.8 L684.0 511.8 L684.6 512.5 L685.3 512.0 L685.9 512.7 L686.5 512.9 L687.1 513.1 L687.7 512.0 L688.4 513.3 L689.0 513.5 L689.6 512.1 L690.2 512.2 L690.9 512.7 L691.5 512.0 L692.1 513.5 L692.7 513.1 L693.3 513.1 L694.0 512.8 L694.6 513.3 L695.2 513.5 L695.8 513.0 L696.5 511.9 L697.1 511.8 L697.7 512.2 L698.3 512.7 L698.9 513.1 L699.6 511.8 L700.2 512.6 L700.8 512.2 L701.4 513.5 L702.1 513.2 L702.7 512.0 L703.3 512.1 L703.9 512.0 L704.5 512.5 L705.2 512.8 L705.8 512.5 L706.4 512.0 L707.0 513.0 L707.7 512.6 L708.3 513.1 L708.9 512.2 L709.5 513.6 L710.1 512.3 L710.8 511.8 L711.4 513.6 L712.0 512.5 L712.6 512.4 L713.3 512.0 L713.9 512.5 L714.5 513.1 L715.1 512.8 L715.7 511.8 L716.4 511.9 L717.0 513.3 L717.6 513.4 L718.2 513.4 L718.9 513.5 L719.5 512.8 L720.1 513.3 L720.7 512.0 L721.3 512.4 L722.0 513.4 L722.6 512.6 L723.2 513.0 L723.8 512.7 L724.5 513.2 L725.1 513.3 L725.7 513.3 L726.3 512.9 L726.9 512.3 L727.6 512.6 L728.2 513.5 L728.8 512.3 L729.4 512.0 L730.1 512.2 L730.7 512.1 L731.3 513.6 L731.9 512.7 L732.5 513.5 L733.2 512.2 L733.8 513.3 L734.4 512.3 L735.0 513.1 L735.7 512.3 L736.3 513.0 L736.9 513.5 L737.5 512.9 L738.1 513.0 L738.8 511.9 L739.4 513.0 L740.0 512.7 L740.6 512.6 L741.3 511.8 L741.9 513.4 L742.5 512.5 L743.1 512.6 L743.7 512.2 L744.4 511.8 L745.0 513.0 L745.6 512.3 L746.2 512.6 L746.9 512.6 L747.5 513.5 L748.1 512.1 L748.7 511.8 L749.3 512.9 L750.0 513.0 L750.6 511.7 L751.2 513.4 L751.8 513.5 L752.5 513.5 L753.1 512.1 L753.7 512.2 L754.3 512.8 L754.9 512.4 L755.6 513.6 L756.2 512.4 L756.8 512.8 L757.4 512.6 L758.1 512.9 L758.7 512.8 L759.3 513.2 L759.9 513.5 L760.5 512.8 L761.2 513.1 L761.8 512.3 L762.4 512.1 L763.0 512.2 L763.7 512.7 L764.3 513.2 L764.9 512.9 L765.5 512.7 L766.1 512.4 L766.8 511.8 L767.4 513.4 L768.0 512.7 L768.6 512.7 L769.3 512.3 L769.9 511.9 L770.5 512.1 L771.1 512.4 L771.7 512.2 L772.4 512.4 L773.0 512.0 L773.6 512.3 L774.2 512.3 L774.9 513.1 L775.5 511.9 L776.1 512.9 L776.7 512.5 L777.3 512.1 L778.0 511.8 L778.6 511.8 L779.2 513.6 L779.8 513.0 L780.5 513.0 L781.1 512.9 L781.7 513.3 L782.3 512.6 L782.9 513.4 L783.6 513.0 L784.2 511.8 L784.8 512.2 L785.4 512.7 L786.1 513.4 L786.7 511.8 L787.3 512.3 L787.9 513.2 L788.5 513.0 L789.2 512.4 L789.8 512.3 L790.4 513.1 L791.0 511.8 L791.6 513.0 L792.3 513.1 L792.9 512.0 L793.5 513.3 L794.1 512.3 L794.8 513.2 L795.4 512.5 L796.0 513.1 L796.6 512.9 L797.2 511.8 L797.9 512.7 L798.5 512.8 L799.1 512.4 L799.7 513.1 L800.4 513.3 L801.0 512.9 L801.6 513.1 L802.2 513.2 L802.8 511.8 L803.5 513.5 L804.1 512.1 L804.7 511.9 L805.3 512.3 L806.0 513.6 L806.6 512.7 L807.2 513.5 L807.8 512.5 L808.4 512.3 L809.1 513.1 L809.7 513.6 L810.3 512.6 L810.9 513.4 L811.6 513.0 L812.2 512.8 L812.8 511.9 L813.4 512.9 L814.0 513.3 L814.7 512.1 L815.3 512.1 L815.9 512.6 L816.5 513.5 L817.2 513.2 L817.8 512.8 L818.4 512.6 L819.0 513.2 L819.6 512.1 L820.3 512.0 L820.9 511.9 L821.5 512.0 L822.1 513.6 L822.8 512.5 L823.4 513.4 L824.0 511.9 L824.6 512.2 L825.2 512.2 L825.9 513.2 L826.5 513.5 L827.1 512.1 L827.7 512.5 L828.4 512.4 L829.0 512.7 L829.6 512.1 L830.2 513.0 L830.8 513.1 L831.5 512.9 L832.1 513.0 L832.7 512.4 L833.3 511.9 L834.0 513.5 L834.6 513.5 L835.2 512.6 L835.8 512.3 L836.4 513.2 L837.1 513.1 L837.7 513.5 L838.3 513.5 L838.9 512.7 L839.6 512.3 L840.2 512.4 L840.8 513.3 L841.4 513.4 L842.0 511.9 L842.7 512.6 L843.3 512.8 L843.9 512.3 L844.5 512.2 L845.2 512.6 L845.8 513.5 L846.4 512.1 L847.0 513.2 L847.6 513.5 L848.3 512.9 L848.9 512.6 L849.5 512.4 L850.1 513.3 L850.8 512.3 L851.4 512.7 L852.0 513.3 L852.6 512.0 L853.2 512.1 L853.9 511.9 L854.5 512.3 L855.1 513.2 L855.7 512.1 L856.4 511.9 L857.0 512.6 L857.6 511.9 L858.2 511.8 L858.8 512.9 L859.5 511.8 L860.1 511.9 L860.7 512.1 L861.3 513.6 L862.0 512.9 L862.6 512.5 L863.2 512.5 L863.8 512.2 L864.4 512.4 L865.1 513.3 L865.7 511.9 L866.3 512.6 L866.9 512.0 L867.6 513.2 L868.2 511.7 L868.8 512.6 L869.4 512.2 L870.0 512.2 L870.7 512.0 L871.3 512.9 L871.9 513.4 L872.5 512.8 L873.2 513.3 L873.8 512.6 L874.4 512.1 L875.0 512.9 L875.6 513.4 L876.3 513.5 L876.9 512.8 L877.5 512.5 L878.1 513.5 L878.8 512.4 L879.4 513.2 L880.0 513.4 L880.6 511.9 L881.2 512.6 L881.9 511.9 L882.5 512.6 L883.1 513.4 L883.7 513.1 L884.4 512.8 L885.0 512.4 L885.6 512.2 L886.2 512.2 L886.8 512.4 L887.5 513.1 L888.1 512.8 L888.7 512.9 L889.3 512.7 L890.0 513.1 L890.6 512.6 L891.2 512.7 L891.8 513.5 L892.4 512.1 L893.1 512.5 L893.7 512.1 L894.3 512.2 L894.9 512.2 L895.6 511.7 L896.2 512.9 L896.8 512.9 L897.4 513.6 L898.0 512.4 L898.7 512.5 L899.3 512.5 L899.9 511.7 L900.5 513.2 L901.2 513.2 L901.8 512.2 L902.4 512.1 L903.0 512.7 L903.6 513.5 L904.3 512.9 L904.9 512.1 L905.5 512.7 L906.1 512.7 L906.8 512.9 L907.4 512.4 L908.0 512.5 L908.6 512.3 L909.2 512.0 L909.9 512.2 L910.5 512.9 L911.1 513.1 L911.7 512.1 L912.4 512.1 L913.0 511.9 L913.6 513.2 L914.2 512.0 L914.8 511.9 L915.5 513.5 L916.1 513.0 L916.7 512.4 L917.3 513.3 L918.0 512.0 L918.6 513.1 L919.2 512.3 L919.8 513.0 L920.4 513.2 L921.1 513.2 L921.7 512.7 L922.3 512.3 L922.9 513.2 L923.6 512.3 L924.2 513.0 L924.8 512.4 L925.4 512.9 L926.0 513.2 L926.7 513.3 L927.3 513.5 L927.9 512.3 L928.5 512.8 L929.2 512.0 L929.8 513.6 L930.4 512.5 L931.0 512.7 L931.6 512.9 L932.3 512.4 L932.9 513.0 L933.5 512.4 L934.1 512.6 L934.8 510.6 L935.4 519.2 L936.0 512.5 L936.6 513.4 L937.2 513.3 L937.9 513.0 L938.5 515.8 L939.1 513.3 L939.7 512.0 L940.4 513.4 L941.0 513.4 L941.6 512.2 L942.2 512.3 L942.8 513.4 L943.5 514.9 L944.1 512.5 L944.7 512.6 L945.3 513.6 L946.0 513.0 L946.6 512.9 L947.2 513.5 L947.8 511.9 L948.4 512.5 L949.1 507.4 L949.7 512.2 L950.3 512.6 L950.9 517.3 L951.6 512.4 L952.2 513.8 L952.8 513.4 L953.4 512.1 L954.0 513.3 L954.7 513.4 L955.3 512.8 L955.9 512.9 L956.5 512.8 L957.2 512.4 L957.8 512.6 L958.4 513.2 L959.0 513.0 L959.6 513.2 L960.3 512.8 L960.9 513.5 L961.5 512.0 L962.1 512.4 L962.8 512.4 L963.4 512.2 L964.0 512.9 L964.6 512.5 L965.2 512.3 L965.9 513.0 L966.5 512.0 L967.1 512.3 L967.7 512.3 L968.4 512.0 L969.0 511.7 L969.6 512.9 L970.2 513.3 L970.8 512.4 L971.5 513.1 L972.1 512.5 L972.7 512.1 L973.3 511.9 L974.0 511.8 L974.6 512.3 L975.2 511.8 L975.8 512.8 L976.4 513.0 L977.1 512.9 L977.7 513.7 L978.3 510.7 L978.9 513.4 L979.6 513.0 L980.2 512.3 L980.8 512.9 L981.4 513.4 L982.0 512.3 L982.7 511.8 L983.3 512.4 L983.9 512.3 L984.5 513.3 L985.2 511.9 L985.8 512.4 L986.4 513.1 L987.0 513.6 L987.6 513.3 L988.3 510.2 L988.9 513.3 L989.5 512.6 L990.1 512.0 L990.8 513.3 L991.4 513.4 L992.0 513.0 L992.6 513.2 L993.2 512.1 L993.9 512.2 L994.5 513.1 L995.1 513.0 L995.7 512.0 L996.4 513.4 L997.0 516.5 L997.6 512.3 L998.2 513.2 L998.8 511.8 L999.5 509.7 L1000.1 512.7 L1000.7 513.3 L1001.3 513.4 L1002.0 513.7 L1002.6 513.3 L1003.2 508.1 L1003.8 511.8 L1004.4 512.5 L1005.1 512.5 L1005.7 512.8 L1006.3 513.2 L1006.9 512.2 L1007.6 513.5 L1008.2 513.3 L1008.8 513.0 L1009.4 512.9" fill="none" stroke="#8F2590" stroke-width="1.8" stroke-linejoin="round"/>
<g fill="url(#gp)">
<circle cx="636.7" cy="539.7" r="3.2"/>
<circle cx="637.3" cy="526.6" r="3.2"/>
<circle cx="638.0" cy="521.3" r="3.2"/>
<circle cx="638.6" cy="519.4" r="3.2"/>
<circle cx="639.2" cy="517.9" r="3.2"/>
<circle cx="639.8" cy="517.3" r="3.2"/>
<circle cx="641.1" cy="516.3" r="3.2"/>
<circle cx="642.3" cy="521.6" r="3.2"/>
<circle cx="642.9" cy="515.2" r="3.2"/>
<circle cx="643.6" cy="539.7" r="3.2"/>
<circle cx="643.7" cy="522.6" r="3.2"/>
<circle cx="644.2" cy="518.4" r="3.2"/>
<circle cx="644.8" cy="523.2" r="3.2"/>
<circle cx="645.4" cy="516.3" r="3.2"/>
<circle cx="646.1" cy="514.7" r="3.2"/>
<circle cx="646.7" cy="513.4" r="2.8"/>
<circle cx="647.3" cy="511.9" r="2.8"/>
<circle cx="647.9" cy="512.8" r="2.8"/>
<circle cx="648.5" cy="512.6" r="2.8"/>
<circle cx="649.2" cy="513.0" r="2.8"/>
<circle cx="649.8" cy="512.7" r="2.8"/>
<circle cx="650.4" cy="513.2" r="2.8"/>
<circle cx="651.0" cy="513.5" r="2.8"/>
<circle cx="651.7" cy="512.0" r="2.8"/>
<circle cx="652.3" cy="513.2" r="2.8"/>
<circle cx="652.9" cy="512.1" r="2.8"/>
<circle cx="653.5" cy="513.2" r="2.8"/>
<circle cx="654.1" cy="511.8" r="2.8"/>
<circle cx="654.8" cy="511.9" r="2.8"/>
<circle cx="655.4" cy="512.2" r="2.8"/>
<circle cx="656.0" cy="512.2" r="2.8"/>
<circle cx="656.6" cy="512.5" r="2.8"/>
<circle cx="657.3" cy="512.2" r="2.8"/>
<circle cx="657.9" cy="513.4" r="2.8"/>
<circle cx="658.5" cy="512.7" r="2.8"/>
<circle cx="659.1" cy="512.1" r="2.8"/>
<circle cx="659.7" cy="513.2" r="2.8"/>
<circle cx="660.4" cy="511.9" r="2.8"/>
<circle cx="661.0" cy="511.9" r="2.8"/>
<circle cx="661.6" cy="512.8" r="2.8"/>
<circle cx="662.2" cy="512.9" r="2.8"/>
<circle cx="662.9" cy="512.8" r="2.8"/>
<circle cx="663.5" cy="512.9" r="2.8"/>
<circle cx="664.1" cy="511.7" r="2.8"/>
<circle cx="664.7" cy="512.9" r="2.8"/>
<circle cx="665.3" cy="513.5" r="2.8"/>
<circle cx="666.0" cy="513.4" r="2.8"/>
<circle cx="666.6" cy="512.3" r="2.8"/>
<circle cx="667.2" cy="511.7" r="2.8"/>
<circle cx="667.8" cy="512.7" r="2.8"/>
<circle cx="668.5" cy="512.7" r="2.8"/>
<circle cx="669.1" cy="512.6" r="2.8"/>
<circle cx="669.7" cy="512.2" r="2.8"/>
<circle cx="670.3" cy="513.2" r="2.8"/>
<circle cx="670.9" cy="512.5" r="2.8"/>
<circle cx="671.6" cy="512.6" r="2.8"/>
<circle cx="672.2" cy="512.4" r="2.8"/>
<circle cx="672.8" cy="513.3" r="2.8"/>
<circle cx="673.4" cy="513.3" r="2.8"/>
<circle cx="674.1" cy="512.9" r="2.8"/>
<circle cx="674.7" cy="511.9" r="2.8"/>
<circle cx="675.3" cy="513.0" r="2.8"/>
<circle cx="675.9" cy="512.5" r="2.8"/>
<circle cx="676.5" cy="513.0" r="2.8"/>
<circle cx="677.2" cy="513.4" r="2.8"/>
<circle cx="677.8" cy="513.5" r="2.8"/>
<circle cx="678.4" cy="512.1" r="2.8"/>
<circle cx="679.0" cy="512.1" r="2.8"/>
<circle cx="679.7" cy="512.9" r="2.8"/>
<circle cx="680.3" cy="512.3" r="2.8"/>
<circle cx="680.9" cy="512.3" r="2.8"/>
<circle cx="681.5" cy="511.9" r="2.8"/>
<circle cx="682.1" cy="511.8" r="2.8"/>
<circle cx="682.8" cy="512.8" r="2.8"/>
<circle cx="683.4" cy="511.8" r="2.8"/>
<circle cx="684.0" cy="511.8" r="2.8"/>
<circle cx="684.6" cy="512.5" r="2.8"/>
<circle cx="685.3" cy="512.0" r="2.8"/>
<circle cx="685.9" cy="512.7" r="2.8"/>
<circle cx="686.5" cy="512.9" r="2.8"/>
<circle cx="687.1" cy="513.1" r="2.8"/>
<circle cx="687.7" cy="512.0" r="2.8"/>
<circle cx="688.4" cy="513.3" r="2.8"/>
<circle cx="689.0" cy="513.5" r="2.8"/>
<circle cx="689.6" cy="512.1" r="2.8"/>
<circle cx="690.2" cy="512.2" r="2.8"/>
<circle cx="690.9" cy="512.7" r="2.8"/>
<circle cx="691.5" cy="512.0" r="2.8"/>
<circle cx="692.1" cy="513.5" r="2.8"/>
<circle cx="692.7" cy="513.1" r="2.8"/>
<circle cx="693.3" cy="513.1" r="2.8"/>
<circle cx="694.0" cy="512.8" r="2.8"/>
<circle cx="694.6" cy="513.3" r="2.8"/>
<circle cx="695.2" cy="513.5" r="2.8"/>
<circle cx="695.8" cy="513.0" r="2.8"/>
<circle cx="696.5" cy="511.9" r="2.8"/>
<circle cx="697.1" cy="511.8" r="2.8"/>
<circle cx="697.7" cy="512.2" r="2.8"/>
<circle cx="698.3" cy="512.7" r="2.8"/>
<circle cx="698.9" cy="513.1" r="2.8"/>
<circle cx="699.6" cy="511.8" r="2.8"/>
<circle cx="700.2" cy="512.6" r="2.8"/>
<circle cx="700.8" cy="512.2" r="2.8"/>
<circle cx="701.4" cy="513.5" r="2.8"/>
<circle cx="702.1" cy="513.2" r="2.8"/>
<circle cx="702.7" cy="512.0" r="2.8"/>
<circle cx="703.3" cy="512.1" r="2.8"/>
<circle cx="703.9" cy="512.0" r="2.8"/>
<circle cx="704.5" cy="512.5" r="2.8"/>
<circle cx="705.2" cy="512.8" r="2.8"/>
<circle cx="705.8" cy="512.5" r="2.8"/>
<circle cx="706.4" cy="512.0" r="2.8"/>
<circle cx="707.0" cy="513.0" r="2.8"/>
<circle cx="707.7" cy="512.6" r="2.8"/>
<circle cx="708.3" cy="513.1" r="2.8"/>
<circle cx="708.9" cy="512.2" r="2.8"/>
<circle cx="709.5" cy="513.6" r="2.8"/>
<circle cx="710.1" cy="512.3" r="2.8"/>
<circle cx="710.8" cy="511.8" r="2.8"/>
<circle cx="711.4" cy="513.6" r="2.8"/>
<circle cx="712.0" cy="512.5" r="2.8"/>
<circle cx="712.6" cy="512.4" r="2.8"/>
<circle cx="713.3" cy="512.0" r="2.8"/>
<circle cx="713.9" cy="512.5" r="2.8"/>
<circle cx="714.5" cy="513.1" r="2.8"/>
<circle cx="715.1" cy="512.8" r="2.8"/>
<circle cx="715.7" cy="511.8" r="2.8"/>
<circle cx="716.4" cy="511.9" r="2.8"/>
<circle cx="717.0" cy="513.3" r="2.8"/>
<circle cx="717.6" cy="513.4" r="2.8"/>
<circle cx="718.2" cy="513.4" r="2.8"/>
<circle cx="718.9" cy="513.5" r="2.8"/>
<circle cx="719.5" cy="512.8" r="2.8"/>
<circle cx="720.1" cy="513.3" r="2.8"/>
<circle cx="720.7" cy="512.0" r="2.8"/>
<circle cx="721.3" cy="512.4" r="2.8"/>
<circle cx="722.0" cy="513.4" r="2.8"/>
<circle cx="722.6" cy="512.6" r="2.8"/>
<circle cx="723.2" cy="513.0" r="2.8"/>
<circle cx="723.8" cy="512.7" r="2.8"/>
<circle cx="724.5" cy="513.2" r="2.8"/>
<circle cx="725.1" cy="513.3" r="2.8"/>
<circle cx="725.7" cy="513.3" r="2.8"/>
<circle cx="726.3" cy="512.9" r="2.8"/>
<circle cx="726.9" cy="512.3" r="2.8"/>
<circle cx="727.6" cy="512.6" r="2.8"/>
<circle cx="728.2" cy="513.5" r="2.8"/>
<circle cx="728.8" cy="512.3" r="2.8"/>
<circle cx="729.4" cy="512.0" r="2.8"/>
<circle cx="730.1" cy="512.2" r="2.8"/>
<circle cx="730.7" cy="512.1" r="2.8"/>
<circle cx="731.3" cy="513.6" r="2.8"/>
<circle cx="731.9" cy="512.7" r="2.8"/>
<circle cx="732.5" cy="513.5" r="2.8"/>
<circle cx="733.2" cy="512.2" r="2.8"/>
<circle cx="733.8" cy="513.3" r="2.8"/>
<circle cx="734.4" cy="512.3" r="2.8"/>
<circle cx="735.0" cy="513.1" r="2.8"/>
<circle cx="735.7" cy="512.3" r="2.8"/>
<circle cx="736.3" cy="513.0" r="2.8"/>
<circle cx="736.9" cy="513.5" r="2.8"/>
<circle cx="737.5" cy="512.9" r="2.8"/>
<circle cx="738.1" cy="513.0" r="2.8"/>
<circle cx="738.8" cy="511.9" r="2.8"/>
<circle cx="739.4" cy="513.0" r="2.8"/>
<circle cx="740.0" cy="512.7" r="2.8"/>
<circle cx="740.6" cy="512.6" r="2.8"/>
<circle cx="741.3" cy="511.8" r="2.8"/>
<circle cx="741.9" cy="513.4" r="2.8"/>
<circle cx="742.5" cy="512.5" r="2.8"/>
<circle cx="743.1" cy="512.6" r="2.8"/>
<circle cx="743.7" cy="512.2" r="2.8"/>
<circle cx="744.4" cy="511.8" r="2.8"/>
<circle cx="745.0" cy="513.0" r="2.8"/>
<circle cx="745.6" cy="512.3" r="2.8"/>
<circle cx="746.2" cy="512.6" r="2.8"/>
<circle cx="746.9" cy="512.6" r="2.8"/>
<circle cx="747.5" cy="513.5" r="2.8"/>
<circle cx="748.1" cy="512.1" r="2.8"/>
<circle cx="748.7" cy="511.8" r="2.8"/>
<circle cx="749.3" cy="512.9" r="2.8"/>
<circle cx="750.0" cy="513.0" r="2.8"/>
<circle cx="750.6" cy="511.7" r="2.8"/>
<circle cx="751.2" cy="513.4" r="2.8"/>
<circle cx="751.8" cy="513.5" r="2.8"/>
<circle cx="752.5" cy="513.5" r="2.8"/>
<circle cx="753.1" cy="512.1" r="2.8"/>
<circle cx="753.7" cy="512.2" r="2.8"/>
<circle cx="754.3" cy="512.8" r="2.8"/>
<circle cx="754.9" cy="512.4" r="2.8"/>
<circle cx="755.6" cy="513.6" r="2.8"/>
<circle cx="756.2" cy="512.4" r="2.8"/>
<circle cx="756.8" cy="512.8" r="2.8"/>
<circle cx="757.4" cy="512.6" r="2.8"/>
<circle cx="758.1" cy="512.9" r="2.8"/>
<circle cx="758.7" cy="512.8" r="2.8"/>
<circle cx="759.3" cy="513.2" r="2.8"/>
<circle cx="759.9" cy="513.5" r="2.8"/>
<circle cx="760.5" cy="512.8" r="2.8"/>
<circle cx="761.2" cy="513.1" r="2.8"/>
<circle cx="761.8" cy="512.3" r="2.8"/>
<circle cx="762.4" cy="512.1" r="2.8"/>
<circle cx="763.0" cy="512.2" r="2.8"/>
<circle cx="763.7" cy="512.7" r="2.8"/>
<circle cx="764.3" cy="513.2" r="2.8"/>
<circle cx="764.9" cy="512.9" r="2.8"/>
<circle cx="765.5" cy="512.7" r="2.8"/>
<circle cx="766.1" cy="512.4" r="2.8"/>
<circle cx="766.8" cy="511.8" r="2.8"/>
<circle cx="767.4" cy="513.4" r="2.8"/>
<circle cx="768.0" cy="512.7" r="2.8"/>
<circle cx="768.6" cy="512.7" r="2.8"/>
<circle cx="769.3" cy="512.3" r="2.8"/>
<circle cx="769.9" cy="511.9" r="2.8"/>
<circle cx="770.5" cy="512.1" r="2.8"/>
<circle cx="771.1" cy="512.4" r="2.8"/>
<circle cx="771.7" cy="512.2" r="2.8"/>
<circle cx="772.4" cy="512.4" r="2.8"/>
<circle cx="773.0" cy="512.0" r="2.8"/>
<circle cx="773.6" cy="512.3" r="2.8"/>
<circle cx="774.2" cy="512.3" r="2.8"/>
<circle cx="774.9" cy="513.1" r="2.8"/>
<circle cx="775.5" cy="511.9" r="2.8"/>
<circle cx="776.1" cy="512.9" r="2.8"/>
<circle cx="776.7" cy="512.5" r="2.8"/>
<circle cx="777.3" cy="512.1" r="2.8"/>
<circle cx="778.0" cy="511.8" r="2.8"/>
<circle cx="778.6" cy="511.8" r="2.8"/>
<circle cx="779.2" cy="513.6" r="2.8"/>
<circle cx="779.8" cy="513.0" r="2.8"/>
<circle cx="780.5" cy="513.0" r="2.8"/>
<circle cx="781.1" cy="512.9" r="2.8"/>
<circle cx="781.7" cy="513.3" r="2.8"/>
<circle cx="782.3" cy="512.6" r="2.8"/>
<circle cx="782.9" cy="513.4" r="2.8"/>
<circle cx="783.6" cy="513.0" r="2.8"/>
<circle cx="784.2" cy="511.8" r="2.8"/>
<circle cx="784.8" cy="512.2" r="2.8"/>
<circle cx="785.4" cy="512.7" r="2.8"/>
<circle cx="786.1" cy="513.4" r="2.8"/>
<circle cx="786.7" cy="511.8" r="2.8"/>
<circle cx="787.3" cy="512.3" r="2.8"/>
<circle cx="787.9" cy="513.2" r="2.8"/>
<circle cx="788.5" cy="513.0" r="2.8"/>
<circle cx="789.2" cy="512.4" r="2.8"/>
<circle cx="789.8" cy="512.3" r="2.8"/>
<circle cx="790.4" cy="513.1" r="2.8"/>
<circle cx="791.0" cy="511.8" r="2.8"/>
<circle cx="791.6" cy="513.0" r="2.8"/>
<circle cx="792.3" cy="513.1" r="2.8"/>
<circle cx="792.9" cy="512.0" r="2.8"/>
<circle cx="793.5" cy="513.3" r="2.8"/>
<circle cx="794.1" cy="512.3" r="2.8"/>
<circle cx="794.8" cy="513.2" r="2.8"/>
<circle cx="795.4" cy="512.5" r="2.8"/>
<circle cx="796.0" cy="513.1" r="2.8"/>
<circle cx="796.6" cy="512.9" r="2.8"/>
<circle cx="797.2" cy="511.8" r="2.8"/>
<circle cx="797.9" cy="512.7" r="2.8"/>
<circle cx="798.5" cy="512.8" r="2.8"/>
<circle cx="799.1" cy="512.4" r="2.8"/>
<circle cx="799.7" cy="513.1" r="2.8"/>
<circle cx="800.4" cy="513.3" r="2.8"/>
<circle cx="801.0" cy="512.9" r="2.8"/>
<circle cx="801.6" cy="513.1" r="2.8"/>
<circle cx="802.2" cy="513.2" r="2.8"/>
<circle cx="802.8" cy="511.8" r="2.8"/>
<circle cx="803.5" cy="513.5" r="2.8"/>
<circle cx="804.1" cy="512.1" r="2.8"/>
<circle cx="804.7" cy="511.9" r="2.8"/>
<circle cx="805.3" cy="512.3" r="2.8"/>
<circle cx="806.0" cy="513.6" r="2.8"/>
<circle cx="806.6" cy="512.7" r="2.8"/>
<circle cx="807.2" cy="513.5" r="2.8"/>
<circle cx="807.8" cy="512.5" r="2.8"/>
<circle cx="808.4" cy="512.3" r="2.8"/>
<circle cx="809.1" cy="513.1" r="2.8"/>
<circle cx="809.7" cy="513.6" r="2.8"/>
<circle cx="810.3" cy="512.6" r="2.8"/>
<circle cx="810.9" cy="513.4" r="2.8"/>
<circle cx="811.6" cy="513.0" r="2.8"/>
<circle cx="812.2" cy="512.8" r="2.8"/>
<circle cx="812.8" cy="511.9" r="2.8"/>
<circle cx="813.4" cy="512.9" r="2.8"/>
<circle cx="814.0" cy="513.3" r="2.8"/>
<circle cx="814.7" cy="512.1" r="2.8"/>
<circle cx="815.3" cy="512.1" r="2.8"/>
<circle cx="815.9" cy="512.6" r="2.8"/>
<circle cx="816.5" cy="513.5" r="2.8"/>
<circle cx="817.2" cy="513.2" r="2.8"/>
<circle cx="817.8" cy="512.8" r="2.8"/>
<circle cx="818.4" cy="512.6" r="2.8"/>
<circle cx="819.0" cy="513.2" r="2.8"/>
<circle cx="819.6" cy="512.1" r="2.8"/>
<circle cx="820.3" cy="512.0" r="2.8"/>
<circle cx="820.9" cy="511.9" r="2.8"/>
<circle cx="821.5" cy="512.0" r="2.8"/>
<circle cx="822.1" cy="513.6" r="2.8"/>
<circle cx="822.8" cy="512.5" r="2.8"/>
<circle cx="823.4" cy="513.4" r="2.8"/>
<circle cx="824.0" cy="511.9" r="2.8"/>
<circle cx="824.6" cy="512.2" r="2.8"/>
<circle cx="825.2" cy="512.2" r="2.8"/>
<circle cx="825.9" cy="513.2" r="2.8"/>
<circle cx="826.5" cy="513.5" r="2.8"/>
<circle cx="827.1" cy="512.1" r="2.8"/>
<circle cx="827.7" cy="512.5" r="2.8"/>
<circle cx="828.4" cy="512.4" r="2.8"/>
<circle cx="829.0" cy="512.7" r="2.8"/>
<circle cx="829.6" cy="512.1" r="2.8"/>
<circle cx="830.2" cy="513.0" r="2.8"/>
<circle cx="830.8" cy="513.1" r="2.8"/>
<circle cx="831.5" cy="512.9" r="2.8"/>
<circle cx="832.1" cy="513.0" r="2.8"/>
<circle cx="832.7" cy="512.4" r="2.8"/>
<circle cx="833.3" cy="511.9" r="2.8"/>
<circle cx="834.0" cy="513.5" r="2.8"/>
<circle cx="834.6" cy="513.5" r="2.8"/>
<circle cx="835.2" cy="512.6" r="2.8"/>
<circle cx="835.8" cy="512.3" r="2.8"/>
<circle cx="836.4" cy="513.2" r="2.8"/>
<circle cx="837.1" cy="513.1" r="2.8"/>
<circle cx="837.7" cy="513.5" r="2.8"/>
<circle cx="838.3" cy="513.5" r="2.8"/>
<circle cx="838.9" cy="512.7" r="2.8"/>
<circle cx="839.6" cy="512.3" r="2.8"/>
<circle cx="840.2" cy="512.4" r="2.8"/>
<circle cx="840.8" cy="513.3" r="2.8"/>
<circle cx="841.4" cy="513.4" r="2.8"/>
<circle cx="842.0" cy="511.9" r="2.8"/>
<circle cx="842.7" cy="512.6" r="2.8"/>
<circle cx="843.3" cy="512.8" r="2.8"/>
<circle cx="843.9" cy="512.3" r="2.8"/>
<circle cx="844.5" cy="512.2" r="2.8"/>
<circle cx="845.2" cy="512.6" r="2.8"/>
<circle cx="845.8" cy="513.5" r="2.8"/>
<circle cx="846.4" cy="512.1" r="2.8"/>
<circle cx="847.0" cy="513.2" r="2.8"/>
<circle cx="847.6" cy="513.5" r="2.8"/>
<circle cx="848.3" cy="512.9" r="2.8"/>
<circle cx="848.9" cy="512.6" r="2.8"/>
<circle cx="849.5" cy="512.4" r="2.8"/>
<circle cx="850.1" cy="513.3" r="2.8"/>
<circle cx="850.8" cy="512.3" r="2.8"/>
<circle cx="851.4" cy="512.7" r="2.8"/>
<circle cx="852.0" cy="513.3" r="2.8"/>
<circle cx="852.6" cy="512.0" r="2.8"/>
<circle cx="853.2" cy="512.1" r="2.8"/>
<circle cx="853.9" cy="511.9" r="2.8"/>
<circle cx="854.5" cy="512.3" r="2.8"/>
<circle cx="855.1" cy="513.2" r="2.8"/>
<circle cx="855.7" cy="512.1" r="2.8"/>
<circle cx="856.4" cy="511.9" r="2.8"/>
<circle cx="857.0" cy="512.6" r="2.8"/>
<circle cx="857.6" cy="511.9" r="2.8"/>
<circle cx="858.2" cy="511.8" r="2.8"/>
<circle cx="858.8" cy="512.9" r="2.8"/>
<circle cx="859.5" cy="511.8" r="2.8"/>
<circle cx="860.1" cy="511.9" r="2.8"/>
<circle cx="860.7" cy="512.1" r="2.8"/>
<circle cx="861.3" cy="513.6" r="2.8"/>
<circle cx="862.0" cy="512.9" r="2.8"/>
<circle cx="862.6" cy="512.5" r="2.8"/>
<circle cx="863.2" cy="512.5" r="2.8"/>
<circle cx="863.8" cy="512.2" r="2.8"/>
<circle cx="864.4" cy="512.4" r="2.8"/>
<circle cx="865.1" cy="513.3" r="2.8"/>
<circle cx="865.7" cy="511.9" r="2.8"/>
<circle cx="866.3" cy="512.6" r="2.8"/>
<circle cx="866.9" cy="512.0" r="2.8"/>
<circle cx="867.6" cy="513.2" r="2.8"/>
<circle cx="868.2" cy="511.7" r="2.8"/>
<circle cx="868.8" cy="512.6" r="2.8"/>
<circle cx="869.4" cy="512.2" r="2.8"/>
<circle cx="870.0" cy="512.2" r="2.8"/>
<circle cx="870.7" cy="512.0" r="2.8"/>
<circle cx="871.3" cy="512.9" r="2.8"/>
<circle cx="871.9" cy="513.4" r="2.8"/>
<circle cx="872.5" cy="512.8" r="2.8"/>
<circle cx="873.2" cy="513.3" r="2.8"/>
<circle cx="873.8" cy="512.6" r="2.8"/>
<circle cx="874.4" cy="512.1" r="2.8"/>
<circle cx="875.0" cy="512.9" r="2.8"/>
<circle cx="875.6" cy="513.4" r="2.8"/>
<circle cx="876.3" cy="513.5" r="2.8"/>
<circle cx="876.9" cy="512.8" r="2.8"/>
<circle cx="877.5" cy="512.5" r="2.8"/>
<circle cx="878.1" cy="513.5" r="2.8"/>
<circle cx="878.8" cy="512.4" r="2.8"/>
<circle cx="879.4" cy="513.2" r="2.8"/>
<circle cx="880.0" cy="513.4" r="2.8"/>
<circle cx="880.6" cy="511.9" r="2.8"/>
<circle cx="881.2" cy="512.6" r="2.8"/>
<circle cx="881.9" cy="511.9" r="2.8"/>
<circle cx="882.5" cy="512.6" r="2.8"/>
<circle cx="883.1" cy="513.4" r="2.8"/>
<circle cx="883.7" cy="513.1" r="2.8"/>
<circle cx="884.4" cy="512.8" r="2.8"/>
<circle cx="885.0" cy="512.4" r="2.8"/>
<circle cx="885.6" cy="512.2" r="2.8"/>
<circle cx="886.2" cy="512.2" r="2.8"/>
<circle cx="886.8" cy="512.4" r="2.8"/>
<circle cx="887.5" cy="513.1" r="2.8"/>
<circle cx="888.1" cy="512.8" r="2.8"/>
<circle cx="888.7" cy="512.9" r="2.8"/>
<circle cx="889.3" cy="512.7" r="2.8"/>
<circle cx="890.0" cy="513.1" r="2.8"/>
<circle cx="890.6" cy="512.6" r="2.8"/>
<circle cx="891.2" cy="512.7" r="2.8"/>
<circle cx="891.8" cy="513.5" r="2.8"/>
<circle cx="892.4" cy="512.1" r="2.8"/>
<circle cx="893.1" cy="512.5" r="2.8"/>
<circle cx="893.7" cy="512.1" r="2.8"/>
<circle cx="894.3" cy="512.2" r="2.8"/>
<circle cx="894.9" cy="512.2" r="2.8"/>
<circle cx="895.6" cy="511.7" r="2.8"/>
<circle cx="896.2" cy="512.9" r="2.8"/>
<circle cx="896.8" cy="512.9" r="2.8"/>
<circle cx="897.4" cy="513.6" r="2.8"/>
<circle cx="898.0" cy="512.4" r="2.8"/>
<circle cx="898.7" cy="512.5" r="2.8"/>
<circle cx="899.3" cy="512.5" r="2.8"/>
<circle cx="899.9" cy="511.7" r="2.8"/>
<circle cx="900.5" cy="513.2" r="2.8"/>
<circle cx="901.2" cy="513.2" r="2.8"/>
<circle cx="901.8" cy="512.2" r="2.8"/>
<circle cx="902.4" cy="512.1" r="2.8"/>
<circle cx="903.0" cy="512.7" r="2.8"/>
<circle cx="903.6" cy="513.5" r="2.8"/>
<circle cx="904.3" cy="512.9" r="2.8"/>
<circle cx="904.9" cy="512.1" r="2.8"/>
<circle cx="905.5" cy="512.7" r="2.8"/>
<circle cx="906.1" cy="512.7" r="2.8"/>
<circle cx="906.8" cy="512.9" r="2.8"/>
<circle cx="907.4" cy="512.4" r="2.8"/>
<circle cx="908.0" cy="512.5" r="2.8"/>
<circle cx="908.6" cy="512.3" r="2.8"/>
<circle cx="909.2" cy="512.0" r="2.8"/>
<circle cx="909.9" cy="512.2" r="2.8"/>
<circle cx="910.5" cy="512.9" r="2.8"/>
<circle cx="911.1" cy="513.1" r="2.8"/>
<circle cx="911.7" cy="512.1" r="2.8"/>
<circle cx="912.4" cy="512.1" r="2.8"/>
<circle cx="913.0" cy="511.9" r="2.8"/>
<circle cx="913.6" cy="513.2" r="2.8"/>
<circle cx="914.2" cy="512.0" r="2.8"/>
<circle cx="914.8" cy="511.9" r="2.8"/>
<circle cx="915.5" cy="513.5" r="2.8"/>
<circle cx="916.1" cy="513.0" r="2.8"/>
<circle cx="916.7" cy="512.4" r="2.8"/>
<circle cx="917.3" cy="513.3" r="2.8"/>
<circle cx="918.0" cy="512.0" r="2.8"/>
<circle cx="918.6" cy="513.1" r="2.8"/>
<circle cx="919.2" cy="512.3" r="2.8"/>
<circle cx="919.8" cy="513.0" r="2.8"/>
<circle cx="920.4" cy="513.2" r="2.8"/>
<circle cx="921.1" cy="513.2" r="2.8"/>
<circle cx="921.7" cy="512.7" r="2.8"/>
<circle cx="922.3" cy="512.3" r="2.8"/>
<circle cx="922.9" cy="513.2" r="2.8"/>
<circle cx="923.6" cy="512.3" r="2.8"/>
<circle cx="924.2" cy="513.0" r="2.8"/>
<circle cx="924.8" cy="512.4" r="2.8"/>
<circle cx="925.4" cy="512.9" r="2.8"/>
<circle cx="926.0" cy="513.2" r="2.8"/>
<circle cx="926.7" cy="513.3" r="2.8"/>
<circle cx="927.3" cy="513.5" r="2.8"/>
<circle cx="927.9" cy="512.3" r="2.8"/>
<circle cx="928.5" cy="512.8" r="2.8"/>
<circle cx="929.2" cy="512.0" r="2.8"/>
<circle cx="929.8" cy="513.6" r="2.8"/>
<circle cx="930.4" cy="512.5" r="2.8"/>
<circle cx="931.0" cy="512.7" r="2.8"/>
<circle cx="931.6" cy="512.9" r="2.8"/>
<circle cx="932.3" cy="512.4" r="2.8"/>
<circle cx="932.9" cy="513.0" r="2.8"/>
<circle cx="933.5" cy="512.4" r="2.8"/>
<circle cx="934.1" cy="512.6" r="2.8"/>
<circle cx="934.8" cy="510.6" r="2.8"/>
<circle cx="935.4" cy="519.2" r="3.2"/>
<circle cx="936.0" cy="512.5" r="2.8"/>
<circle cx="936.6" cy="513.4" r="2.8"/>
<circle cx="937.2" cy="513.3" r="2.8"/>
<circle cx="937.9" cy="513.0" r="2.8"/>
<circle cx="938.5" cy="515.8" r="3.2"/>
<circle cx="939.1" cy="513.3" r="2.8"/>
<circle cx="939.7" cy="512.0" r="2.8"/>
<circle cx="940.4" cy="513.4" r="2.8"/>
<circle cx="941.0" cy="513.4" r="2.8"/>
<circle cx="941.6" cy="512.2" r="2.8"/>
<circle cx="942.2" cy="512.3" r="2.8"/>
<circle cx="942.8" cy="513.4" r="2.8"/>
<circle cx="943.5" cy="514.9" r="3.2"/>
<circle cx="944.1" cy="512.5" r="2.8"/>
<circle cx="944.7" cy="512.6" r="2.8"/>
<circle cx="945.3" cy="513.6" r="2.8"/>
<circle cx="946.0" cy="513.0" r="2.8"/>
<circle cx="946.6" cy="512.9" r="2.8"/>
<circle cx="947.2" cy="513.5" r="2.8"/>
<circle cx="947.8" cy="511.9" r="2.8"/>
<circle cx="948.4" cy="512.5" r="2.8"/>
<circle cx="949.1" cy="507.4" r="3.2"/>
<circle cx="949.7" cy="512.2" r="2.8"/>
<circle cx="950.3" cy="512.6" r="2.8"/>
<circle cx="950.9" cy="517.3" r="3.2"/>
<circle cx="951.6" cy="512.4" r="2.8"/>
<circle cx="952.2" cy="513.8" r="2.8"/>
<circle cx="952.8" cy="513.4" r="2.8"/>
<circle cx="953.4" cy="512.1" r="2.8"/>
<circle cx="954.0" cy="513.3" r="2.8"/>
<circle cx="954.7" cy="513.4" r="2.8"/>
<circle cx="955.3" cy="512.8" r="2.8"/>
<circle cx="955.9" cy="512.9" r="2.8"/>
<circle cx="956.5" cy="512.8" r="2.8"/>
<circle cx="957.2" cy="512.4" r="2.8"/>
<circle cx="957.8" cy="512.6" r="2.8"/>
<circle cx="958.4" cy="513.2" r="2.8"/>
<circle cx="959.0" cy="513.0" r="2.8"/>
<circle cx="959.6" cy="513.2" r="2.8"/>
<circle cx="960.3" cy="512.8" r="2.8"/>
<circle cx="960.9" cy="513.5" r="2.8"/>
<circle cx="961.5" cy="512.0" r="2.8"/>
<circle cx="962.1" cy="512.4" r="2.8"/>
<circle cx="962.8" cy="512.4" r="2.8"/>
<circle cx="963.4" cy="512.2" r="2.8"/>
<circle cx="964.0" cy="512.9" r="2.8"/>
<circle cx="964.6" cy="512.5" r="2.8"/>
<circle cx="965.2" cy="512.3" r="2.8"/>
<circle cx="965.9" cy="513.0" r="2.8"/>
<circle cx="966.5" cy="512.0" r="2.8"/>
<circle cx="967.1" cy="512.3" r="2.8"/>
<circle cx="967.7" cy="512.3" r="2.8"/>
<circle cx="968.4" cy="512.0" r="2.8"/>
<circle cx="969.0" cy="511.7" r="2.8"/>
<circle cx="969.6" cy="512.9" r="2.8"/>
<circle cx="970.2" cy="513.3" r="2.8"/>
<circle cx="970.8" cy="512.4" r="2.8"/>
<circle cx="971.5" cy="513.1" r="2.8"/>
<circle cx="972.1" cy="512.5" r="2.8"/>
<circle cx="972.7" cy="512.1" r="2.8"/>
<circle cx="973.3" cy="511.9" r="2.8"/>
<circle cx="974.0" cy="511.8" r="2.8"/>
<circle cx="974.6" cy="512.3" r="2.8"/>
<circle cx="975.2" cy="511.8" r="2.8"/>
<circle cx="975.8" cy="512.8" r="2.8"/>
<circle cx="976.4" cy="513.0" r="2.8"/>
<circle cx="977.1" cy="512.9" r="2.8"/>
<circle cx="977.7" cy="513.7" r="2.8"/>
<circle cx="978.3" cy="510.7" r="2.8"/>
<circle cx="978.9" cy="513.4" r="2.8"/>
<circle cx="979.6" cy="513.0" r="2.8"/>
<circle cx="980.2" cy="512.3" r="2.8"/>
<circle cx="980.8" cy="512.9" r="2.8"/>
<circle cx="981.4" cy="513.4" r="2.8"/>
<circle cx="982.0" cy="512.3" r="2.8"/>
<circle cx="982.7" cy="511.8" r="2.8"/>
<circle cx="983.3" cy="512.4" r="2.8"/>
<circle cx="983.9" cy="512.3" r="2.8"/>
<circle cx="984.5" cy="513.3" r="2.8"/>
<circle cx="985.2" cy="511.9" r="2.8"/>
<circle cx="985.8" cy="512.4" r="2.8"/>
<circle cx="986.4" cy="513.1" r="2.8"/>
<circle cx="987.0" cy="513.6" r="2.8"/>
<circle cx="987.6" cy="513.3" r="2.8"/>
<circle cx="988.3" cy="510.2" r="2.8"/>
<circle cx="988.9" cy="513.3" r="2.8"/>
<circle cx="989.5" cy="512.6" r="2.8"/>
<circle cx="990.1" cy="512.0" r="2.8"/>
<circle cx="990.8" cy="513.3" r="2.8"/>
<circle cx="991.4" cy="513.4" r="2.8"/>
<circle cx="992.0" cy="513.0" r="2.8"/>
<circle cx="992.6" cy="513.2" r="2.8"/>
<circle cx="993.2" cy="512.1" r="2.8"/>
<circle cx="993.9" cy="512.2" r="2.8"/>
<circle cx="994.5" cy="513.1" r="2.8"/>
<circle cx="995.1" cy="513.0" r="2.8"/>
<circle cx="995.7" cy="512.0" r="2.8"/>
<circle cx="996.4" cy="513.4" r="2.8"/>
<circle cx="997.0" cy="516.5" r="3.2"/>
<circle cx="997.6" cy="512.3" r="2.8"/>
<circle cx="998.2" cy="513.2" r="2.8"/>
<circle cx="998.8" cy="511.8" r="2.8"/>
<circle cx="999.5" cy="509.7" r="3.2"/>
<circle cx="1000.1" cy="512.7" r="2.8"/>
<circle cx="1000.7" cy="513.3" r="2.8"/>
<circle cx="1001.3" cy="513.4" r="2.8"/>
<circle cx="1002.0" cy="513.7" r="2.8"/>
<circle cx="1002.6" cy="513.3" r="2.8"/>
<circle cx="1003.2" cy="508.1" r="3.2"/>
<circle cx="1003.8" cy="511.8" r="2.8"/>
<circle cx="1004.4" cy="512.5" r="2.8"/>
<circle cx="1005.1" cy="512.5" r="2.8"/>
<circle cx="1005.7" cy="512.8" r="2.8"/>
<circle cx="1006.3" cy="513.2" r="2.8"/>
<circle cx="1006.9" cy="512.2" r="2.8"/>
<circle cx="1007.6" cy="513.5" r="2.8"/>
<circle cx="1008.2" cy="513.3" r="2.8"/>
<circle cx="1008.8" cy="513.0" r="2.8"/>
<circle cx="1009.4" cy="512.9" r="2.8"/>
</g>
<path d="M636.7 514.3 L637.3 512.9 L638.0 514.5 L638.6 519.5 L639.2 514.0 L639.8 513.9 L640.5 523.4 L641.1 513.7 L641.7 511.9 L642.3 517.5 L642.9 513.1 L643.6 512.1 L644.2 512.4 L644.8 521.4 L645.4 512.6 L646.1 512.2 L646.7 518.5 L647.3 512.2 L647.9 512.6 L648.5 511.6 L649.2 513.8 L649.8 518.5 L650.4 511.4 L651.0 512.9 L651.7 511.7 L652.3 514.3 L652.9 512.3 L653.5 513.8 L654.1 512.2 L654.8 513.3 L655.4 521.4 L656.0 513.8 L656.6 513.8 L657.3 511.8 L657.9 512.5 L658.5 512.6 L659.1 522.4 L659.7 513.7 L660.4 511.4 L661.0 514.0 L661.6 512.9 L662.2 512.3 L662.9 513.0 L663.5 519.5 L664.1 511.4 L664.7 512.1 L665.3 513.9 L666.0 522.4 L666.6 513.3 L667.2 512.4 L667.8 512.4 L668.5 513.8 L669.1 519.5 L669.7 513.2 L670.3 514.6 L670.9 513.7 L671.6 513.4 L672.2 517.5 L672.8 512.4 L673.4 511.4 L674.1 511.6 L674.7 512.6 L675.3 511.8 L675.9 513.0 L676.5 512.7 L677.2 519.9 L677.8 514.5 L678.4 513.5 L679.0 513.4 L679.7 513.5 L680.3 513.2 L680.9 521.0 L681.5 512.4 L682.1 511.5 L682.8 513.9 L683.4 514.0 L684.0 513.5 L684.6 512.0 L685.3 513.9 L685.9 512.1 L686.5 507.8 L687.1 512.7 L687.7 512.3 L688.4 512.4 L689.0 514.4 L689.6 506.8 L690.2 511.8 L690.9 513.1 L691.5 511.8 L692.1 512.7 L692.7 507.8 L693.3 513.3 L694.0 511.9 L694.6 508.7 L695.2 514.5 L695.8 514.1 L696.5 514.0 L697.1 512.7 L697.7 512.5 L698.3 521.0 L698.9 513.3 L699.6 511.5 L700.2 513.5 L700.8 512.4 L701.4 518.5 L702.1 513.0 L702.7 514.1 L703.3 514.3 L703.9 513.5 L704.5 514.3 L705.2 527.3 L705.8 512.5 L706.4 512.8 L707.0 521.0 L707.7 513.1 L708.3 514.4 L708.9 512.2 L709.5 513.3 L710.1 522.4 L710.8 511.4 L711.4 512.9 L712.0 513.8 L712.6 513.5 L713.3 513.0 L713.9 507.8 L714.5 514.3 L715.1 513.3 L715.7 512.5 L716.4 511.9 L717.0 516.6 L717.6 511.7 L718.2 512.0 L718.9 513.3 L719.5 512.5 L720.1 514.5 L720.7 512.0 L721.3 512.3 L722.0 513.8 L722.6 513.1 L723.2 513.8 L723.8 512.0 L724.5 513.2 L725.1 512.1 L725.7 511.6 L726.3 512.1 L726.9 513.4 L727.6 506.8 L728.2 511.5 L728.8 511.7 L729.4 514.0 L730.1 513.5 L730.7 512.0 L731.3 505.8 L731.9 513.7 L732.5 513.2 L733.2 511.5 L733.8 514.4 L734.4 513.7 L735.0 512.5 L735.7 521.4 L736.3 507.8 L736.9 513.1 L737.5 512.0 L738.1 524.4 L738.8 513.6 L739.4 513.9 L740.0 513.8 L740.6 512.1 L741.3 506.8 L741.9 512.8 L742.5 511.6 L743.1 527.3 L743.7 512.6 L744.4 512.9 L745.0 507.8 L745.6 513.0 L746.2 513.0 L746.9 511.7 L747.5 506.8 L748.1 514.2 L748.7 512.0 L749.3 528.3 L750.0 511.4 L750.6 511.5 L751.2 523.4 L751.8 513.3 L752.5 513.9 L753.1 527.3 L753.7 514.0 L754.3 514.1 L754.9 522.4 L755.6 514.5 L756.2 512.7 L756.8 518.5 L757.4 512.2 L758.1 512.8 L758.7 511.6 L759.3 513.7 L759.9 514.4 L760.5 512.7 L761.2 513.8 L761.8 511.4 L762.4 511.6 L763.0 512.4 L763.7 511.9 L764.3 513.8 L764.9 516.6 L765.5 513.4 L766.1 513.5 L766.8 513.4 L767.4 513.1 L768.0 512.5 L768.6 514.6 L769.3 512.9 L769.9 514.2 L770.5 511.4 L771.1 512.8 L771.7 512.7 L772.4 513.6 L773.0 512.3 L773.6 524.4 L774.2 507.8 L774.9 512.7 L775.5 518.5 L776.1 512.6 L776.7 514.5 L777.3 506.8 L778.0 513.6 L778.6 517.5 L779.2 514.2 L779.8 512.7 L780.5 507.8 L781.1 514.5 L781.7 513.8 L782.3 511.8 L782.9 513.4 L783.6 512.9 L784.2 512.0 L784.8 511.4 L785.4 513.8 L786.1 512.4 L786.7 512.1 L787.3 512.0 L787.9 513.5 L788.5 513.1 L789.2 512.1 L789.8 513.8 L790.4 513.0 L791.0 512.6 L791.6 511.8 L792.3 513.8 L792.9 512.4 L793.5 513.9 L794.1 514.1 L794.8 513.1 L795.4 512.5 L796.0 512.5 L796.6 511.5 L797.2 514.1 L797.9 508.7 L798.5 513.1 L799.1 513.8 L799.7 511.6 L800.4 514.2 L801.0 506.8 L801.6 515.6 L802.2 512.5 L802.8 512.5 L803.5 513.9 L804.1 508.7 L804.7 516.6 L805.3 514.0 L806.0 509.7 L806.6 511.8 L807.2 513.6 L807.8 517.5 L808.4 514.2 L809.1 513.5 L809.7 513.3 L810.3 511.5 L810.9 516.6 L811.6 513.4 L812.2 514.0 L812.8 511.9 L813.4 514.6 L814.0 511.8 L814.7 513.5 L815.3 512.8 L815.9 511.7 L816.5 513.8 L817.2 512.9 L817.8 512.5 L818.4 512.3 L818.8 778.0" fill="none" stroke="#C8486B" stroke-width="1.9" stroke-linejoin="round"/>
<g fill="url(#gk)">
<circle cx="636.7" cy="514.3" r="3.2"/>
<circle cx="637.3" cy="512.9" r="3.1"/>
<circle cx="638.0" cy="514.5" r="3.2"/>
<circle cx="638.6" cy="519.5" r="3.2"/>
<circle cx="639.2" cy="514.0" r="3.1"/>
<circle cx="639.8" cy="513.9" r="3.1"/>
<circle cx="640.5" cy="523.4" r="3.2"/>
<circle cx="641.1" cy="513.7" r="3.1"/>
<circle cx="641.7" cy="511.9" r="3.1"/>
<circle cx="642.3" cy="517.5" r="3.2"/>
<circle cx="642.9" cy="513.1" r="3.1"/>
<circle cx="643.6" cy="512.1" r="3.1"/>
<circle cx="644.2" cy="512.4" r="3.1"/>
<circle cx="644.8" cy="521.4" r="3.2"/>
<circle cx="645.4" cy="512.6" r="3.1"/>
<circle cx="646.1" cy="512.2" r="3.1"/>
<circle cx="646.7" cy="518.5" r="3.2"/>
<circle cx="647.3" cy="512.2" r="3.1"/>
<circle cx="647.9" cy="512.6" r="3.1"/>
<circle cx="648.5" cy="511.6" r="3.1"/>
<circle cx="649.2" cy="513.8" r="3.1"/>
<circle cx="649.8" cy="518.5" r="3.2"/>
<circle cx="650.4" cy="511.4" r="3.1"/>
<circle cx="651.0" cy="512.9" r="3.1"/>
<circle cx="651.7" cy="511.7" r="3.1"/>
<circle cx="652.3" cy="514.3" r="3.2"/>
<circle cx="652.9" cy="512.3" r="3.1"/>
<circle cx="653.5" cy="513.8" r="3.1"/>
<circle cx="654.1" cy="512.2" r="3.1"/>
<circle cx="654.8" cy="513.3" r="3.1"/>
<circle cx="655.4" cy="521.4" r="3.2"/>
<circle cx="656.0" cy="513.8" r="3.1"/>
<circle cx="656.6" cy="513.8" r="3.1"/>
<circle cx="657.3" cy="511.8" r="3.1"/>
<circle cx="657.9" cy="512.5" r="3.1"/>
<circle cx="658.5" cy="512.6" r="3.1"/>
<circle cx="659.1" cy="522.4" r="3.2"/>
<circle cx="659.7" cy="513.7" r="3.1"/>
<circle cx="660.4" cy="511.4" r="3.1"/>
<circle cx="661.0" cy="514.0" r="3.1"/>
<circle cx="661.6" cy="512.9" r="3.1"/>
<circle cx="662.2" cy="512.3" r="3.1"/>
<circle cx="662.9" cy="513.0" r="3.1"/>
<circle cx="663.5" cy="519.5" r="3.2"/>
<circle cx="664.1" cy="511.4" r="3.1"/>
<circle cx="664.7" cy="512.1" r="3.1"/>
<circle cx="665.3" cy="513.9" r="3.1"/>
<circle cx="666.0" cy="522.4" r="3.2"/>
<circle cx="666.6" cy="513.3" r="3.1"/>
<circle cx="667.2" cy="512.4" r="3.1"/>
<circle cx="667.8" cy="512.4" r="3.1"/>
<circle cx="668.5" cy="513.8" r="3.1"/>
<circle cx="669.1" cy="519.5" r="3.2"/>
<circle cx="669.7" cy="513.2" r="3.1"/>
<circle cx="670.3" cy="514.6" r="3.2"/>
<circle cx="670.9" cy="513.7" r="3.1"/>
<circle cx="671.6" cy="513.4" r="3.1"/>
<circle cx="672.2" cy="517.5" r="3.2"/>
<circle cx="672.8" cy="512.4" r="3.1"/>
<circle cx="673.4" cy="511.4" r="3.1"/>
<circle cx="674.1" cy="511.6" r="3.1"/>
<circle cx="674.7" cy="512.6" r="3.1"/>
<circle cx="675.3" cy="511.8" r="3.1"/>
<circle cx="675.9" cy="513.0" r="3.1"/>
<circle cx="676.5" cy="512.7" r="3.1"/>
<circle cx="677.2" cy="519.9" r="3.2"/>
<circle cx="677.8" cy="514.5" r="3.2"/>
<circle cx="678.4" cy="513.5" r="3.1"/>
<circle cx="679.0" cy="513.4" r="3.1"/>
<circle cx="679.7" cy="513.5" r="3.1"/>
<circle cx="680.3" cy="513.2" r="3.1"/>
<circle cx="680.9" cy="521.0" r="3.2"/>
<circle cx="681.5" cy="512.4" r="3.1"/>
<circle cx="682.1" cy="511.5" r="3.1"/>
<circle cx="682.8" cy="513.9" r="3.1"/>
<circle cx="683.4" cy="514.0" r="3.1"/>
<circle cx="684.0" cy="513.5" r="3.1"/>
<circle cx="684.6" cy="512.0" r="3.1"/>
<circle cx="685.3" cy="513.9" r="3.1"/>
<circle cx="685.9" cy="512.1" r="3.1"/>
<circle cx="686.5" cy="507.8" r="3.2"/>
<circle cx="687.1" cy="512.7" r="3.1"/>
<circle cx="687.7" cy="512.3" r="3.1"/>
<circle cx="688.4" cy="512.4" r="3.1"/>
<circle cx="689.0" cy="514.4" r="3.2"/>
<circle cx="689.6" cy="506.8" r="3.2"/>
<circle cx="690.2" cy="511.8" r="3.1"/>
<circle cx="690.9" cy="513.1" r="3.1"/>
<circle cx="691.5" cy="511.8" r="3.1"/>
<circle cx="692.1" cy="512.7" r="3.1"/>
<circle cx="692.7" cy="507.8" r="3.2"/>
<circle cx="693.3" cy="513.3" r="3.1"/>
<circle cx="694.0" cy="511.9" r="3.1"/>
<circle cx="694.6" cy="508.7" r="3.2"/>
<circle cx="695.2" cy="514.5" r="3.2"/>
<circle cx="695.8" cy="514.1" r="3.1"/>
<circle cx="696.5" cy="514.0" r="3.1"/>
<circle cx="697.1" cy="512.7" r="3.1"/>
<circle cx="697.7" cy="512.5" r="3.1"/>
<circle cx="698.3" cy="521.0" r="3.2"/>
<circle cx="698.9" cy="513.3" r="3.1"/>
<circle cx="699.6" cy="511.5" r="3.1"/>
<circle cx="700.2" cy="513.5" r="3.1"/>
<circle cx="700.8" cy="512.4" r="3.1"/>
<circle cx="701.4" cy="518.5" r="3.2"/>
<circle cx="702.1" cy="513.0" r="3.1"/>
<circle cx="702.7" cy="514.1" r="3.1"/>
<circle cx="703.3" cy="514.3" r="3.2"/>
<circle cx="703.9" cy="513.5" r="3.1"/>
<circle cx="704.5" cy="514.3" r="3.2"/>
<circle cx="705.2" cy="527.3" r="3.2"/>
<circle cx="705.8" cy="512.5" r="3.1"/>
<circle cx="706.4" cy="512.8" r="3.1"/>
<circle cx="707.0" cy="521.0" r="3.2"/>
<circle cx="707.7" cy="513.1" r="3.1"/>
<circle cx="708.3" cy="514.4" r="3.2"/>
<circle cx="708.9" cy="512.2" r="3.1"/>
<circle cx="709.5" cy="513.3" r="3.1"/>
<circle cx="710.1" cy="522.4" r="3.2"/>
<circle cx="710.8" cy="511.4" r="3.1"/>
<circle cx="711.4" cy="512.9" r="3.1"/>
<circle cx="712.0" cy="513.8" r="3.1"/>
<circle cx="712.6" cy="513.5" r="3.1"/>
<circle cx="713.3" cy="513.0" r="3.1"/>
<circle cx="713.9" cy="507.8" r="3.2"/>
<circle cx="714.5" cy="514.3" r="3.2"/>
<circle cx="715.1" cy="513.3" r="3.1"/>
<circle cx="715.7" cy="512.5" r="3.1"/>
<circle cx="716.4" cy="511.9" r="3.1"/>
<circle cx="717.0" cy="516.6" r="3.2"/>
<circle cx="717.6" cy="511.7" r="3.1"/>
<circle cx="718.2" cy="512.0" r="3.1"/>
<circle cx="718.9" cy="513.3" r="3.1"/>
<circle cx="719.5" cy="512.5" r="3.1"/>
<circle cx="720.1" cy="514.5" r="3.2"/>
<circle cx="720.7" cy="512.0" r="3.1"/>
<circle cx="721.3" cy="512.3" r="3.1"/>
<circle cx="722.0" cy="513.8" r="3.1"/>
<circle cx="722.6" cy="513.1" r="3.1"/>
<circle cx="723.2" cy="513.8" r="3.1"/>
<circle cx="723.8" cy="512.0" r="3.1"/>
<circle cx="724.5" cy="513.2" r="3.1"/>
<circle cx="725.1" cy="512.1" r="3.1"/>
<circle cx="725.7" cy="511.6" r="3.1"/>
<circle cx="726.3" cy="512.1" r="3.1"/>
<circle cx="726.9" cy="513.4" r="3.1"/>
<circle cx="727.6" cy="506.8" r="3.2"/>
<circle cx="728.2" cy="511.5" r="3.1"/>
<circle cx="728.8" cy="511.7" r="3.1"/>
<circle cx="729.4" cy="514.0" r="3.1"/>
<circle cx="730.1" cy="513.5" r="3.1"/>
<circle cx="730.7" cy="512.0" r="3.1"/>
<circle cx="731.3" cy="505.8" r="3.2"/>
<circle cx="731.9" cy="513.7" r="3.1"/>
<circle cx="732.5" cy="513.2" r="3.1"/>
<circle cx="733.2" cy="511.5" r="3.1"/>
<circle cx="733.8" cy="514.4" r="3.2"/>
<circle cx="734.4" cy="513.7" r="3.1"/>
<circle cx="735.0" cy="512.5" r="3.1"/>
<circle cx="735.7" cy="521.4" r="3.2"/>
<circle cx="736.3" cy="507.8" r="3.2"/>
<circle cx="736.9" cy="513.1" r="3.1"/>
<circle cx="737.5" cy="512.0" r="3.1"/>
<circle cx="738.1" cy="524.4" r="3.2"/>
<circle cx="738.8" cy="513.6" r="3.1"/>
<circle cx="739.4" cy="513.9" r="3.1"/>
<circle cx="740.0" cy="513.8" r="3.1"/>
<circle cx="740.6" cy="512.1" r="3.1"/>
<circle cx="741.3" cy="506.8" r="3.2"/>
<circle cx="741.9" cy="512.8" r="3.1"/>
<circle cx="742.5" cy="511.6" r="3.1"/>
<circle cx="743.1" cy="527.3" r="3.2"/>
<circle cx="743.7" cy="512.6" r="3.1"/>
<circle cx="744.4" cy="512.9" r="3.1"/>
<circle cx="745.0" cy="507.8" r="3.2"/>
<circle cx="745.6" cy="513.0" r="3.1"/>
<circle cx="746.2" cy="513.0" r="3.1"/>
<circle cx="746.9" cy="511.7" r="3.1"/>
<circle cx="747.5" cy="506.8" r="3.2"/>
<circle cx="748.1" cy="514.2" r="3.2"/>
<circle cx="748.7" cy="512.0" r="3.1"/>
<circle cx="749.3" cy="528.3" r="3.2"/>
<circle cx="750.0" cy="511.4" r="3.1"/>
<circle cx="750.6" cy="511.5" r="3.1"/>
<circle cx="751.2" cy="523.4" r="3.2"/>
<circle cx="751.8" cy="513.3" r="3.1"/>
<circle cx="752.5" cy="513.9" r="3.1"/>
<circle cx="753.1" cy="527.3" r="3.2"/>
<circle cx="753.7" cy="514.0" r="3.1"/>
<circle cx="754.3" cy="514.1" r="3.1"/>
<circle cx="754.9" cy="522.4" r="3.2"/>
<circle cx="755.6" cy="514.5" r="3.2"/>
<circle cx="756.2" cy="512.7" r="3.1"/>
<circle cx="756.8" cy="518.5" r="3.2"/>
<circle cx="757.4" cy="512.2" r="3.1"/>
<circle cx="758.1" cy="512.8" r="3.1"/>
<circle cx="758.7" cy="511.6" r="3.1"/>
<circle cx="759.3" cy="513.7" r="3.1"/>
<circle cx="759.9" cy="514.4" r="3.2"/>
<circle cx="760.5" cy="512.7" r="3.1"/>
<circle cx="761.2" cy="513.8" r="3.1"/>
<circle cx="761.8" cy="511.4" r="3.1"/>
<circle cx="762.4" cy="511.6" r="3.1"/>
<circle cx="763.0" cy="512.4" r="3.1"/>
<circle cx="763.7" cy="511.9" r="3.1"/>
<circle cx="764.3" cy="513.8" r="3.1"/>
<circle cx="764.9" cy="516.6" r="3.2"/>
<circle cx="765.5" cy="513.4" r="3.1"/>
<circle cx="766.1" cy="513.5" r="3.1"/>
<circle cx="766.8" cy="513.4" r="3.1"/>
<circle cx="767.4" cy="513.1" r="3.1"/>
<circle cx="768.0" cy="512.5" r="3.1"/>
<circle cx="768.6" cy="514.6" r="3.2"/>
<circle cx="769.3" cy="512.9" r="3.1"/>
<circle cx="769.9" cy="514.2" r="3.2"/>
<circle cx="770.5" cy="511.4" r="3.1"/>
<circle cx="771.1" cy="512.8" r="3.1"/>
<circle cx="771.7" cy="512.7" r="3.1"/>
<circle cx="772.4" cy="513.6" r="3.1"/>
<circle cx="773.0" cy="512.3" r="3.1"/>
<circle cx="773.6" cy="524.4" r="3.2"/>
<circle cx="774.2" cy="507.8" r="3.2"/>
<circle cx="774.9" cy="512.7" r="3.1"/>
<circle cx="775.5" cy="518.5" r="3.2"/>
<circle cx="776.1" cy="512.6" r="3.1"/>
<circle cx="776.7" cy="514.5" r="3.2"/>
<circle cx="777.3" cy="506.8" r="3.2"/>
<circle cx="778.0" cy="513.6" r="3.1"/>
<circle cx="778.6" cy="517.5" r="3.2"/>
<circle cx="779.2" cy="514.2" r="3.2"/>
<circle cx="779.8" cy="512.7" r="3.1"/>
<circle cx="780.5" cy="507.8" r="3.2"/>
<circle cx="781.1" cy="514.5" r="3.2"/>
<circle cx="781.7" cy="513.8" r="3.1"/>
<circle cx="782.3" cy="511.8" r="3.1"/>
<circle cx="782.9" cy="513.4" r="3.1"/>
<circle cx="783.6" cy="512.9" r="3.1"/>
<circle cx="784.2" cy="512.0" r="3.1"/>
<circle cx="784.8" cy="511.4" r="3.1"/>
<circle cx="785.4" cy="513.8" r="3.1"/>
<circle cx="786.1" cy="512.4" r="3.1"/>
<circle cx="786.7" cy="512.1" r="3.1"/>
<circle cx="787.3" cy="512.0" r="3.1"/>
<circle cx="787.9" cy="513.5" r="3.1"/>
<circle cx="788.5" cy="513.1" r="3.1"/>
<circle cx="789.2" cy="512.1" r="3.1"/>
<circle cx="789.8" cy="513.8" r="3.1"/>
<circle cx="790.4" cy="513.0" r="3.1"/>
<circle cx="791.0" cy="512.6" r="3.1"/>
<circle cx="791.6" cy="511.8" r="3.1"/>
<circle cx="792.3" cy="513.8" r="3.1"/>
<circle cx="792.9" cy="512.4" r="3.1"/>
<circle cx="793.5" cy="513.9" r="3.1"/>
<circle cx="794.1" cy="514.1" r="3.2"/>
<circle cx="794.8" cy="513.1" r="3.1"/>
<circle cx="795.4" cy="512.5" r="3.1"/>
<circle cx="796.0" cy="512.5" r="3.1"/>
<circle cx="796.6" cy="511.5" r="3.1"/>
<circle cx="797.2" cy="514.1" r="3.1"/>
<circle cx="797.9" cy="508.7" r="3.2"/>
<circle cx="798.5" cy="513.1" r="3.1"/>
<circle cx="799.1" cy="513.8" r="3.1"/>
<circle cx="799.7" cy="511.6" r="3.1"/>
<circle cx="800.4" cy="514.2" r="3.2"/>
<circle cx="801.0" cy="506.8" r="3.2"/>
<circle cx="801.6" cy="515.6" r="3.2"/>
<circle cx="802.2" cy="512.5" r="3.1"/>
<circle cx="802.8" cy="512.5" r="3.1"/>
<circle cx="803.5" cy="513.9" r="3.1"/>
<circle cx="804.1" cy="508.7" r="3.2"/>
<circle cx="804.7" cy="516.6" r="3.2"/>
<circle cx="805.3" cy="514.0" r="3.1"/>
<circle cx="806.0" cy="509.7" r="3.2"/>
<circle cx="806.6" cy="511.8" r="3.1"/>
<circle cx="807.2" cy="513.6" r="3.1"/>
<circle cx="807.8" cy="517.5" r="3.2"/>
<circle cx="808.4" cy="514.2" r="3.2"/>
<circle cx="809.1" cy="513.5" r="3.1"/>
<circle cx="809.7" cy="513.3" r="3.1"/>
<circle cx="810.3" cy="511.5" r="3.1"/>
<circle cx="810.9" cy="516.6" r="3.2"/>
<circle cx="811.6" cy="513.4" r="3.1"/>
<circle cx="812.2" cy="514.0" r="3.1"/>
<circle cx="812.8" cy="511.9" r="3.1"/>
<circle cx="813.4" cy="514.6" r="3.2"/>
<circle cx="814.0" cy="511.8" r="3.1"/>
<circle cx="814.7" cy="513.5" r="3.1"/>
<circle cx="815.3" cy="512.8" r="3.1"/>
<circle cx="815.9" cy="511.7" r="3.1"/>
<circle cx="816.5" cy="513.8" r="3.1"/>
<circle cx="817.2" cy="512.9" r="3.1"/>
<circle cx="817.8" cy="512.5" r="3.1"/>
<circle cx="818.4" cy="512.3" r="3.1"/>
<circle cx="818.8" cy="778.0" r="3.2"/>
</g>
<g fill="url(#gk)"><circle cx="759.9" cy="526.3" r="3.1"/><circle cx="760.5" cy="537.1" r="3.1"/></g>
<path d="M636.1 520.0 L636.7 514.7 L637.3 511.8 L638.0 512.2 L638.6 512.5 L639.2 512.7 L639.8 511.9 L640.5 511.9 L641.1 511.6 L641.7 512.5 L642.3 511.8 L642.9 512.1 L643.6 512.0 L644.2 511.6 L644.8 512.0 L645.4 512.1 L646.1 511.8 L646.7 512.5 L647.3 511.5 L647.9 512.0 L648.5 512.6 L649.2 512.0 L649.8 511.4 L650.4 511.4 L651.0 512.1 L651.7 512.3 L652.3 511.4 L652.9 512.3 L653.5 512.6 L654.1 512.3 L654.8 512.0 L655.4 511.8 L656.0 512.6 L656.6 512.2 L657.3 511.7 L657.9 512.2 L658.5 512.4 L659.1 511.7 L659.7 512.1 L660.4 511.7 L661.0 512.0 L661.6 512.3 L661.9 778.0" fill="none" stroke="#E97C50" stroke-width="2.2" stroke-linejoin="round"/>
<g fill="url(#go)">
<circle cx="636.1" cy="520.0" r="3.2"/>
<circle cx="636.7" cy="514.7" r="3.2"/>
<circle cx="637.3" cy="511.8" r="3.1"/>
<circle cx="638.0" cy="512.2" r="3.1"/>
<circle cx="638.6" cy="512.5" r="3.1"/>
<circle cx="639.2" cy="512.7" r="3.1"/>
<circle cx="639.8" cy="511.9" r="3.1"/>
<circle cx="640.5" cy="511.9" r="3.1"/>
<circle cx="641.1" cy="511.6" r="3.1"/>
<circle cx="641.7" cy="512.5" r="3.1"/>
<circle cx="642.3" cy="511.8" r="3.1"/>
<circle cx="642.9" cy="512.1" r="3.1"/>
<circle cx="643.6" cy="512.0" r="3.1"/>
<circle cx="644.2" cy="511.6" r="3.1"/>
<circle cx="644.8" cy="512.0" r="3.1"/>
<circle cx="645.4" cy="512.1" r="3.1"/>
<circle cx="646.1" cy="511.8" r="3.1"/>
<circle cx="646.7" cy="512.5" r="3.1"/>
<circle cx="647.3" cy="511.5" r="3.1"/>
<circle cx="647.9" cy="512.0" r="3.1"/>
<circle cx="648.5" cy="512.6" r="3.1"/>
<circle cx="649.2" cy="512.0" r="3.1"/>
<circle cx="649.8" cy="511.4" r="3.1"/>
<circle cx="650.4" cy="511.4" r="3.1"/>
<circle cx="651.0" cy="512.1" r="3.1"/>
<circle cx="651.7" cy="512.3" r="3.1"/>
<circle cx="652.3" cy="511.4" r="3.1"/>
<circle cx="652.9" cy="512.3" r="3.1"/>
<circle cx="653.5" cy="512.6" r="3.1"/>
<circle cx="654.1" cy="512.3" r="3.1"/>
<circle cx="654.8" cy="512.0" r="3.1"/>
<circle cx="655.4" cy="511.8" r="3.1"/>
<circle cx="656.0" cy="512.6" r="3.1"/>
<circle cx="656.6" cy="512.2" r="3.1"/>
<circle cx="657.3" cy="511.7" r="3.1"/>
<circle cx="657.9" cy="512.2" r="3.1"/>
<circle cx="658.5" cy="512.4" r="3.1"/>
<circle cx="659.1" cy="511.7" r="3.1"/>
<circle cx="659.7" cy="512.1" r="3.1"/>
<circle cx="660.4" cy="511.7" r="3.1"/>
<circle cx="661.0" cy="512.0" r="3.1"/>
<circle cx="661.6" cy="512.3" r="3.1"/>
<circle cx="661.9" cy="778.0" r="3.2"/>
</g>
<path d="M661.6 512.0 L662.2 512.3 L662.9 511.9 L663.5 512.0 L664.1 512.1 L664.7 512.3 L665.3 512.2 L666.0 512.4 L666.6 512.6 L667.2 512.0 L667.8 512.0 L668.5 512.1 L669.1 512.0 L669.7 512.2 L670.3 511.9 L670.9 512.3 L671.6 511.9 L672.2 512.6 L672.8 512.4 L673.4 512.2 L674.1 512.0 L674.7 512.2 L675.3 512.0 L675.9 512.4 L676.5 512.1 L677.2 512.0 L677.8 512.2 L678.4 512.6 L679.0 512.1 L679.7 512.7 L680.3 512.4 L680.9 512.6 L681.5 512.1 L682.1 512.5 L682.8 512.1 L683.4 512.6 L684.0 512.5 L684.6 512.1 L685.3 511.9 L685.9 512.6 L686.5 512.2 L687.1 512.3 L687.7 512.2 L688.4 512.6 L689.0 512.7 L689.6 512.6 L690.2 512.0 L690.9 512.3 L691.5 512.2 L692.1 512.6 L692.7 512.1 L693.3 511.9 L694.0 512.5 L694.6 512.0 L695.2 512.0 L695.8 511.9 L696.5 512.2 L697.1 512.2 L697.7 512.4 L698.3 512.0 L698.9 512.4 L699.6 512.2 L700.2 512.2 L700.8 511.9 L701.4 512.0 L702.1 512.6 L702.7 512.5 L703.3 512.4 L703.9 512.3 L704.5 512.1 L705.2 512.5 L705.8 512.2 L706.4 512.3 L707.0 512.4 L707.7 512.2 L708.3 512.3 L708.9 511.9 L709.5 512.6 L710.1 511.9 L710.8 512.2 L711.4 512.3 L712.0 512.6 L712.6 512.1 L713.3 512.0 L713.9 512.4 L714.5 512.1 L715.1 512.2 L715.7 512.6 L716.4 512.0 L717.0 512.4 L717.6 512.3 L718.2 512.1 L718.9 512.0 L719.5 512.0 L720.1 512.4 L720.7 512.0 L721.3 512.5 L722.0 512.2 L722.6 512.3 L723.2 512.0 L723.8 512.1 L724.5 512.1 L725.1 512.0 L725.7 512.4 L726.3 512.3 L726.9 512.6 L727.6 512.4 L728.2 512.5 L728.8 512.1 L729.4 512.6 L730.1 511.9 L730.7 512.2 L731.3 512.3 L731.9 512.6 L732.5 512.3 L733.2 512.2 L733.8 512.6 L734.4 511.9 L735.0 512.4 L735.7 512.3 L736.3 512.4 L736.9 512.4 L737.5 512.4 L738.1 512.0 L738.8 512.6 L739.4 512.4 L740.0 512.2 L740.6 512.3 L741.3 512.4 L741.9 512.3 L742.5 512.6 L743.1 512.4 L743.7 512.3 L744.4 512.1 L745.0 512.3 L745.6 512.3 L746.2 512.1 L746.9 512.4 L747.5 512.2 L748.1 512.5 L748.7 512.2 L749.3 512.2 L750.0 512.1 L750.6 512.0 L751.2 512.0 L751.8 511.9 L752.5 512.5 L753.1 511.9 L753.7 512.3 L754.3 512.4 L754.9 512.3 L755.6 511.9 L756.2 511.9 L756.8 512.0 L757.4 512.4 L758.1 512.6 L758.7 513.1 L759.0 528.0 L759.3 667.3 L759.5 692.9 L759.9 724.3 L760.2 754.6 L759.9 770.6" fill="none" stroke="#F5AE27" stroke-width="2.4" stroke-linejoin="round"/>
<g fill="url(#gy)">
<circle cx="661.6" cy="512.0" r="2.5"/>
<circle cx="662.2" cy="512.3" r="2.5"/>
<circle cx="662.9" cy="511.9" r="2.5"/>
<circle cx="663.5" cy="512.0" r="2.5"/>
<circle cx="664.1" cy="512.1" r="2.5"/>
<circle cx="664.7" cy="512.3" r="2.5"/>
<circle cx="665.3" cy="512.2" r="2.5"/>
<circle cx="666.0" cy="512.4" r="2.5"/>
<circle cx="666.6" cy="512.6" r="2.5"/>
<circle cx="667.2" cy="512.0" r="2.5"/>
<circle cx="667.8" cy="512.0" r="2.5"/>
<circle cx="668.5" cy="512.1" r="2.5"/>
<circle cx="669.1" cy="512.0" r="2.5"/>
<circle cx="669.7" cy="512.2" r="2.5"/>
<circle cx="670.3" cy="511.9" r="2.5"/>
<circle cx="670.9" cy="512.3" r="2.5"/>
<circle cx="671.6" cy="511.9" r="2.5"/>
<circle cx="672.2" cy="512.6" r="2.5"/>
<circle cx="672.8" cy="512.4" r="2.5"/>
<circle cx="673.4" cy="512.2" r="2.5"/>
<circle cx="674.1" cy="512.0" r="2.5"/>
<circle cx="674.7" cy="512.2" r="2.5"/>
<circle cx="675.3" cy="512.0" r="2.5"/>
<circle cx="675.9" cy="512.4" r="2.5"/>
<circle cx="676.5" cy="512.1" r="2.5"/>
<circle cx="677.2" cy="512.0" r="2.5"/>
<circle cx="677.8" cy="512.2" r="2.5"/>
<circle cx="678.4" cy="512.6" r="2.5"/>
<circle cx="679.0" cy="512.1" r="2.5"/>
<circle cx="679.7" cy="512.7" r="2.5"/>
<circle cx="680.3" cy="512.4" r="2.5"/>
<circle cx="680.9" cy="512.6" r="2.5"/>
<circle cx="681.5" cy="512.1" r="2.5"/>
<circle cx="682.1" cy="512.5" r="2.5"/>
<circle cx="682.8" cy="512.1" r="2.5"/>
<circle cx="683.4" cy="512.6" r="2.5"/>
<circle cx="684.0" cy="512.5" r="2.5"/>
<circle cx="684.6" cy="512.1" r="2.5"/>
<circle cx="685.3" cy="511.9" r="2.5"/>
<circle cx="685.9" cy="512.6" r="2.5"/>
<circle cx="686.5" cy="512.2" r="2.5"/>
<circle cx="687.1" cy="512.3" r="2.5"/>
<circle cx="687.7" cy="512.2" r="2.5"/>
<circle cx="688.4" cy="512.6" r="2.5"/>
<circle cx="689.0" cy="512.7" r="2.5"/>
<circle cx="689.6" cy="512.6" r="2.5"/>
<circle cx="690.2" cy="512.0" r="2.5"/>
<circle cx="690.9" cy="512.3" r="2.5"/>
<circle cx="691.5" cy="512.2" r="2.5"/>
<circle cx="692.1" cy="512.6" r="2.5"/>
<circle cx="692.7" cy="512.1" r="2.5"/>
<circle cx="693.3" cy="511.9" r="2.5"/>
<circle cx="694.0" cy="512.5" r="2.5"/>
<circle cx="694.6" cy="512.0" r="2.5"/>
<circle cx="695.2" cy="512.0" r="2.5"/>
<circle cx="695.8" cy="511.9" r="2.5"/>
<circle cx="696.5" cy="512.2" r="2.5"/>
<circle cx="697.1" cy="512.2" r="2.5"/>
<circle cx="697.7" cy="512.4" r="2.5"/>
<circle cx="698.3" cy="512.0" r="2.5"/>
<circle cx="698.9" cy="512.4" r="2.5"/>
<circle cx="699.6" cy="512.2" r="2.5"/>
<circle cx="700.2" cy="512.2" r="2.5"/>
<circle cx="700.8" cy="511.9" r="2.5"/>
<circle cx="701.4" cy="512.0" r="2.5"/>
<circle cx="702.1" cy="512.6" r="2.5"/>
<circle cx="702.7" cy="512.5" r="2.5"/>
<circle cx="703.3" cy="512.4" r="2.5"/>
<circle cx="703.9" cy="512.3" r="2.5"/>
<circle cx="704.5" cy="512.1" r="2.5"/>
<circle cx="705.2" cy="512.5" r="2.5"/>
<circle cx="705.8" cy="512.2" r="2.5"/>
<circle cx="706.4" cy="512.3" r="2.5"/>
<circle cx="707.0" cy="512.4" r="2.5"/>
<circle cx="707.7" cy="512.2" r="2.5"/>
<circle cx="708.3" cy="512.3" r="2.5"/>
<circle cx="708.9" cy="511.9" r="2.5"/>
<circle cx="709.5" cy="512.6" r="2.5"/>
<circle cx="710.1" cy="511.9" r="2.5"/>
<circle cx="710.8" cy="512.2" r="2.5"/>
<circle cx="711.4" cy="512.3" r="2.5"/>
<circle cx="712.0" cy="512.6" r="2.5"/>
<circle cx="712.6" cy="512.1" r="2.5"/>
<circle cx="713.3" cy="512.0" r="2.5"/>
<circle cx="713.9" cy="512.4" r="2.5"/>
<circle cx="714.5" cy="512.1" r="2.5"/>
<circle cx="715.1" cy="512.2" r="2.5"/>
<circle cx="715.7" cy="512.6" r="2.5"/>
<circle cx="716.4" cy="512.0" r="2.5"/>
<circle cx="717.0" cy="512.4" r="2.5"/>
<circle cx="717.6" cy="512.3" r="2.5"/>
<circle cx="718.2" cy="512.1" r="2.5"/>
<circle cx="718.9" cy="512.0" r="2.5"/>
<circle cx="719.5" cy="512.0" r="2.5"/>
<circle cx="720.1" cy="512.4" r="2.5"/>
<circle cx="720.7" cy="512.0" r="2.5"/>
<circle cx="721.3" cy="512.5" r="2.5"/>
<circle cx="722.0" cy="512.2" r="2.5"/>
<circle cx="722.6" cy="512.3" r="2.5"/>
<circle cx="723.2" cy="512.0" r="2.5"/>
<circle cx="723.8" cy="512.1" r="2.5"/>
<circle cx="724.5" cy="512.1" r="2.5"/>
<circle cx="725.1" cy="512.0" r="2.5"/>
<circle cx="725.7" cy="512.4" r="2.5"/>
<circle cx="726.3" cy="512.3" r="2.5"/>
<circle cx="726.9" cy="512.6" r="2.5"/>
<circle cx="727.6" cy="512.4" r="2.5"/>
<circle cx="728.2" cy="512.5" r="2.5"/>
<circle cx="728.8" cy="512.1" r="2.5"/>
<circle cx="729.4" cy="512.6" r="2.5"/>
<circle cx="730.1" cy="511.9" r="2.5"/>
<circle cx="730.7" cy="512.2" r="2.5"/>
<circle cx="731.3" cy="512.3" r="2.5"/>
<circle cx="731.9" cy="512.6" r="2.5"/>
<circle cx="732.5" cy="512.3" r="2.5"/>
<circle cx="733.2" cy="512.2" r="2.5"/>
<circle cx="733.8" cy="512.6" r="2.5"/>
<circle cx="734.4" cy="511.9" r="2.5"/>
<circle cx="735.0" cy="512.4" r="2.5"/>
<circle cx="735.7" cy="512.3" r="2.5"/>
<circle cx="736.3" cy="512.4" r="2.5"/>
<circle cx="736.9" cy="512.4" r="2.5"/>
<circle cx="737.5" cy="512.4" r="2.5"/>
<circle cx="738.1" cy="512.0" r="2.5"/>
<circle cx="738.8" cy="512.6" r="2.5"/>
<circle cx="739.4" cy="512.4" r="2.5"/>
<circle cx="740.0" cy="512.2" r="2.5"/>
<circle cx="740.6" cy="512.3" r="2.5"/>
<circle cx="741.3" cy="512.4" r="2.5"/>
<circle cx="741.9" cy="512.3" r="2.5"/>
<circle cx="742.5" cy="512.6" r="2.5"/>
<circle cx="743.1" cy="512.4" r="2.5"/>
<circle cx="743.7" cy="512.3" r="2.5"/>
<circle cx="744.4" cy="512.1" r="2.5"/>
<circle cx="745.0" cy="512.3" r="2.5"/>
<circle cx="745.6" cy="512.3" r="2.5"/>
<circle cx="746.2" cy="512.1" r="2.5"/>
<circle cx="746.9" cy="512.4" r="2.5"/>
<circle cx="747.5" cy="512.2" r="2.5"/>
<circle cx="748.1" cy="512.5" r="2.5"/>
<circle cx="748.7" cy="512.2" r="2.5"/>
<circle cx="749.3" cy="512.2" r="2.5"/>
<circle cx="750.0" cy="512.1" r="2.5"/>
<circle cx="750.6" cy="512.0" r="2.5"/>
<circle cx="751.2" cy="512.0" r="2.5"/>
<circle cx="751.8" cy="511.9" r="2.5"/>
<circle cx="752.5" cy="512.5" r="2.5"/>
<circle cx="753.1" cy="511.9" r="2.5"/>
<circle cx="753.7" cy="512.3" r="2.5"/>
<circle cx="754.3" cy="512.4" r="2.5"/>
<circle cx="754.9" cy="512.3" r="2.5"/>
<circle cx="755.6" cy="511.9" r="2.5"/>
<circle cx="756.2" cy="511.9" r="2.5"/>
<circle cx="756.8" cy="512.0" r="2.5"/>
<circle cx="757.4" cy="512.4" r="2.5"/>
<circle cx="758.1" cy="512.6" r="2.5"/>
<circle cx="758.7" cy="513.1" r="2.5"/>
<circle cx="759.0" cy="528.0" r="3.2"/>
<circle cx="759.3" cy="667.3" r="3.2"/>
<circle cx="759.5" cy="692.9" r="3.2"/>
<circle cx="759.9" cy="724.3" r="3.2"/>
<circle cx="760.2" cy="754.6" r="3.2"/>
<circle cx="759.9" cy="770.6" r="3.2"/>
</g>
</g>
<rect x="636.1" y="503.7" width="374.29999999999995" height="274.3" fill="none" stroke="#000" stroke-width="2"/>
<line x1="630.1" y1="778.0" x2="636.1" y2="778.0" stroke="#000" stroke-width="1.8"/>
<text x="626.3" y="783.0" font-size="14.1" text-anchor="end" fill="#1a1a1a" >0</text>
<line x1="630.1" y1="724.8" x2="636.1" y2="724.8" stroke="#000" stroke-width="1.8"/>
<text x="626.3" y="729.8" font-size="14.1" text-anchor="end" fill="#1a1a1a" >20</text>
<line x1="630.1" y1="671.6" x2="636.1" y2="671.6" stroke="#000" stroke-width="1.8"/>
<text x="626.3" y="676.6" font-size="14.1" text-anchor="end" fill="#1a1a1a" >40</text>
<line x1="630.1" y1="618.4" x2="636.1" y2="618.4" stroke="#000" stroke-width="1.8"/>
<text x="626.3" y="623.4" font-size="14.1" text-anchor="end" fill="#1a1a1a" >60</text>
<line x1="630.1" y1="565.2" x2="636.1" y2="565.2" stroke="#000" stroke-width="1.8"/>
<text x="626.3" y="570.2" font-size="14.1" text-anchor="end" fill="#1a1a1a" >80</text>
<line x1="630.1" y1="512.0" x2="636.1" y2="512.0" stroke="#000" stroke-width="1.8"/>
<text x="626.3" y="517.0" font-size="14.1" text-anchor="end" fill="#1a1a1a" >100</text>
<line x1="632.9" y1="751.4" x2="636.1" y2="751.4" stroke="#000" stroke-width="1.6"/>
<line x1="632.9" y1="698.2" x2="636.1" y2="698.2" stroke="#000" stroke-width="1.6"/>
<line x1="632.9" y1="645.0" x2="636.1" y2="645.0" stroke="#000" stroke-width="1.6"/>
<line x1="632.9" y1="591.8" x2="636.1" y2="591.8" stroke="#000" stroke-width="1.6"/>
<line x1="632.9" y1="538.6" x2="636.1" y2="538.6" stroke="#000" stroke-width="1.6"/>
<line x1="636.1" y1="778.0" x2="636.1" y2="784.0" stroke="#000" stroke-width="1.8"/>
<text x="636.1" y="798.5" font-size="14.1" text-anchor="middle" fill="#1a1a1a" >0</text>
<line x1="667.2" y1="778.0" x2="667.2" y2="781.2" stroke="#000" stroke-width="1.6"/>
<line x1="698.3" y1="778.0" x2="698.3" y2="784.0" stroke="#000" stroke-width="1.8"/>
<text x="698.3" y="798.5" font-size="14.1" text-anchor="middle" fill="#1a1a1a" >100</text>
<line x1="729.4" y1="778.0" x2="729.4" y2="781.2" stroke="#000" stroke-width="1.6"/>
<line x1="760.5" y1="778.0" x2="760.5" y2="784.0" stroke="#000" stroke-width="1.8"/>
<text x="760.5" y="798.5" font-size="14.1" text-anchor="middle" fill="#1a1a1a" >200</text>
<line x1="791.6" y1="778.0" x2="791.6" y2="781.2" stroke="#000" stroke-width="1.6"/>
<line x1="822.8" y1="778.0" x2="822.8" y2="784.0" stroke="#000" stroke-width="1.8"/>
<text x="822.8" y="798.5" font-size="14.1" text-anchor="middle" fill="#1a1a1a" >300</text>
<line x1="853.9" y1="778.0" x2="853.9" y2="781.2" stroke="#000" stroke-width="1.6"/>
<line x1="885.0" y1="778.0" x2="885.0" y2="784.0" stroke="#000" stroke-width="1.8"/>
<text x="885.0" y="798.5" font-size="14.1" text-anchor="middle" fill="#1a1a1a" >400</text>
<line x1="916.1" y1="778.0" x2="916.1" y2="781.2" stroke="#000" stroke-width="1.6"/>
<line x1="947.2" y1="778.0" x2="947.2" y2="784.0" stroke="#000" stroke-width="1.8"/>
<text x="947.2" y="798.5" font-size="14.1" text-anchor="middle" fill="#1a1a1a" >500</text>
<line x1="978.3" y1="778.0" x2="978.3" y2="781.2" stroke="#000" stroke-width="1.6"/>
<line x1="1009.4" y1="778.0" x2="1009.4" y2="784.0" stroke="#000" stroke-width="1.8"/>
<text x="1009.4" y="798.5" font-size="14.1" text-anchor="middle" fill="#1a1a1a" >600</text>
<text x="572.5" y="512.0" font-size="21" text-anchor="start" fill="#1a1a1a" >(e)</text>
<text transform="translate(595.6,640.4) rotate(-90)" font-size="18.3" text-anchor="middle" fill="#1a1a1a">Coulombic efficiency (%)</text>
<text x="823.2" y="815.6" font-size="18" text-anchor="middle" fill="#1a1a1a" >Cycle (n)</text>
<text x="664.5" y="551.5" font-size="12.9" text-anchor="start" fill="#F5AE27" >Average: 97.81%</text>
<text x="664.5" y="581.7" font-size="12.9" text-anchor="start" fill="#E97C50" >Average: 97.44%</text>
<text x="665.0" y="679.0" font-size="12.9" text-anchor="start" fill="#4E2490" >Average: 95.17%</text>
<text x="823.5" y="596.5" font-size="12.9" text-anchor="start" fill="#C8486B" >Average: 99.32%</text>
<text x="910.9" y="537.6" font-size="12.9" text-anchor="start" fill="#8E268C" >Average: 99.69%</text>
<line x1="895" y1="666.3" x2="928" y2="666.3" stroke="#F5AE27" stroke-width="2"/>
<circle cx="911.5" cy="666.3" r="3.3" fill="url(#gy)"/>
<text x="931.6" y="671.4" font-size="14.5" text-anchor="start" fill="#1a1a1a" >ZSO</text>
<line x1="895" y1="684.8" x2="928" y2="684.8" stroke="#E97C50" stroke-width="2"/>
<circle cx="911.5" cy="684.8" r="3.3" fill="url(#go)"/>
<text x="931.6" y="689.9" font-size="14.5" text-anchor="start" fill="#1a1a1a" >ZSO-BTAC</text>
<line x1="895" y1="703.2" x2="928" y2="703.2" stroke="#C8486B" stroke-width="2"/>
<circle cx="911.5" cy="703.2" r="3.3" fill="url(#gk)"/>
<text x="931.6" y="708.3" font-size="14.5" text-anchor="start" fill="#1a1a1a" >ZSO-OTAC</text>
<line x1="895" y1="721.6" x2="928" y2="721.6" stroke="#8F2590" stroke-width="2"/>
<circle cx="911.5" cy="721.6" r="3.3" fill="url(#gp)"/>
<text x="931.6" y="726.8" font-size="14.5" text-anchor="start" fill="#1a1a1a" >ZSO-DTAC</text>
<line x1="895" y1="740.1" x2="928" y2="740.1" stroke="#52268F" stroke-width="2"/>
<circle cx="911.5" cy="740.1" r="3.3" fill="url(#gi)"/>
<text x="931.6" y="745.2" font-size="14.5" text-anchor="start" fill="#1a1a1a" >ZSO-CTAC</text>
<text x="1006.5" y="768.4" font-size="14.3" text-anchor="end" fill="#1a1a1a">2 mA cm<tspan dy="-6" font-size="10">-2</tspan><tspan dy="6">, 1 mAh cm</tspan><tspan dy="-6" font-size="10">-2</tspan></text>
</g>
</svg>
</body></html>
